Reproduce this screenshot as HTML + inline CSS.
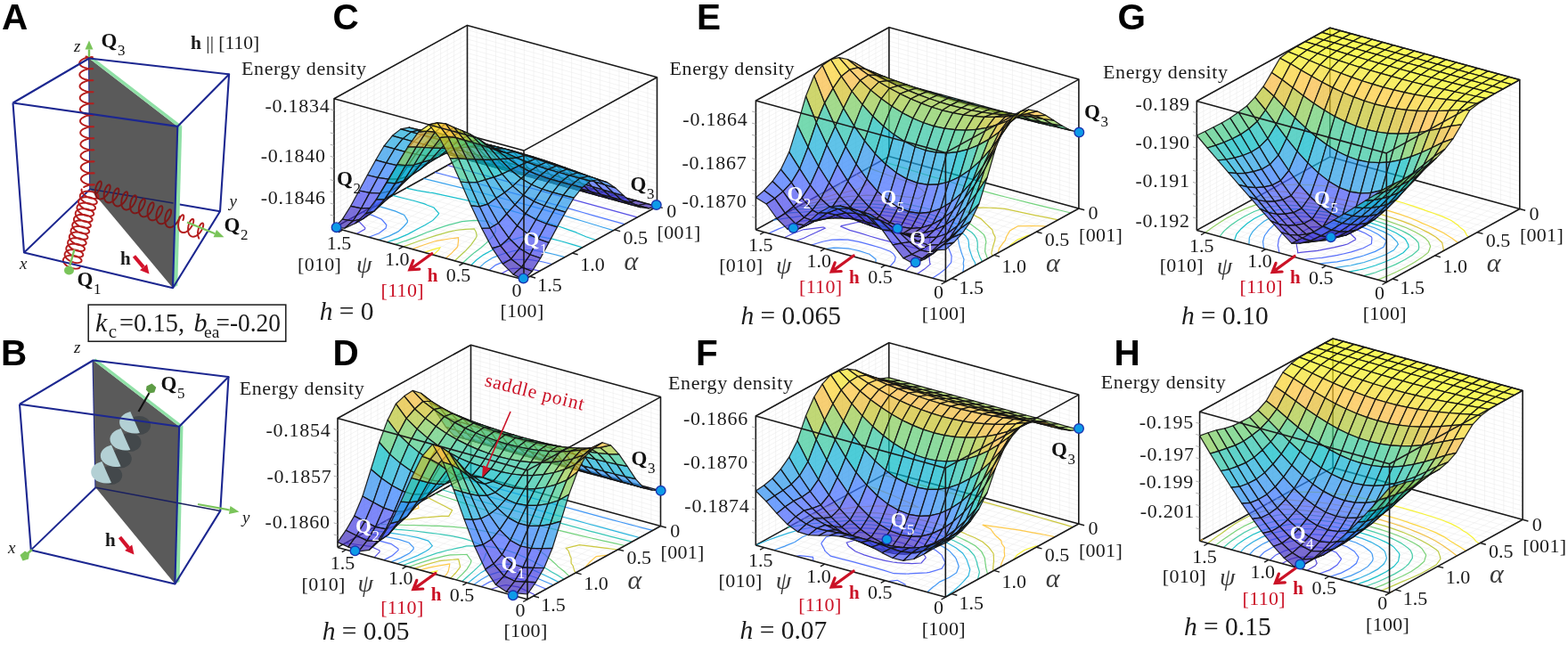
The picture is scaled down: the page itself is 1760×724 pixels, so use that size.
<!DOCTYPE html><html><head><meta charset="utf-8"><title>Figure</title><style>html,body{margin:0;padding:0;background:#fff;overflow:hidden}svg{display:block}</style></head><body><svg width="1760" height="724" viewBox="0 0 1760 724" font-family="Liberation Serif, serif" fill="#1a1a1a"><g id="pA"><path d="M27 283.5L101.2 212.2L247 237.2" fill="none" stroke="#1c2790" stroke-width="2.0"/>
<path d="M101.2 212.2L100 65.5" fill="none" stroke="#1c2790" stroke-width="2.0"/>
<path d="M100 65.5L199.3 141.9L194 323.2L101.2 212.2Z" fill="#5a5a5a"/>
<path d="M100 65.5L199.3 141.9L204.3 141.2L103.5 63.8Z" fill="#8fe0a6"/>
<path d="M199.3 141.9L204.3 141.2L199.3 320.5L194 323.2Z" fill="#8fe0a6"/>
<path d="M101.2 212.2L194.5 228" fill="none" stroke="#1a2060" stroke-width="1.4"/>
<path d="M96.5 63.5L98.5 63.9L100.3 64.2L101.9 64.3L103 64.3L103.8 64.3L104 64.2L103.8 64.1L103 64L101.8 64.1L100.3 64.2L98.5 64.6L96.5 65L94.6 65.7L92.8 66.5L91.3 67.5L90.1 68.6L89.4 69.7L89.1 70.9L89.4 72.1L90.2 73.2L91.4 74.2L93 75.2L94.8 75.9L96.8 76.5L98.7 76.9L100.5 77.2L102.1 77.3L103.3 77.3L104 77.3L104.2 77.2L103.9 77.1L103.2 77L102 77.1L100.4 77.3L98.6 77.6L96.6 78.1L94.7 78.7L92.9 79.6L91.4 80.5L90.2 81.6L89.5 82.8L89.3 84L89.6 85.1L90.4 86.3L91.6 87.3L93.2 88.2L95.1 89L97 89.5L99 90L100.8 90.2L102.3 90.3L103.5 90.4L104.2 90.3L104.4 90.2L104.1 90.1L103.3 90L102.1 90.1L100.5 90.3L98.7 90.6L96.7 91.1L94.8 91.8L93 92.6L91.5 93.6L90.4 94.7L89.7 95.8L89.5 97L89.8 98.2L90.6 99.3L91.9 100.3L93.5 101.2L95.3 102L97.3 102.6L99.2 103L101 103.3L102.5 103.4L103.7 103.4L104.4 103.3L104.6 103.2L104.2 103.1L103.4 103.1L102.2 103.1L100.6 103.3L98.8 103.7L96.8 104.2L94.9 104.8L93.1 105.7L91.6 106.6L90.5 107.7L89.8 108.9L89.7 110.1L90 111.2L90.8 112.4L92.1 113.4L93.7 114.3L95.5 115L97.5 115.6L99.4 116L101.2 116.3L102.7 116.4L103.9 116.4L104.5 116.3L104.7 116.2L104.4 116.1L103.6 116.1L102.3 116.1L100.7 116.3L98.9 116.7L96.9 117.2L95 117.9L93.2 118.7L91.8 119.7L90.6 120.8L90 121.9L89.8 123.1L90.2 124.3L91 125.4L92.3 126.4L93.9 127.3L95.8 128.1L97.7 128.6L99.7 129.1L101.4 129.3L102.9 129.4L104.1 129.4L104.7 129.3L104.9 129.2L104.5 129.1L103.7 129.1L102.4 129.2L100.8 129.4L99 129.7L97 130.2L95.1 130.9L93.4 131.8L91.9 132.7L90.8 133.8L90.1 135L90 136.2L90.4 137.4L91.2 138.5L92.5 139.5L94.2 140.4L96 141.1L98 141.7L99.9 142.1L101.7 142.3L103.2 142.4L104.3 142.4L104.9 142.3L105.1 142.2L104.7 142.1L103.8 142.1L102.6 142.2L100.9 142.4L99.1 142.7L97.1 143.3L95.2 144L93.5 144.8L92 145.8L90.9 146.9L90.3 148.1L90.2 149.2L90.6 150.4L91.4 151.5L92.7 152.5L94.4 153.4L96.3 154.2L98.2 154.7L100.1 155.1L101.9 155.3L103.4 155.4L104.5 155.4L105.1 155.4L105.2 155.2L104.8 155.2L104 155.1L102.7 155.2L101.1 155.4L99.2 155.8L97.3 156.3L95.3 157L93.6 157.9L92.1 158.8L91.1 159.9L90.5 161.1L90.4 162.3L90.8 163.5L91.7 164.6L93 165.6L94.6 166.5L96.5 167.2L98.5 167.7L100.4 168.1L102.1 168.4L103.6 168.5L104.7 168.4L105.3 168.4L105.4 168.3L105 168.2L104.1 168.2L102.8 168.2L101.2 168.4L99.3 168.8L97.4 169.3L95.4 170L93.7 170.9L92.3 171.9L91.2 173L90.6 174.2L90.5 175.4L91 176.5L91.9 177.6L93.2 178.6L94.9 179.5L96.7 180.2L98.7 180.8L100.6 181.2L102.4 181.4L103.8 181.5L104.9 181.5L105.5 181.4L105.6 181.3L105.1 181.2L104.2 181.2L102.9 181.3L101.3 181.5L99.4 181.8L97.5 182.4L95.6 183.1L93.8 184L92.4 185L91.4 186.1L90.8 187.2L90.7 188.4L91.2 189.6L92.1 190.7L93.4 191.7L95.1 192.6L97 193.3L98.9 193.8L100.9 194.2L102.6 194.4L104 194.5L105.1 194.5L105.7 194.4L105.7 194.3L105.3 194.2L104.4 194.2L103 194.3L101.4 194.5L99.5 194.9L97.6 195.4L95.7 196.1L93.9 197L92.5 198L91.5 199.1L90.9 200.3L90.9 201.5L91.4 202.6L92.3 203.7L93.6 204.7L95.3 205.6L97.2 206.3L99.2 206.8L101.1 207.2L102.8 207.4L104.3 207.5L105.3 207.5L105.8 207.4L105.9 207.3L105.4 207.2L104.5 207.2L103.2 207.3L101.5 207.5L99.6 207.9L97.7 208.5L95.8 209.2L94.1 210.1" fill="none" stroke="#b51d1d" stroke-width="1.9" stroke-linejoin="round" stroke-linecap="round"/>
<path d="M91.6 212.4L91.5 214.1L92.1 215.9L93.4 217.6L95.1 219.2L97.3 220.7L99.7 221.8L102.3 222.5L104.7 222.9L106.9 222.9L108.7 222.5L109.9 221.8L110.5 220.9L110.4 219.7L109.7 218.5L108.4 217.3L106.5 216.2L104.1 215.4L101.6 214.8L98.9 214.6L96.3 214.7L94 215.3L92.1 216.2L90.7 217.5L89.9 219L89.8 220.7L90.4 222.4L91.6 224.2L93.4 225.8L95.6 227.2L98 228.3L100.5 229.1L103 229.5L105.2 229.5L106.9 229.1L108.2 228.4L108.8 227.4L108.7 226.3L108 225.1L106.6 223.9L104.7 222.8L102.4 221.9L99.8 221.3L97.2 221.1L94.6 221.3L92.2 221.8L90.3 222.8L88.9 224L88.2 225.5L88.1 227.2L88.7 229L89.9 230.7L91.7 232.4L93.8 233.8L96.3 234.9L98.8 235.7L101.3 236L103.4 236L105.2 235.7L106.5 235L107.1 234L107 232.8L106.3 231.6L104.9 230.4L103 229.3L100.7 228.5L98.1 227.9L95.4 227.7L92.9 227.8L90.5 228.4L88.6 229.3L87.2 230.6L86.5 232.1L86.4 233.8L87 235.6L88.2 237.3L90 238.9L92.1 240.3L94.6 241.5L97.1 242.2L99.5 242.6L101.7 242.6L103.5 242.2L104.7 241.5L105.3 240.5L105.3 239.4L104.6 238.2L103.2 237L101.3 235.9L99 235L96.4 234.5L93.7 234.2L91.1 234.4L88.8 235L86.9 235.9L85.5 237.1L84.8 238.7L84.7 240.3L85.3 242.1L86.5 243.9L88.2 245.5L90.4 246.9L92.8 248L95.4 248.8L97.8 249.2L100 249.2L101.8 248.8L103 248.1L103.6 247.1L103.6 246L102.8 244.7L101.5 243.5L99.6 242.5L97.3 241.6L94.7 241L92 240.8L89.4 241L87.1 241.5L85.2 242.4L83.8 243.7L83 245.2L82.9 246.9L83.5 248.7L84.8 250.4L86.5 252L88.7 253.5L91.1 254.6L93.7 255.3L96.1 255.7L98.3 255.7L100.1 255.3L101.3 254.6L101.9 253.7L101.8 252.5L101.1 251.3L99.8 250.1L97.9 249L95.5 248.2L93 247.6L90.3 247.4L87.7 247.5L85.4 248.1L83.5 249L82.1 250.3L81.3 251.8L81.2 253.5L81.8 255.2L83 257L84.8 258.6L87 260L89.4 261.1L91.9 261.9L94.4 262.3L96.6 262.3L98.3 261.9L99.6 261.2L100.2 260.2L100.1 259.1L99.4 257.9L98 256.7L96.1 255.6L93.8 254.7L91.2 254.1L88.6 253.9L86 254.1L83.6 254.6L81.7 255.6L80.3 256.8L79.6 258.3L79.5 260L80.1 261.8L81.3 263.5L83.1 265.2L85.2 266.6L87.7 267.7L90.2 268.5L92.7 268.8L94.8 268.8L96.6 268.5L97.9 267.8L98.5 266.8L98.4 265.6L97.7 264.4L96.3 263.2L94.4 262.1L92.1 261.3L89.5 260.7L86.8 260.5L84.3 260.6L81.9 261.2L80 262.1L78.6 263.4L77.9 264.9L77.8 266.6L78.4 268.4L79.6 270.1L81.4 271.7L83.5 273.1L86 274.3L88.5 275L90.9 275.4L93.1 275.4L94.9 275L96.1 274.3L96.7 273.3L96.7 272.2L96 271L94.6 269.8L92.7 268.7L90.4 267.8L87.8 267.3L85.1 267L82.5 267.2L80.2 267.8L78.3 268.7L76.9 269.9L76.2 271.5L76.1 273.1L76.7 274.9L77.9 276.7L79.6 278.3L81.8 279.7L84.2 280.8L86.8 281.6L89.2 282L91.4 282L93.2 281.6L94.4 280.9L95 279.9L95 278.8L94.2 277.5L92.9 276.3L91 275.3L88.7 274.4L86.1 273.8L83.4 273.6L80.8 273.8L78.5 274.3L76.6 275.2L75.2 276.5L74.4 278L74.3 279.7L74.9 281.5L76.2 283.2L77.9 284.8L80.1 286.3L82.5 287.4L85.1 288.1L87.5 288.5L89.7 288.5L91.5 288.1L92.7 287.4L93.3 286.5L93.2 285.3L92.5 284.1L91.2 282.9L89.3 281.8L86.9 281L84.4 280.4L81.7 280.2L79.1 280.3L76.8 280.9L74.9 281.8L73.5 283.1L72.7 284.6L72.6 286.3L73.2 288L74.4 289.8L76.2 291.4L78.4 292.8L80.8 293.9L83.3 294.7L85.8 295.1L88 295.1L89.7 294.7L91 294L91.6 293L91.5 291.9L90.8 290.7L89.4 289.5L87.5 288.4L85.2 287.5L82.6 286.9L80 286.7L77.4 286.9L75 287.4L73.1 288.4L71.7 289.6L71 291.1L70.9 292.8L71.5 294.6L72.7 296.3L74.5 298L76.6 299.4L79.1 300.5L81.6 301.3L84.1 301.6L86.2 301.6L88 301.3L89.3 300.6L89.9 299.6" fill="none" stroke="#b51d1d" stroke-width="1.9" stroke-linejoin="round" stroke-linecap="round"/>
<path d="M107.8 217.3L109.6 215.6L111.1 213.5L112.3 211.3L113.2 209.2L113.8 207.1L113.9 205.4L113.6 204.2L113.1 203.5L112.2 203.4L111.2 204L110.1 205.1L109.1 206.7L108.1 208.8L107.4 211.2L107 213.8L106.9 216.3L107.2 218.6L108 220.6L109 222.2L110.5 223.2L112.1 223.6L114 223.3L115.9 222.5L117.7 221.2L119.5 219.4L121 217.3L122.2 215.1L123.1 212.9L123.6 210.9L123.7 209.3L123.4 208.1L122.8 207.4L121.9 207.4L120.9 208L119.8 209.2L118.7 210.9L117.8 213L117.1 215.4L116.7 217.9L116.7 220.4L117.1 222.8L117.8 224.7L118.9 226.2L120.4 227.2L122.1 227.5L123.9 227.2L125.8 226.4L127.7 225L129.4 223.2L130.9 221.1L132.1 218.9L132.9 216.7L133.4 214.8L133.4 213.1L133.1 212L132.5 211.4L131.6 211.4L130.6 212L129.5 213.3L128.4 215L127.5 217.2L126.9 219.6L126.5 222.1L126.5 224.6L126.9 226.9L127.7 228.8L128.8 230.3L130.3 231.2L132 231.5L133.8 231.2L135.8 230.2L137.6 228.8L139.3 227L140.8 224.9L142 222.7L142.8 220.5L143.2 218.6L143.2 217L142.9 215.9L142.2 215.3L141.3 215.4L140.3 216.1L139.2 217.4L138.1 219.2L137.3 221.3L136.6 223.8L136.3 226.3L136.3 228.8L136.7 231.1L137.6 233L138.7 234.4L140.2 235.2L141.9 235.5L143.8 235.1L145.7 234.1L147.6 232.6L149.3 230.8L150.7 228.7L151.8 226.4L152.6 224.3L153 222.4L153 220.8L152.6 219.8L151.9 219.3L151 219.4L150 220.1L148.9 221.5L147.8 223.3L147 225.5L146.4 228L146.1 230.5L146.1 233L146.6 235.2L147.4 237.1L148.6 238.4L150.1 239.2L151.9 239.4L153.7 239L155.7 238L157.5 236.5L159.2 234.6L160.6 232.4L161.7 230.2L162.4 228.1L162.8 226.2L162.7 224.7L162.3 223.7L161.6 223.2L160.7 223.4L159.6 224.2L158.6 225.6L157.5 227.4L156.7 229.7L156.1 232.1L155.8 234.7L155.9 237.1L156.4 239.4L157.3 241.2L158.5 242.5L160.1 243.2L161.8 243.4L163.7 242.9L165.6 241.8L167.4 240.3L169.1 238.3L170.5 236.2L171.6 234L172.3 231.9L172.6 230L172.5 228.5L172.1 227.6L171.3 227.2L170.4 227.4L169.3 228.3L168.2 229.7L167.2 231.6L166.4 233.9L165.8 236.3L165.6 238.9L165.7 241.3L166.3 243.5L167.2 245.3L168.4 246.6L170 247.2L171.8 247.3L173.6 246.8L175.5 245.7L177.4 244.1L179 242.1L180.4 240L181.4 237.8L182.1 235.7L182.4 233.8L182.3 232.4L181.8 231.5L181 231.2L180.1 231.4L179 232.3L177.9 233.8L176.9 235.7L176.1 238L175.6 240.5L175.4 243.1L175.5 245.5L176.1 247.6L177.1 249.4L178.3 250.6L179.9 251.2L181.7 251.3L183.6 250.7L185.5 249.5L187.3 247.9L188.9 245.9L190.3 243.8L191.3 241.5L191.9 239.5L192.1 237.7L192 236.3L191.5 235.4L190.8 235.1L189.8 235.5L188.7 236.4L187.6 237.9L186.6 239.9L185.9 242.2L185.3 244.7L185.2 247.2L185.4 249.7L186 251.8L186.9 253.5L188.3 254.7L189.8 255.2L191.6 255.2L193.5 254.6L195.4 253.4L197.2 251.7L198.8 249.7L200.1 247.5L201.1 245.3L201.7 243.3" fill="none" stroke="#7d1717" stroke-width="1.9" stroke-linejoin="round" stroke-linecap="round"/>
<path d="M205.4 247.1L206.1 245.1L206.3 243.4L206.2 242.2L205.8 241.4L205.1 241.2L204.2 241.6L203.2 242.6L202.2 244.2L201.3 246.2L200.6 248.5L200.2 250.9L200.1 253.4L200.4 255.8L201 257.8L202.1 259.4L203.5 260.5L205.1 261L206.9 261L208.9 260.3L210.8 259.1L212.6 257.5L214.2 255.5L215.5 253.5L216.5 251.4L217.1 249.4L217.3 247.8L217.2 246.6L216.7 245.9L215.9 245.9L215 246.4L214 247.5L213 249.1L212.1 251.1L211.5 253.5L211.1 255.9L211.1 258.4L211.4 260.7L212.1 262.7L213.2 264.2L214.7 265.3L216.3 265.7L218.2 265.5L220.1 264.8L222 263.5L223.8 261.8L225.4 259.9L226.6 257.8L227.6 255.7L228.1 253.8L228.3 252.2L228.1 251.1L227.5 250.5L226.8 250.5L225.8 251.1L224.8 252.3L223.8 254L223 256.1L222.4 258.5L222 260.9L222.1 263.4L222.5 265.7L223.3 267.6" fill="none" stroke="#b51d1d" stroke-width="1.9" stroke-linejoin="round" stroke-linecap="round"/>
<path d="M14.5 115.5L100 65.5L257.1 83.4L199.3 141.9L14.5 115.5" fill="none" stroke="#1c2790" stroke-width="2.1" stroke-linejoin="round"/>
<path d="M14.5 115.5L27 283.5L194 323.2L247 237.2L257.1 83.4" fill="none" stroke="#1c2790" stroke-width="2.1" stroke-linejoin="round"/>
<path d="M199.3 141.9L194 323.2" fill="none" stroke="#1c2790" stroke-width="2.1"/>
<path d="M100 64L100 55.5" stroke="#7ac45a" stroke-width="2.4" fill="none"/><path d="M100 45.5L104.5 55.5L95.5 55.5Z" fill="#7ac45a"/>
<path d="M210 249.5L241.3 262.2" stroke="#7ac45a" stroke-width="2.2" fill="none"/><path d="M251.5 266.3L239.6 266.3L243 258Z" fill="#7ac45a"/>
<path d="M83.5 280L78.5 298" fill="none" stroke="#7ac45a" stroke-width="2.4"/>
<ellipse cx="77.5" cy="303.5" rx="5.5" ry="5" fill="#7ac45a"/>
<text x="83" y="58" font-size="19" font-style="italic">z</text>
<text x="113.5" y="53" font-size="23" font-weight="bold" fill="#111">Q<tspan font-size="17" font-weight="normal" dx="0.5" dy="9.2">3</tspan></text>
<text x="214" y="55" font-size="21.5"><tspan font-weight="bold">h</tspan> || [110]</text>
<text x="257.5" y="232" font-size="19" font-style="italic">y</text>
<text x="251.5" y="259.6" font-size="23" font-weight="bold" fill="#111">Q<tspan font-size="17" font-weight="normal" dx="0.5" dy="9.2">2</tspan></text>
<text x="22" y="302" font-size="19" font-style="italic">x</text>
<text x="86.5" y="321" font-size="23" font-weight="bold" fill="#111">Q<tspan font-size="17" font-weight="normal" dx="0.5" dy="9.2">1</tspan></text>
<text x="135" y="297" font-size="21" font-weight="bold">h</text>
<path d="M150.5 287.5L161 299.9" stroke="#d3122b" stroke-width="4.2" fill="none"/><path d="M167.5 307.5L157 303.3L165 296.5Z" fill="#d3122b"/>
<rect x="99.2" y="342.1" width="221.6" height="41.1" fill="#fff" stroke="#1a1a1a" stroke-width="1.5"/>
<text font-size="30"><tspan x="107" y="372.2" font-style="italic">k</tspan><tspan x="121.8" y="378.8" font-size="21">c</tspan><tspan x="134" y="372.2" textLength="73" lengthAdjust="spacingAndGlyphs">=0.15,</tspan><tspan x="210" y="372.2"> </tspan><tspan x="217.5" y="372.2" font-style="italic">b</tspan><tspan x="229" y="378.8" font-size="19.5">ea</tspan><tspan x="242.5" y="372.2" textLength="72.5" lengthAdjust="spacingAndGlyphs">=-0.20</tspan></text></g>
<g id="pB"><path d="M34.8 617.4L107.4 547.3" fill="none" stroke="#1c2790" stroke-width="2.0"/>
<path d="M107.4 547.3L104.5 404.5" fill="none" stroke="#1c2790" stroke-width="2.0"/>
<path d="M104.5 404.5L201.2 478.7L196.4 655.5L107.4 547.3Z" fill="#5a5a5a"/>
<path d="M104.5 404.5L201.2 478.7L205.5 478L107.5 402.5Z" fill="#8fe0a6"/>
<path d="M201.2 478.7L205.5 478L201.5 653L196.4 655.5Z" fill="#8fe0a6"/>
<path d="M107.4 547.3L247.3 573.4" fill="none" stroke="#1a2060" stroke-width="1.5"/>
<path d="M137.2 533.5L137 535.3L136.4 537.1L135.5 538.8L134.2 540.2L132.6 541.5L130.7 542.6L128.6 543.4L126.5 543.8L124.2 544L121.9 543.8L119.8 543.4L117.7 542.6L115.8 541.5L114.2 540.2L112.9 538.8L112 537.1L111.4 535.3L111.2 533.5L111.4 531.7L112 529.9L112.9 528.2L114.2 526.8L115.8 525.5L117.7 524.4L119.8 523.6L121.9 523.2L124.2 523L126.5 523.2L128.6 523.6L130.7 524.4L132.6 525.5L134.2 526.8L135.5 528.2L136.4 529.9L137 531.7Z" fill="#43484b"/>
<path d="M147.8 515L147.6 516.8L147 518.6L146.1 520.2L144.8 521.7L143.2 523L141.3 524.1L139.2 524.9L137.1 525.3L134.8 525.5L132.5 525.3L130.4 524.9L128.3 524.1L126.4 523L124.8 521.7L123.5 520.2L122.6 518.6L122 516.8L121.8 515L122 513.2L122.6 511.4L123.5 509.8L124.8 508.3L126.4 507L128.3 505.9L130.4 505.1L132.5 504.7L134.8 504.5L137.1 504.7L139.2 505.1L141.3 505.9L143.2 507L144.8 508.3L146.1 509.8L147 511.4L147.6 513.2Z" fill="#43484b"/>
<path d="M158.5 496.5L158.3 498.3L157.7 500.1L156.8 501.8L155.5 503.2L153.9 504.5L152 505.6L149.9 506.4L147.8 506.8L145.5 507L143.2 506.8L141.1 506.4L139 505.6L137.1 504.5L135.5 503.2L134.2 501.8L133.3 500.1L132.7 498.3L132.5 496.5L132.7 494.7L133.3 492.9L134.2 491.2L135.5 489.8L137.1 488.5L139 487.4L141.1 486.6L143.2 486.2L145.5 486L147.8 486.2L149.9 486.6L152 487.4L153.9 488.5L155.5 489.8L156.8 491.2L157.7 492.9L158.3 494.7Z" fill="#43484b"/>
<path d="M169.1 477.5L168.9 479.3L168.3 481.1L167.4 482.8L166.1 484.2L164.5 485.5L162.6 486.6L160.5 487.4L158.4 487.8L156.1 488L153.8 487.8L151.7 487.4L149.6 486.6L147.7 485.5L146.1 484.2L144.8 482.8L143.9 481.1L143.3 479.3L143.1 477.5L143.3 475.7L143.9 473.9L144.8 472.2L146.1 470.8L147.7 469.5L149.6 468.4L151.7 467.6L153.8 467.2L156.1 467L158.4 467.2L160.5 467.6L162.6 468.4L164.5 469.5L166.1 470.8L167.4 472.2L168.3 473.9L168.9 475.7Z" fill="#43484b"/>
<path d="M125 541.9L122 542.4L119 542.5L116 542.2L113 541.6L110.3 540.6L107.9 539.2L105.8 537.6L104.2 535.8L103 533.8L102.4 531.7L102.2 529.5L102.6 527.3L103.5 525.2L104.9 523.3L106.8 521.6L109 520.1L111.6 518.9L114.4 518.1Z" fill="#b3d0d4"/>
<path d="M135.6 523.4L132.6 523.9L129.6 524L126.6 523.7L123.6 523.1L120.9 522.1L118.5 520.7L116.4 519.1L114.8 517.3L113.6 515.3L113 513.2L112.8 511L113.2 508.8L114.1 506.7L115.5 504.8L117.4 503.1L119.6 501.6L122.2 500.4L125 499.6Z" fill="#b3d0d4"/>
<path d="M146.3 504.9L143.3 505.4L140.3 505.5L137.3 505.2L134.3 504.6L131.6 503.6L129.2 502.2L127.1 500.6L125.5 498.8L124.3 496.8L123.7 494.7L123.5 492.5L123.9 490.3L124.8 488.2L126.2 486.3L128.1 484.6L130.3 483.1L132.9 481.9L135.7 481.1Z" fill="#b3d0d4"/>
<path d="M156.9 485.9L153.9 486.4L150.9 486.5L147.9 486.2L144.9 485.6L142.2 484.6L139.8 483.2L137.7 481.6L136.1 479.8L134.9 477.8L134.3 475.7L134.1 473.5L134.5 471.3L135.4 469.2L136.8 467.3L138.7 465.6L140.9 464.1L143.5 462.9L146.3 462.1Z" fill="#b3d0d4"/>
<path d="M155.5 462L167.5 441" fill="none" stroke="#111" stroke-width="2.1"/>
<path d="M164.5 433.5L170.5 430.5L175.3 434.8L173.3 440.5L167.3 441.5L164 437.5Z" fill="#5d9c45"/>
<path d="M22 453.7L104.5 404.5L256.5 423L201.2 478.7L22 453.7" fill="none" stroke="#1c2790" stroke-width="2.1" stroke-linejoin="round"/>
<path d="M22 453.7L34.8 617.4L196.4 655.5L247.3 573.4L256.5 423" fill="none" stroke="#1c2790" stroke-width="2.1" stroke-linejoin="round"/>
<path d="M201.2 478.7L196.4 655.5" fill="none" stroke="#1c2790" stroke-width="2.1"/>
<path d="M222 566L257.7 572.5" stroke="#7ac45a" stroke-width="2.2" fill="none"/><path d="M268.5 574.5L256.9 576.9L258.5 568.1Z" fill="#7ac45a"/>
<path d="M36 617L30 622" fill="none" stroke="#7ac45a" stroke-width="2.4"/>
<path d="M22.5 623L28 618.5L33 621.5L32 627.5L25.5 629.5Z" fill="#7ac45a"/>
<text x="83" y="396" font-size="19" font-style="italic">z</text>
<text x="180.5" y="437.5" font-size="23" font-weight="bold" fill="#111">Q<tspan font-size="17" font-weight="normal" dx="0.5" dy="9.2">5</tspan></text>
<text x="272" y="587" font-size="19" font-style="italic">y</text>
<text x="9" y="620.7" font-size="19" font-style="italic">x</text>
<text x="118" y="613" font-size="21" font-weight="bold">h</text>
<path d="M134.5 603L144.2 614.8" stroke="#d3122b" stroke-width="4.2" fill="none"/><path d="M150.5 622.5L140.1 618.1L148.2 611.4Z" fill="#d3122b"/></g>
<text x="2" y="32.5" font-size="40.5" font-weight="bold" font-family="Liberation Sans, sans-serif" fill="#000">A</text>
<text x="1" y="409.5" font-size="40.5" font-weight="bold" font-family="Liberation Sans, sans-serif" fill="#000">B</text>
<g id="pC"><path d="M385.6 258.5L535.1 176.2M382.5 251.5L595.5 309.9M382.5 251.5L382.5 106.6M535.1 176.2L535.1 31.3M396.3 261.4L545.8 179.1M389.9 247.4L603 305.8M389.9 247.4L389.9 102.5M545.8 179.1L545.8 34.2M406.9 264.4L556.5 182.1M397.4 243.3L610.4 301.7M397.4 243.3L397.4 98.4M556.5 182.1L556.5 37.2M417.6 267.3L567.1 185M404.9 239.1L617.9 297.5M404.9 239.1L404.9 94.2M567.1 185L567.1 40.1M428.2 270.2L577.8 187.9M412.4 235L625.4 293.4M412.4 235L412.4 90.1M577.8 187.9L577.8 43M438.9 273.1L588.4 190.8M419.9 230.9L632.9 289.3M419.9 230.9L419.9 86M588.4 190.8L588.4 45.9M449.6 276L599 193.7M427.3 226.8L640.3 285.2M427.3 226.8L427.3 81.9M599 193.7L599 48.8M460.2 279L609.7 196.7M434.8 222.7L647.8 281.1M434.8 222.7L434.8 77.8M609.7 196.7L609.7 51.8M470.9 281.9L620.4 199.6M442.3 218.6L655.3 277M442.3 218.6L442.3 73.7M620.4 199.6L620.4 54.7M481.5 284.8L631 202.5M449.8 214.4L662.8 272.9M449.8 214.4L449.8 69.5M631 202.5L631 57.6M492.1 287.7L641.6 205.4M457.2 210.3L670.2 268.7M457.2 210.3L457.2 65.4M641.6 205.4L641.6 60.5M502.8 290.6L652.3 208.3M464.7 206.2L677.7 264.6M464.7 206.2L464.7 61.3M652.3 208.3L652.3 63.4M513.5 293.6L663 211.3M472.2 202.1L685.2 260.5M472.2 202.1L472.2 57.2M663 211.3L663 66.4M524.1 296.5L673.6 214.2M479.6 198L692.6 256.4M479.6 198L479.6 53.1M673.6 214.2L673.6 69.3M534.8 299.4L684.2 217.1M487.1 193.9L700.1 252.3M487.1 193.9L487.1 49M684.2 217.1L684.2 72.2M545.4 302.3L694.9 220M494.6 189.8L707.6 248.2M494.6 189.8L494.6 44.9M694.9 220L694.9 75.1M556 305.2L705.5 222.9M502.1 185.6L715.1 244M502.1 185.6L502.1 40.7M705.5 222.9L705.5 78M566.7 308.2L716.2 225.9M509.6 181.5L722.5 239.9M509.6 181.5L509.6 36.6M716.2 225.9L716.2 81M577.4 311.1L726.9 228.8M517 177.4L730 235.8M517 177.4L517 32.5M726.9 228.8L726.9 83.9M375 250.4L524.5 168.1L737.5 226.5M375 245.2L524.5 163L737.5 221.3M375 240.1L524.5 157.8L737.5 216.2M375 234.9L524.5 152.6L737.5 211M375 229.7L524.5 147.4L737.5 205.8M375 224.5L524.5 142.2L737.5 200.6M375 219.4L524.5 137.1L737.5 195.5M375 214.2L524.5 131.9L737.5 190.3M375 209L524.5 126.7L737.5 185.1M375 203.8L524.5 121.6L737.5 179.9M375 198.7L524.5 116.4L737.5 174.8M375 193.5L524.5 111.2L737.5 169.6M375 188.3L524.5 106L737.5 164.4M375 183.1L524.5 100.9L737.5 159.2M375 178L524.5 95.7L737.5 154.1M375 172.8L524.5 90.5L737.5 148.9M375 167.6L524.5 85.3L737.5 143.7M375 162.4L524.5 80.2L737.5 138.5M375 157.3L524.5 75L737.5 133.4M375 152.1L524.5 69.8L737.5 128.2M375 146.9L524.5 64.6L737.5 123M375 141.8L524.5 59.5L737.5 117.8M375 136.6L524.5 54.3L737.5 112.7M375 131.4L524.5 49.1L737.5 107.5M375 126.2L524.5 43.9L737.5 102.3M375 121L524.5 38.8L737.5 97.1M375 115.9L524.5 33.6L737.5 92" fill="none" stroke="#e9e9e9" stroke-width="0.5"/>
<path d="M375 255.6L524.5 173.3L737.5 231.7M524.5 173.3L524.5 28.4" fill="none" stroke="#1a1a1a" stroke-width="1.6"/>
<path d="M605.8 304.2L593.1 301.4L575.6 301.3L572.2 302L562.9 307.1M400.1 262.5L409.5 257.3L409.9 255.9L403.8 249.5L392.8 245.8M502.4 185.5L514.2 188.7L526.1 192L537.9 195.2L549.7 198.4L561.6 201.7L573.4 204.9L585.2 208.2L597.1 211.4L608.9 214.7L620.7 217.9L632.6 221.2L644.4 224.4L656.2 227.6L668.1 230.9L679.9 234.1L691.7 237.4L703.5 240.6L715.4 243.9" fill="none" stroke="#473fe3" stroke-width="1.2" stroke-opacity="0.9"/>
<path d="M619.8 296.5L607.4 293.5L593.6 291.4L589.4 291.3L575.8 291.4L567.3 292.9L556.2 297.6L549.1 303.3M413.9 266.3L425.5 261.7L433.1 256.1L433.8 252.5L429.6 247.5L428 246L418.1 241.6L406.8 238.1M488.2 193.3L500.1 196.5L512 199.7L524 202.8L536 206L547.9 209.2L559.8 212.4L571.7 215.6L583.6 218.8L595.4 222.1L607.3 225.3L619 228.6L630.8 231.9L642.6 235.2L654.3 238.5L666 241.8L677.7 245.1L689.4 248.4L701.2 251.7" fill="none" stroke="#406cfe" stroke-width="1.2" stroke-opacity="0.9"/>
<path d="M634 288.7L622 285.5L609.7 282.6L595.8 280.5L580.4 281.1L575.6 281.8L565.6 284.7L553.4 289.1L544.7 294.4L538.2 300.4M424.8 269.2L437 264.9L447 259.9L453.4 254L457.3 249.4L457.4 247.4L453.8 241.5L444 237.1L432.7 233.6L421 230.3M475.5 200.3L487.7 203.3L499.9 206.4L512.1 209.4L524.3 212.4L536.5 215.5L548.6 218.6L560.6 221.8L567.1 223.5L572.5 225L584.4 228.2L596.2 231.4L601.5 232.9L607.9 234.7L619.6 238.1L631.2 241.5L642.7 244.9L654.1 248.3L665.6 251.8L677 255.3L688.5 258.7" fill="none" stroke="#2699ea" stroke-width="1.2" stroke-opacity="0.9"/>
<path d="M653.8 277.8L642.2 274.4L630.7 271L618.6 267.9L614.2 267.2L605.3 265.4L587.3 265.6L583.6 266.6L570.6 270.7L560.9 275.7L551.8 281L542.5 286.1L534.9 291.7L528.6 297.7M434.4 271.9L446.8 267.6L457.9 262.9L467.3 257.8L476.9 252.7L485.8 247.4L491.5 241.3L492.6 239.6L487 233L479.6 230.3L476.6 228.9L465 225.5L452.9 222.5L440.8 219.4M455.9 211.1L468.5 213.9L482.2 216.1L485.1 216.4L495.3 218.7L508.1 221.4L520.8 224.1L533.6 226.8L546.3 229.6L558.8 232.5L570.9 235.6L582.5 239L593.6 242.6L604.6 246.3L615.5 250.1L626.4 253.8L637.3 257.6L646.1 260.6L647.9 261.5L657.8 265.8L668.9 269.5" fill="none" stroke="#01b8c8" stroke-width="1.2" stroke-opacity="0.9"/>
<path d="M443.5 274.4L453.7 270.8L455.9 270.1L467.7 265.6L478.9 261L490.9 256.6L503.9 252.4L506 251.8L518.6 248.7L531.9 247.3L544.3 248.1L547.7 248.3L549.5 249.5L555.5 253.8L556.5 259.1L553.3 264.8L552.5 265.7L546.9 271.9L540.2 277.8L532.7 283.4L525.8 289.2L524.7 290.3L519.5 295.2" fill="none" stroke="#41ca8c" stroke-width="1.2" stroke-opacity="0.9"/>
<path d="M452.7 276.9L464.9 272.5L474.7 269L477.2 268.2L490.2 264.1L504.2 260.2L511.5 258.5L522 257.4L532.3 256.8L534.4 260.8L535.2 265L533.5 268.2L528.9 274.7L523.2 280.8L522 282L516.8 286.8L510.3 292.7" fill="none" stroke="#acc738" stroke-width="1.2" stroke-opacity="0.9"/>
<path d="M462.7 279.6L474.7 275.2L487.5 271L490 270.4L504.6 268L514.5 266.6L514.5 270.7L513.7 276.8L512.8 278L506.9 284.1L500.3 290" fill="none" stroke="#fdbd3d" stroke-width="1.2" stroke-opacity="0.9"/>
<path d="M476.3 283.4L489 279.1L493.9 278L492.7 280.2L486.7 286.2" fill="none" stroke="#f5ee21" stroke-width="1.2" stroke-opacity="0.9"/>
<g fill-opacity="0.70" stroke="#151515" stroke-opacity="0.95" stroke-width="1.20" stroke-linejoin="round"><path d="M536.3 176.5L524.5 173.3L515.2 175.4L527 178.6Z" fill="#3e27aa"/><path d="M527 178.6L515.2 175.4L505.8 174.2L517.6 177.5Z" fill="#402ab5"/><path d="M517.6 177.5L505.8 174.2L496.5 169.4L508.3 172.6Z" fill="#4433cc"/><path d="M508.3 172.6L496.5 169.4L487.1 161.2L499 164.3Z" fill="#4746ea"/><path d="M499 164.3L487.1 161.2L477.8 152.5L489.6 155.5Z" fill="#4563fc"/><path d="M489.6 155.5L477.8 152.5L468.4 146.2L480.3 148.8Z" fill="#2e84f9"/><path d="M480.3 148.8L468.4 146.2L459.1 143.1L470.9 145.9Z" fill="#259ce7"/><path d="M470.9 145.9L459.1 143.1L449.8 144.9L461.6 148.1Z" fill="#1caadf"/><path d="M461.6 148.1L449.8 144.9L440.4 152.3L452.2 155.6Z" fill="#19addc"/><path d="M452.2 155.6L440.4 152.3L431.1 163.8L442.9 167.2Z" fill="#1fa6e1"/><path d="M442.9 167.2L431.1 163.8L421.7 179.7L433.6 182.8Z" fill="#2797eb"/><path d="M433.6 182.8L421.7 179.7L412.4 196.5L424.2 199.3Z" fill="#307efb"/><path d="M424.2 199.3L412.4 196.5L403 214L414.9 216.4Z" fill="#4562fc"/><path d="M414.9 216.4L403 214L393.7 231.3L405.5 233.8Z" fill="#4848ec"/><path d="M405.5 233.8L393.7 231.3L384.3 246.1L396.2 248Z" fill="#4433cd"/><path d="M396.2 248L384.3 246.1L375 255.6L386.8 256.2Z" fill="#402ab4"/><path d="M548.2 179.8L536.3 176.5L527 178.6L538.8 181.9Z" fill="#3e27aa"/><path d="M538.8 181.9L527 178.6L517.6 177.5L529.5 180.7Z" fill="#402ab5"/><path d="M529.5 180.7L517.6 177.5L508.3 172.6L520.1 175.8Z" fill="#4433cc"/><path d="M520.1 175.8L508.3 172.6L499 164.3L510.8 167.4Z" fill="#4746ea"/><path d="M510.8 167.4L499 164.3L489.6 155.5L501.4 158.3Z" fill="#4563fd"/><path d="M501.4 158.3L489.6 155.5L480.3 148.8L492.1 151.1Z" fill="#2e85f8"/><path d="M492.1 151.1L480.3 148.8L470.9 145.9L482.8 148.5Z" fill="#249de6"/><path d="M482.8 148.5L470.9 145.9L461.6 148.1L473.4 151.4Z" fill="#1baade"/><path d="M473.4 151.4L461.6 148.1L452.2 155.6L464.1 159Z" fill="#19addc"/><path d="M464.1 159L452.2 155.6L442.9 167.2L454.7 170.4Z" fill="#1fa6e2"/><path d="M454.7 170.4L442.9 167.2L433.6 182.8L445.4 185.6Z" fill="#2797eb"/><path d="M445.4 185.6L433.6 182.8L424.2 199.3L436 201.1Z" fill="#3080fb"/><path d="M436 201.1L424.2 199.3L414.9 216.4L426.7 217Z" fill="#4465fd"/><path d="M426.7 217L414.9 216.4L405.5 233.8L417.4 233.4Z" fill="#484df0"/><path d="M417.4 233.4L405.5 233.8L396.2 248L408 245.3Z" fill="#4538d8"/><path d="M408 245.3L396.2 248L386.8 256.2L398.7 250.8Z" fill="#4330c5"/><path d="M560 183L548.2 179.8L538.8 181.9L550.7 185.1Z" fill="#3e27aa"/><path d="M550.7 185.1L538.8 181.9L529.5 180.7L541.3 184Z" fill="#402ab5"/><path d="M541.3 184L529.5 180.7L520.1 175.8L532 179Z" fill="#4433cc"/><path d="M532 179L520.1 175.8L510.8 167.4L522.6 170.4Z" fill="#4746ea"/><path d="M522.6 170.4L510.8 167.4L501.4 158.3L513.3 161Z" fill="#4464fd"/><path d="M513.3 161L501.4 158.3L492.1 151.1L503.9 153.4Z" fill="#2e86f7"/><path d="M503.9 153.4L492.1 151.1L482.8 148.5L494.6 151.1Z" fill="#249fe5"/><path d="M494.6 151.1L482.8 148.5L473.4 151.4L485.2 154.6Z" fill="#1aabdd"/><path d="M485.2 154.6L473.4 151.4L464.1 159L475.9 162.1Z" fill="#19addc"/><path d="M475.9 162.1L464.1 159L454.7 170.4L466.6 173.2Z" fill="#1fa6e1"/><path d="M466.6 173.2L454.7 170.4L445.4 185.6L457.2 187.2Z" fill="#2798ea"/><path d="M457.2 187.2L445.4 185.6L436 201.1L447.9 200.9Z" fill="#2e84f9"/><path d="M447.9 200.9L436 201.1L426.7 217L438.5 214.3Z" fill="#3f6dfe"/><path d="M438.5 214.3L426.7 217L417.4 233.4L429.2 228.3Z" fill="#4759f8"/><path d="M429.2 228.3L417.4 233.4L408 245.3L419.8 237.1Z" fill="#4747eb"/><path d="M419.8 237.1L408 245.3L398.7 250.8L410.5 239.6Z" fill="#4741e6"/><path d="M571.8 186.3L560 183L550.7 185.1L562.5 188.4Z" fill="#3e27aa"/><path d="M562.5 188.4L550.7 185.1L541.3 184L553.1 187.2Z" fill="#402ab5"/><path d="M553.1 187.2L541.3 184L532 179L543.8 182.2Z" fill="#4433cc"/><path d="M543.8 182.2L532 179L522.6 170.4L534.5 173.5Z" fill="#4746eb"/><path d="M534.5 173.5L522.6 170.4L513.3 161L525.1 163.8Z" fill="#4465fd"/><path d="M525.1 163.8L513.3 161L503.9 153.4L515.8 155.6Z" fill="#2d88f6"/><path d="M515.8 155.6L503.9 153.4L494.6 151.1L506.4 153.7Z" fill="#22a1e4"/><path d="M506.4 153.7L494.6 151.1L485.2 154.6L497.1 157.7Z" fill="#19acdc"/><path d="M497.1 157.7L485.2 154.6L475.9 162.1L487.7 164.8Z" fill="#19addb"/><path d="M487.7 164.8L475.9 162.1L466.6 173.2L478.4 174.8Z" fill="#1ea8e1"/><path d="M478.4 174.8L466.6 173.2L457.2 187.2L469.1 186.6Z" fill="#259ce7"/><path d="M469.1 186.6L457.2 187.2L447.9 200.9L459.7 197.4Z" fill="#2d8df2"/><path d="M459.7 197.4L447.9 200.9L438.5 214.3L450.4 207.6Z" fill="#317efb"/><path d="M450.4 207.6L438.5 214.3L429.2 228.3L441 218.1Z" fill="#3e6fff"/><path d="M441 218.1L429.2 228.3L419.8 237.1L431.7 223.6Z" fill="#4563fd"/><path d="M431.7 223.6L419.8 237.1L410.5 239.6L422.3 223.9Z" fill="#4564fd"/><path d="M583.7 189.5L571.8 186.3L562.5 188.4L574.3 191.6Z" fill="#3e27aa"/><path d="M574.3 191.6L562.5 188.4L553.1 187.2L565 190.5Z" fill="#402ab5"/><path d="M565 190.5L553.1 187.2L543.8 182.2L555.6 185.5Z" fill="#4433cc"/><path d="M555.6 185.5L543.8 182.2L534.5 173.5L546.3 176.5Z" fill="#4746eb"/><path d="M546.3 176.5L534.5 173.5L525.1 163.8L536.9 166.7Z" fill="#4465fd"/><path d="M536.9 166.7L525.1 163.8L515.8 155.6L527.6 158Z" fill="#2d89f5"/><path d="M527.6 158L515.8 155.6L506.4 153.7L518.3 156.3Z" fill="#21a3e3"/><path d="M518.3 156.3L506.4 153.7L497.1 157.7L508.9 160.4Z" fill="#18addb"/><path d="M508.9 160.4L497.1 157.7L487.7 164.8L499.6 166.4Z" fill="#17aeda"/><path d="M499.6 166.4L487.7 164.8L478.4 174.8L490.2 174.3Z" fill="#1babde"/><path d="M490.2 174.3L478.4 174.8L469.1 186.6L480.9 183Z" fill="#20a4e3"/><path d="M480.9 183L469.1 186.6L459.7 197.4L471.5 190.2Z" fill="#259ce7"/><path d="M471.5 190.2L459.7 197.4L450.4 207.6L462.2 196.6Z" fill="#2896ec"/><path d="M462.2 196.6L450.4 207.6L441 218.1L452.9 203.2Z" fill="#2b91ef"/><path d="M452.9 203.2L441 218.1L431.7 223.6L443.5 205.8Z" fill="#2c8ef2"/><path d="M443.5 205.8L431.7 223.6L422.3 223.9L434.2 204.9Z" fill="#2994ed"/><path d="M595.5 192.8L583.7 189.5L574.3 191.6L586.2 194.9Z" fill="#3e27aa"/><path d="M586.2 194.9L574.3 191.6L565 190.5L576.8 193.7Z" fill="#402ab5"/><path d="M576.8 193.7L565 190.5L555.6 185.5L567.5 188.7Z" fill="#4433cc"/><path d="M567.5 188.7L555.6 185.5L546.3 176.5L558.1 179.6Z" fill="#4747eb"/><path d="M558.1 179.6L546.3 176.5L536.9 166.7L548.8 169.6Z" fill="#4466fd"/><path d="M548.8 169.6L536.9 166.7L527.6 158L539.4 160.5Z" fill="#2d8af5"/><path d="M539.4 160.5L527.6 158L518.3 156.3L530.1 158.8Z" fill="#20a4e3"/><path d="M530.1 158.8L518.3 156.3L508.9 160.4L520.8 162.6Z" fill="#16afd9"/><path d="M520.8 162.6L508.9 160.4L499.6 166.4L511.4 166.6Z" fill="#13b0d7"/><path d="M511.4 166.6L499.6 166.4L490.2 174.3L502.1 171.2Z" fill="#12b1d6"/><path d="M502.1 171.2L490.2 174.3L480.9 183L492.7 176Z" fill="#13b0d7"/><path d="M492.7 176L480.9 183L471.5 190.2L483.4 179.4Z" fill="#14b0d8"/><path d="M483.4 179.4L471.5 190.2L462.2 196.6L474 182.1Z" fill="#11b1d5"/><path d="M474 182.1L462.2 196.6L452.9 203.2L464.7 185Z" fill="#0ab4d2"/><path d="M464.7 185L452.9 203.2L443.5 205.8L455.3 185.5Z" fill="#03b7cc"/><path d="M455.3 185.5L443.5 205.8L434.2 204.9L446 184.5Z" fill="#0abdbd"/><path d="M607.3 196L595.5 192.8L586.2 194.9L598 198.1Z" fill="#3e27aa"/><path d="M598 198.1L586.2 194.9L576.8 193.7L588.6 197Z" fill="#402ab5"/><path d="M588.6 197L576.8 193.7L567.5 188.7L579.3 191.9Z" fill="#4433cc"/><path d="M579.3 191.9L567.5 188.7L558.1 179.6L570 182.7Z" fill="#4747eb"/><path d="M570 182.7L558.1 179.6L548.8 169.6L560.6 172.5Z" fill="#4466fd"/><path d="M560.6 172.5L548.8 169.6L539.4 160.5L551.3 163.2Z" fill="#2d8bf4"/><path d="M551.3 163.2L539.4 160.5L530.1 158.8L541.9 161.4Z" fill="#1fa6e2"/><path d="M541.9 161.4L530.1 158.8L520.8 162.6L532.6 164.1Z" fill="#13b0d7"/><path d="M532.6 164.1L520.8 162.6L511.4 166.6L523.2 165.2Z" fill="#0ab4d1"/><path d="M523.2 165.2L511.4 166.6L502.1 171.2L513.9 165.8Z" fill="#01b9c8"/><path d="M513.9 165.8L502.1 171.2L492.7 176L504.6 166.4Z" fill="#0bbdbd"/><path d="M504.6 166.4L492.7 176L483.4 179.4L495.2 166.3Z" fill="#20c1b1"/><path d="M495.2 166.3L483.4 179.4L474 182.1L485.9 165.9Z" fill="#30c5a1"/><path d="M485.9 165.9L474 182.1L464.7 185L476.5 165.5Z" fill="#3fca8e"/><path d="M476.5 165.5L464.7 185L455.3 185.5L467.2 164.9Z" fill="#5dcc75"/><path d="M467.2 164.9L455.3 185.5L446 184.5L457.8 164.7Z" fill="#83cc57"/><path d="M619.2 199.3L607.3 196L598 198.1L609.8 201.3Z" fill="#3e27aa"/><path d="M609.8 201.3L598 198.1L588.6 197L600.5 200.2Z" fill="#402ab5"/><path d="M600.5 200.2L588.6 197L579.3 191.9L591.1 195.1Z" fill="#4433cc"/><path d="M591.1 195.1L579.3 191.9L570 182.7L581.8 185.9Z" fill="#4747eb"/><path d="M581.8 185.9L570 182.7L560.6 172.5L572.4 175.6Z" fill="#4366fd"/><path d="M572.4 175.6L560.6 172.5L551.3 163.2L563.1 166.1Z" fill="#2d8bf3"/><path d="M563.1 166.1L551.3 163.2L541.9 161.4L553.8 164Z" fill="#1ea6e1"/><path d="M553.8 164L541.9 161.4L532.6 164.1L544.4 165.2Z" fill="#10b2d5"/><path d="M544.4 165.2L532.6 164.1L523.2 165.2L535.1 163.1Z" fill="#01b8c9"/><path d="M535.1 163.1L523.2 165.2L513.9 165.8L525.7 159.5Z" fill="#1bc0b4"/><path d="M525.7 159.5L513.9 165.8L504.6 166.4L516.4 156.4Z" fill="#36c899"/><path d="M516.4 156.4L504.6 166.4L495.2 166.3L507 153.5Z" fill="#5bcc77"/><path d="M507 153.5L495.2 166.3L485.9 165.9L497.7 150.9Z" fill="#8dcb4f"/><path d="M497.7 150.9L485.9 165.9L476.5 165.5L488.4 148.1Z" fill="#bec32e"/><path d="M488.4 148.1L476.5 165.5L467.2 164.9L479 147.1Z" fill="#e6bb2d"/><path d="M479 147.1L467.2 164.9L457.8 164.7L469.7 148.2Z" fill="#fdbd3d"/><path d="M631 202.5L619.2 199.3L609.8 201.3L621.7 204.6Z" fill="#3e27aa"/><path d="M621.7 204.6L609.8 201.3L600.5 200.2L612.3 203.5Z" fill="#402ab5"/><path d="M612.3 203.5L600.5 200.2L591.1 195.1L603 198.4Z" fill="#4433cc"/><path d="M603 198.4L591.1 195.1L581.8 185.9L593.6 189.1Z" fill="#4747eb"/><path d="M593.6 189.1L581.8 185.9L572.4 175.6L584.3 178.8Z" fill="#4367fd"/><path d="M584.3 178.8L572.4 175.6L563.1 166.1L574.9 169.2Z" fill="#2d8cf3"/><path d="M574.9 169.2L563.1 166.1L553.8 164L565.6 166.8Z" fill="#1ea7e1"/><path d="M565.6 166.8L553.8 164L544.4 165.2L556.2 166.9Z" fill="#0cb3d3"/><path d="M556.2 166.9L544.4 165.2L535.1 163.1L546.9 162.4Z" fill="#04bbc2"/><path d="M546.9 162.4L535.1 163.1L525.7 159.5L537.6 156.2Z" fill="#2fc5a3"/><path d="M537.6 156.2L525.7 159.5L516.4 156.4L528.2 150.9Z" fill="#5fcd73"/><path d="M528.2 150.9L516.4 156.4L507 153.5L518.9 146.7Z" fill="#a2c83f"/><path d="M518.9 146.7L507 153.5L497.7 150.9L509.5 143Z" fill="#dabd28"/><path d="M509.5 143L497.7 150.9L488.4 148.1L500.2 138.9Z" fill="#febe3c"/><path d="M500.2 138.9L488.4 148.1L479 147.1L490.8 137.8Z" fill="#f8d82c"/><path d="M490.8 137.8L479 147.1L469.7 148.2L481.5 139.9Z" fill="#f5ea23"/><path d="M642.8 205.7L631 202.5L621.7 204.6L633.5 207.8Z" fill="#3e27aa"/><path d="M633.5 207.8L621.7 204.6L612.3 203.5L624.1 206.7Z" fill="#402ab5"/><path d="M624.1 206.7L612.3 203.5L603 198.4L614.8 201.6Z" fill="#4433cc"/><path d="M614.8 201.6L603 198.4L593.6 189.1L605.5 192.4Z" fill="#4747eb"/><path d="M605.5 192.4L593.6 189.1L584.3 178.8L596.1 182.1Z" fill="#4367fd"/><path d="M596.1 182.1L584.3 178.8L574.9 169.2L586.8 172.6Z" fill="#2d8bf3"/><path d="M586.8 172.6L574.9 169.2L565.6 166.8L577.4 170.5Z" fill="#1ea7e1"/><path d="M577.4 170.5L565.6 166.8L556.2 166.9L568.1 171.7Z" fill="#0db3d3"/><path d="M568.1 171.7L556.2 166.9L546.9 162.4L558.7 169.5Z" fill="#02bac4"/><path d="M558.7 169.5L546.9 162.4L537.6 156.2L549.4 166Z" fill="#29c3aa"/><path d="M549.4 166L537.6 156.2L528.2 150.9L540.1 162.9Z" fill="#4bcb84"/><path d="M540.1 162.9L528.2 150.9L518.9 146.7L530.7 160Z" fill="#84cc56"/><path d="M530.7 160L518.9 146.7L509.5 143L521.4 157.4Z" fill="#bcc42f"/><path d="M521.4 157.4L509.5 143L500.2 138.9L512 154.6Z" fill="#e9bb30"/><path d="M512 154.6L500.2 138.9L490.8 137.8L502.7 153.6Z" fill="#fec437"/><path d="M502.7 153.6L490.8 137.8L481.5 139.9L493.3 154.7Z" fill="#fad62d"/><path d="M654.7 209L642.8 205.7L633.5 207.8L645.3 211.1Z" fill="#3e27aa"/><path d="M645.3 211.1L633.5 207.8L624.1 206.7L636 210Z" fill="#402ab5"/><path d="M636 210L624.1 206.7L614.8 201.6L626.6 204.9Z" fill="#4433cc"/><path d="M626.6 204.9L614.8 201.6L605.5 192.4L617.3 195.7Z" fill="#4747eb"/><path d="M617.3 195.7L605.5 192.4L596.1 182.1L607.9 185.5Z" fill="#4466fd"/><path d="M607.9 185.5L596.1 182.1L586.8 172.6L598.6 176.1Z" fill="#2d8bf4"/><path d="M598.6 176.1L586.8 172.6L577.4 170.5L589.3 174.4Z" fill="#1fa6e2"/><path d="M589.3 174.4L577.4 170.5L568.1 171.7L579.9 177.1Z" fill="#11b1d6"/><path d="M579.9 177.1L568.1 171.7L558.7 169.5L570.6 178.2Z" fill="#04b6cd"/><path d="M570.6 178.2L558.7 169.5L549.4 166L561.2 178.7Z" fill="#0abdbd"/><path d="M561.2 178.7L549.4 166L540.1 162.9L551.9 179.4Z" fill="#28c3ab"/><path d="M551.9 179.4L540.1 162.9L530.7 160L542.5 179.3Z" fill="#38c896"/><path d="M542.5 179.3L530.7 160L521.4 157.4L533.2 178.9Z" fill="#56cc7a"/><path d="M533.2 178.9L521.4 157.4L512 154.6L523.9 178.5Z" fill="#80cc5a"/><path d="M523.9 178.5L512 154.6L502.7 153.6L514.5 177.9Z" fill="#a9c73a"/><path d="M514.5 177.9L502.7 153.6L493.3 154.7L505.2 177.7Z" fill="#ccc028"/><path d="M666.5 212.2L654.7 209L645.3 211.1L657.2 214.3Z" fill="#3e27aa"/><path d="M657.2 214.3L645.3 211.1L636 210L647.8 213.2Z" fill="#402ab5"/><path d="M647.8 213.2L636 210L626.6 204.9L638.5 208.1Z" fill="#4433cc"/><path d="M638.5 208.1L626.6 204.9L617.3 195.7L629.1 199.1Z" fill="#4747eb"/><path d="M629.1 199.1L617.3 195.7L607.9 185.5L619.8 189Z" fill="#4466fd"/><path d="M619.8 189L607.9 185.5L598.6 176.1L610.4 179.9Z" fill="#2d8af4"/><path d="M610.4 179.9L598.6 176.1L589.3 174.4L601.1 178.3Z" fill="#20a5e2"/><path d="M601.1 178.3L589.3 174.4L579.9 177.1L591.8 182.1Z" fill="#14b0d8"/><path d="M591.8 182.1L579.9 177.1L570.6 178.2L582.4 186.1Z" fill="#0eb3d4"/><path d="M582.4 186.1L570.6 178.2L561.2 178.7L573.1 190.7Z" fill="#06b5cf"/><path d="M573.1 190.7L561.2 178.7L551.9 179.4L563.7 195.4Z" fill="#01b8ca"/><path d="M563.7 195.4L551.9 179.4L542.5 179.3L554.4 198.9Z" fill="#01bac5"/><path d="M554.4 198.9L542.5 179.3L533.2 178.9L545 201.6Z" fill="#0bbdbd"/><path d="M545 201.6L533.2 178.9L523.9 178.5L535.7 204.5Z" fill="#1ec0b2"/><path d="M535.7 204.5L523.9 178.5L514.5 177.9L526.3 205Z" fill="#2cc4a7"/><path d="M526.3 205L514.5 177.9L505.2 177.7L517 204Z" fill="#3ac993"/><path d="M678.3 215.5L666.5 212.2L657.2 214.3L669 217.6Z" fill="#3e27aa"/><path d="M669 217.6L657.2 214.3L647.8 213.2L659.6 216.4Z" fill="#402ab5"/><path d="M659.6 216.4L647.8 213.2L638.5 208.1L650.3 211.4Z" fill="#4433cc"/><path d="M650.3 211.4L638.5 208.1L629.1 199.1L641 202.5Z" fill="#4747eb"/><path d="M641 202.5L629.1 199.1L619.8 189L631.6 192.6Z" fill="#4466fd"/><path d="M631.6 192.6L619.8 189L610.4 179.9L622.3 183.9Z" fill="#2d8af5"/><path d="M622.3 183.9L610.4 179.9L601.1 178.3L612.9 182.2Z" fill="#21a4e3"/><path d="M612.9 182.2L601.1 178.3L591.8 182.1L603.6 186.4Z" fill="#17aeda"/><path d="M603.6 186.4L591.8 182.1L582.4 186.1L594.2 192.4Z" fill="#14b0d8"/><path d="M594.2 192.4L582.4 186.1L573.1 190.7L584.9 200.2Z" fill="#17aeda"/><path d="M584.9 200.2L573.1 190.7L563.7 195.4L575.6 208.9Z" fill="#1babde"/><path d="M575.6 208.9L563.7 195.4L554.4 198.9L566.2 216.2Z" fill="#1fa6e1"/><path d="M566.2 216.2L554.4 198.9L545 201.6L556.9 222.5Z" fill="#20a4e3"/><path d="M556.9 222.5L545 201.6L535.7 204.5L547.5 229.2Z" fill="#21a4e3"/><path d="M547.5 229.2L535.7 204.5L526.3 205L538.2 231.8Z" fill="#20a4e3"/><path d="M538.2 231.8L526.3 205L517 204L528.8 230.9Z" fill="#1aabdd"/><path d="M690.2 218.7L678.3 215.5L669 217.6L680.8 220.8Z" fill="#3e27aa"/><path d="M680.8 220.8L669 217.6L659.6 216.4L671.5 219.7Z" fill="#402ab5"/><path d="M671.5 219.7L659.6 216.4L650.3 211.4L662.1 214.7Z" fill="#4433cc"/><path d="M662.1 214.7L650.3 211.4L641 202.5L652.8 205.9Z" fill="#4746eb"/><path d="M652.8 205.9L641 202.5L631.6 192.6L643.4 196.3Z" fill="#4465fd"/><path d="M643.4 196.3L631.6 192.6L622.3 183.9L634.1 188Z" fill="#2d88f6"/><path d="M634.1 188L622.3 183.9L612.9 182.2L624.8 186.1Z" fill="#22a2e4"/><path d="M624.8 186.1L612.9 182.2L603.6 186.4L615.4 190.1Z" fill="#19addc"/><path d="M615.4 190.1L603.6 186.4L594.2 192.4L606.1 197.2Z" fill="#18aedb"/><path d="M606.1 197.2L594.2 192.4L584.9 200.2L596.7 207.2Z" fill="#1ca9df"/><path d="M596.7 207.2L584.9 200.2L575.6 208.9L587.4 219.1Z" fill="#23a0e5"/><path d="M587.4 219.1L575.6 208.9L566.2 216.2L578 229.9Z" fill="#2994ed"/><path d="M578 229.9L566.2 216.2L556.9 222.5L568.7 240Z" fill="#2d8af4"/><path d="M568.7 240L556.9 222.5L547.5 229.2L559.4 250.5Z" fill="#2f80fa"/><path d="M559.4 250.5L547.5 229.2L538.2 231.8L550 256Z" fill="#3578fd"/><path d="M550 256L538.2 231.8L528.8 230.9L540.7 256.3Z" fill="#327cfc"/><path d="M702 222L690.2 218.7L680.8 220.8L692.7 224.1Z" fill="#3e27aa"/><path d="M692.7 224.1L680.8 220.8L671.5 219.7L683.3 222.9Z" fill="#402ab5"/><path d="M683.3 222.9L671.5 219.7L662.1 214.7L674 218Z" fill="#4433cc"/><path d="M674 218L662.1 214.7L652.8 205.9L664.6 209.4Z" fill="#4746ea"/><path d="M664.6 209.4L652.8 205.9L643.4 196.3L655.3 200Z" fill="#4464fd"/><path d="M655.3 200L643.4 196.3L634.1 188L645.9 192.3Z" fill="#2e87f7"/><path d="M645.9 192.3L634.1 188L624.8 186.1L636.6 190Z" fill="#23a0e5"/><path d="M636.6 190L624.8 186.1L615.4 190.1L627.2 193.5Z" fill="#1aacdd"/><path d="M627.2 193.5L615.4 190.1L606.1 197.2L617.9 201.1Z" fill="#19addc"/><path d="M617.9 201.1L606.1 197.2L596.7 207.2L608.6 212.2Z" fill="#1ea7e1"/><path d="M608.6 212.2L596.7 207.2L587.4 219.1L599.2 226.1Z" fill="#269ae8"/><path d="M599.2 226.1L587.4 219.1L578 229.9L589.9 239.8Z" fill="#2d88f6"/><path d="M589.9 239.8L578 229.9L568.7 240L580.5 253.3Z" fill="#3876fe"/><path d="M580.5 253.3L568.7 240L559.4 250.5L571.2 267.2Z" fill="#4563fd"/><path d="M571.2 267.2L559.4 250.5L550 256L561.8 276Z" fill="#4854f6"/><path d="M561.8 276L550 256L540.7 256.3L552.5 278.6Z" fill="#4851f4"/><path d="M713.8 225.2L702 222L692.7 224.1L704.5 227.3Z" fill="#3e27aa"/><path d="M704.5 227.3L692.7 224.1L683.3 222.9L695.1 226.1Z" fill="#402ab5"/><path d="M695.1 226.1L683.3 222.9L674 218L685.8 221.2Z" fill="#4433cc"/><path d="M685.8 221.2L674 218L664.6 209.4L676.5 212.8Z" fill="#4746ea"/><path d="M676.5 212.8L664.6 209.4L655.3 200L667.1 203.7Z" fill="#4564fd"/><path d="M667.1 203.7L655.3 200L645.9 192.3L657.8 196.6Z" fill="#2e86f8"/><path d="M657.8 196.6L645.9 192.3L636.6 190L648.4 194Z" fill="#249ee6"/><path d="M648.4 194L636.6 190L627.2 193.5L639.1 196.8Z" fill="#1babde"/><path d="M639.1 196.8L627.2 193.5L617.9 201.1L629.7 204.4Z" fill="#19addc"/><path d="M629.7 204.4L617.9 201.1L608.6 212.2L620.4 215.9Z" fill="#1fa6e1"/><path d="M620.4 215.9L608.6 212.2L599.2 226.1L611.1 231Z" fill="#2798ea"/><path d="M611.1 231L599.2 226.1L589.9 239.8L601.7 246.5Z" fill="#2f82fa"/><path d="M601.7 246.5L589.9 239.8L580.5 253.3L592.4 262.4Z" fill="#4269fe"/><path d="M592.4 262.4L580.5 253.3L571.2 267.2L583 278.8Z" fill="#4852f4"/><path d="M583 278.8L571.2 267.2L561.8 276L573.7 290.7Z" fill="#473fe2"/><path d="M573.7 290.7L561.8 276L552.5 278.6L564.3 296.2Z" fill="#4537d6"/><path d="M725.7 228.5L713.8 225.2L704.5 227.3L716.3 230.5Z" fill="#3e27aa"/><path d="M716.3 230.5L704.5 227.3L695.1 226.1L707 229.4Z" fill="#402ab5"/><path d="M707 229.4L695.1 226.1L685.8 221.2L697.6 224.5Z" fill="#4433cc"/><path d="M697.6 224.5L685.8 221.2L676.5 212.8L688.3 216.3Z" fill="#4746ea"/><path d="M688.3 216.3L676.5 212.8L667.1 203.7L678.9 207.4Z" fill="#4563fd"/><path d="M678.9 207.4L667.1 203.7L657.8 196.6L669.6 200.7Z" fill="#2e84f8"/><path d="M669.6 200.7L657.8 196.6L648.4 194L660.3 197.8Z" fill="#259ce7"/><path d="M660.3 197.8L648.4 194L639.1 196.8L650.9 200.1Z" fill="#1caadf"/><path d="M650.9 200.1L639.1 196.8L629.7 204.4L641.6 207.5Z" fill="#19addc"/><path d="M641.6 207.5L629.7 204.4L620.4 215.9L632.2 219.1Z" fill="#1fa6e1"/><path d="M632.2 219.1L620.4 215.9L611.1 231L622.9 234.7Z" fill="#2797eb"/><path d="M622.9 234.7L611.1 231L601.7 246.5L613.5 251.2Z" fill="#307ffb"/><path d="M613.5 251.2L601.7 246.5L592.4 262.4L604.2 268.3Z" fill="#4563fd"/><path d="M604.2 268.3L592.4 262.4L583 278.8L594.9 285.8Z" fill="#484aee"/><path d="M594.9 285.8L583 278.8L573.7 290.7L585.5 299.9Z" fill="#4535d2"/><path d="M585.5 299.9L573.7 290.7L564.3 296.2L576.2 308.1Z" fill="#412dbb"/><path d="M737.5 231.7L725.7 228.5L716.3 230.5L728.2 233.8Z" fill="#3e27aa"/><path d="M728.2 233.8L716.3 230.5L707 229.4L718.8 232.6Z" fill="#402ab5"/><path d="M718.8 232.6L707 229.4L697.6 224.5L709.5 227.8Z" fill="#4433cc"/><path d="M709.5 227.8L697.6 224.5L688.3 216.3L700.1 219.6Z" fill="#4746ea"/><path d="M700.1 219.6L688.3 216.3L678.9 207.4L690.8 210.9Z" fill="#4563fc"/><path d="M690.8 210.9L678.9 207.4L669.6 200.7L681.4 204.6Z" fill="#2e83f9"/><path d="M681.4 204.6L669.6 200.7L660.3 197.8L672.1 201.5Z" fill="#259be8"/><path d="M672.1 201.5L660.3 197.8L650.9 200.1L662.8 203.3Z" fill="#1ca9df"/><path d="M662.8 203.3L650.9 200.1L641.6 207.5L653.4 210.7Z" fill="#19addc"/><path d="M653.4 210.7L641.6 207.5L632.2 219.1L644.1 222.2Z" fill="#1fa6e1"/><path d="M644.1 222.2L632.2 219.1L622.9 234.7L634.7 238.1Z" fill="#2797eb"/><path d="M634.7 238.1L622.9 234.7L613.5 251.2L625.4 254.9Z" fill="#317efb"/><path d="M625.4 254.9L613.5 251.2L604.2 268.3L616 272.4Z" fill="#4561fc"/><path d="M616 272.4L604.2 268.3L594.9 285.8L606.7 289.7Z" fill="#4747eb"/><path d="M606.7 289.7L594.9 285.8L585.5 299.9L597.3 304.5Z" fill="#4433cc"/><path d="M597.3 304.5L585.5 299.9L576.2 308.1L588 314Z" fill="#3f29b2"/></g>
<path d="M375 255.6L588 314L737.5 231.7M375 255.6L375 110.7M588 314L588 169.1M737.5 231.7L737.5 86.8M375 110.7L588 169.1L737.5 86.8L524.5 28.4Z" fill="none" stroke="#1a1a1a" stroke-width="1.6" stroke-linejoin="round"/>
<path d="M588 314L583.2 316.7M737.5 231.7L743.8 233.4M520.2 295.4L515.4 298.1M689.9 257.9L696.2 259.6M452.4 276.8L447.6 279.5M642.3 284.1L648.6 285.8M384.6 258.2L379.8 260.9M594.7 310.3L601 312" stroke="#1a1a1a" stroke-width="1.4" fill="none"/><path d="M375 242.4L370.7 241.2M375 229.3L370.7 228.1M375 216.1L370.7 214.9M375 202.9L370.7 201.7M375 189.7L370.7 188.5M375 176.6L370.7 175.4M375 163.4L370.7 162.2M375 150.2L370.7 149M375 137L370.7 135.9M375 123.9L370.7 122.7" stroke="#9a9a9a" stroke-width="0.8" fill="none"/>
<text x="271" y="84.3" font-size="22" textLength="140" lengthAdjust="spacing">Energy density</text>
<text x="370.5" y="126.3" font-size="22" text-anchor="end" letter-spacing="0.75">-0.1834</text>
<text x="365.8" y="182.4" font-size="22" text-anchor="end" letter-spacing="0.75">-0.1840</text>
<text x="365.8" y="229" font-size="22" text-anchor="end" letter-spacing="0.75">-0.1846</text>
<text x="366.7" y="279.9" font-size="22">1.5</text>
<text x="334" y="304" font-size="22" letter-spacing="0.3">[010]</text>
<text x="400" y="306" font-size="28" font-style="italic" fill="#3a3a3a">ψ</text>
<text x="432" y="297.6" font-size="22">1.0</text>
<text x="500.8" y="315.7" font-size="22">0.5</text>
<text x="574.6" y="332.8" font-size="22">0</text>
<text x="561.4" y="356.4" font-size="22" letter-spacing="0.3">[100]</text>
<text x="603.2" y="327.4" font-size="22">1.5</text>
<text x="651.2" y="303.6" font-size="22">1.0</text>
<text x="699.4" y="274" font-size="22">0.5</text>
<text x="748.2" y="244.1" font-size="22">0</text>
<text x="737.6" y="268.2" font-size="22" letter-spacing="0.3">[001]</text>
<text x="700.5" y="302.6" font-size="30" font-style="italic" fill="#3a3a3a">α</text>
<text x="427.5" y="333" font-size="22" fill="#cb1226" letter-spacing="0.3">[110]</text>
<text x="479.7" y="315.5" font-size="21" font-weight="bold" fill="#cb1226">h</text>
<path d="M484.8 284.7L459.8 302.8M470.8 302.2L459.8 302.8L463.8 292.5" fill="none" stroke="#cb1226" stroke-width="3.2" stroke-linecap="round" stroke-linejoin="miter"/>
<text x="358.7" y="359" font-size="29.5"><tspan font-style="italic">h</tspan> = 0</text>
<text x="373.5" y="32.5" font-size="40.5" font-weight="bold" font-family="Liberation Sans, sans-serif" fill="#000">C</text>
<circle cx="377.6" cy="255.2" r="5.3" fill="#0d9be8" stroke="#1b35b0" stroke-width="1.4"/>
<circle cx="587.5" cy="312.4" r="5.3" fill="#0d9be8" stroke="#1b35b0" stroke-width="1.4"/>
<circle cx="736.8" cy="230" r="5.3" fill="#0d9be8" stroke="#1b35b0" stroke-width="1.4"/>
<text x="378" y="208" font-size="23" font-weight="bold" fill="#111">Q<tspan font-size="17" font-weight="normal" dx="0.5" dy="9.2">2</tspan></text>
<text x="587.5" y="276" font-size="23" font-weight="bold" fill="#ffffff">Q<tspan font-size="17" font-weight="normal" dx="0.5" dy="9.2">1</tspan></text>
<text x="707.5" y="213.5" font-size="23" font-weight="bold" fill="#111">Q<tspan font-size="17" font-weight="normal" dx="0.5" dy="9.2">3</tspan></text></g>
<g id="pD"><path d="M389.6 617.3L539.1 535M386.5 610.3L599.5 668.7M386.5 610.3L386.5 465.4M539.1 535L539.1 390.1M400.3 620.2L549.8 537.9M393.9 606.2L607 664.6M393.9 606.2L393.9 461.3M549.8 537.9L549.8 393M410.9 623.2L560.5 540.9M401.4 602.1L614.4 660.5M401.4 602.1L401.4 457.2M560.5 540.9L560.5 396M421.6 626.1L571.1 543.8M408.9 597.9L621.9 656.3M408.9 597.9L408.9 453M571.1 543.8L571.1 398.9M432.2 629L581.8 546.7M416.4 593.8L629.4 652.2M416.4 593.8L416.4 448.9M581.8 546.7L581.8 401.8M442.9 631.9L592.4 549.6M423.9 589.7L636.9 648.1M423.9 589.7L423.9 444.8M592.4 549.6L592.4 404.7M453.6 634.8L603 552.5M431.3 585.6L644.3 644M431.3 585.6L431.3 440.7M603 552.5L603 407.6M464.2 637.8L613.7 555.5M438.8 581.5L651.8 639.9M438.8 581.5L438.8 436.6M613.7 555.5L613.7 410.6M474.9 640.7L624.4 558.4M446.3 577.4L659.3 635.8M446.3 577.4L446.3 432.5M624.4 558.4L624.4 413.5M485.5 643.6L635 561.3M453.8 573.2L666.8 631.6M453.8 573.2L453.8 428.4M635 561.3L635 416.4M496.1 646.5L645.6 564.2M461.2 569.1L674.2 627.5M461.2 569.1L461.2 424.2M645.6 564.2L645.6 419.3M506.8 649.4L656.3 567.1M468.7 565L681.7 623.4M468.7 565L468.7 420.1M656.3 567.1L656.3 422.2M517.5 652.4L667 570.1M476.2 560.9L689.2 619.3M476.2 560.9L476.2 416M667 570.1L667 425.2M528.1 655.3L677.6 573M483.6 556.8L696.6 615.2M483.6 556.8L483.6 411.9M677.6 573L677.6 428.1M538.8 658.2L688.2 575.9M491.1 552.7L704.1 611.1M491.1 552.7L491.1 407.8M688.2 575.9L688.2 431M549.4 661.1L698.9 578.8M498.6 548.6L711.6 607M498.6 548.6L498.6 403.7M698.9 578.8L698.9 433.9M560 664L709.5 581.7M506.1 544.4L719.1 602.8M506.1 544.4L506.1 399.5M709.5 581.7L709.5 436.8M570.7 667L720.2 584.7M513.5 540.3L726.5 598.7M513.5 540.3L513.5 395.4M720.2 584.7L720.2 439.8M581.4 669.9L730.9 587.6M521 536.2L734 594.6M521 536.2L521 391.3M730.9 587.6L730.9 442.7M379 609.2L528.5 526.9L741.5 585.3M379 604L528.5 521.8L741.5 580.1M379 598.9L528.5 516.6L741.5 575M379 593.7L528.5 511.4L741.5 569.8M379 588.5L528.5 506.2L741.5 564.6M379 583.4L528.5 501.1L741.5 559.5M379 578.2L528.5 495.9L741.5 554.3M379 573L528.5 490.7L741.5 549.1M379 567.8L528.5 485.5L741.5 543.9M379 562.6L528.5 480.4L741.5 538.8M379 557.5L528.5 475.2L741.5 533.6M379 552.3L528.5 470L741.5 528.4M379 547.1L528.5 464.8L741.5 523.2M379 541.9L528.5 459.7L741.5 518M379 536.8L528.5 454.5L741.5 512.9M379 531.6L528.5 449.3L741.5 507.7M379 526.4L528.5 444.1L741.5 502.5M379 521.2L528.5 439L741.5 497.4M379 516.1L528.5 433.8L741.5 492.2M379 510.9L528.5 428.6L741.5 487M379 505.7L528.5 423.4L741.5 481.8M379 500.5L528.5 418.2L741.5 476.6M379 495.4L528.5 413.1L741.5 471.5M379 490.2L528.5 407.9L741.5 466.3M379 485L528.5 402.7L741.5 461.1M379 479.8L528.5 397.6L741.5 455.9M379 474.7L528.5 392.4L741.5 450.8" fill="none" stroke="#e9e9e9" stroke-width="0.5"/>
<path d="M379 614.4L528.5 532.1L741.5 590.5M528.5 532.1L528.5 387.2" fill="none" stroke="#1a1a1a" stroke-width="1.6"/>
<path d="M600.7 668L599 667L591.4 663.4L581.8 658.9L568 656.7L563.6 657.3L550.8 661.5M420.2 625.7L426.1 619.6L426 617.8L416.2 613.4L402.1 611.5L390.7 609.9L387.7 609.6" fill="none" stroke="#463cde" stroke-width="1.2" stroke-opacity="0.9"/>
<path d="M613.1 661.2L603.1 657L592.9 652.8L581.2 649.5L565.4 648.4L561.3 649L549.2 653.4L540.1 658.6M430.9 628.6L440.5 623.5L447.1 617.6L447 616L439.2 610.6L427.2 607.4L413.7 605L400.1 602.8" fill="none" stroke="#4563fd" stroke-width="1.2" stroke-opacity="0.9"/>
<path d="M621.2 656.7L611.1 652.5L601 648.3L590.2 644.5L577.6 641.7L562.7 641.7L558.7 642.4L548.9 645.6L539.8 650.8L531.9 656.3M439.1 630.9L449.9 626.1L459.5 621.1L464 616.4L464.3 614.7L459.2 609.3L448.2 605.6L435.3 602.9L421.8 600.6L408.2 598.3M519.6 537L531.1 540.4L537.8 542.3L542.8 543.8L554.5 547.1L566.2 550.4L578 553.7L589.7 556.9L601.5 560.2L613.4 563.5L625.2 566.7L637 569.9L648.9 573.2L660.7 576.4L672.6 579.6L684.5 582.8L696.5 586L708.4 589.2L713.6 590.5L720.5 592.3L732.6 595.4" fill="none" stroke="#2d8cf3" stroke-width="1.2" stroke-opacity="0.9"/>
<path d="M627.1 653.5L619 649.4L617.9 648.8L608.4 644.2L598.6 639.9L587.9 636L575.5 633.1L560.4 633.3L552.4 636L548.6 637.8L539.6 643L539.1 643.4L532.2 648.7L525.1 654.5M445.9 632.7L457.5 628.2L468.1 623.9L468.8 623.6L478.5 618.6L481.4 616.6L485.3 612.7L480.8 607.1L469.5 603.6L456.6 601L442.8 598.8L428.6 596.9L426.7 596.7L414.1 595.1M504.9 545.1L516.6 548.4L528.3 551.7L540.1 555L551.9 558.3L563.7 561.5L575.5 564.8L587.3 568L599.1 571.3L611 574.5L622.8 577.8L634.6 581L646.5 584.2L658.4 587.5L670.2 590.7L682.1 593.9L694 597.1L705.9 600.3L717.9 603.5" fill="none" stroke="#18aedb" stroke-width="1.2" stroke-opacity="0.9"/>
<path d="M633.1 650.2L624.7 645L618.3 641.5L616.1 640L607.5 635L598.5 630.2L589.7 625.9L589.1 625.6L579.3 621.2L568.3 617.5L555.7 614.7L541.8 612.6L532 608.2L521 604.6L508.3 601.8L494.4 599.6L493.5 599.5L480.1 597.8L465.5 596L450.4 594.6L446.2 594.3L435.4 593.1L420.1 591.8M452.5 634.5L464.4 630.1L476.6 625.7L488.9 621.4L492.4 620.3L502.9 617.5L518.9 614.2L523.6 612.9L541.4 612.8L547.3 619.3L545.5 621.5L542.9 628.5L539.7 633.3L538.1 634.9L531.8 640.9L525.2 646.8L518.5 652.7M496.3 549.8L507.8 553.3L519.4 556.6L531 560L542.7 563.3L554.4 566.6L566.2 569.9L577.9 573.2L589.7 576.5L601.5 579.7L613.4 583L625.2 586.2L637.2 589.4L649.1 592.6L661 595.8L673 598.9L685.1 602.1L697.1 605.2L709.3 608.2" fill="none" stroke="#24c1ae" stroke-width="1.2" stroke-opacity="0.9"/>
<path d="M639 646.9L632.6 640.7L626.2 635.9L625.4 634.9L618.8 628.7L613.8 624.8L611.9 622.8L604.3 617.3L595.3 612.5L592.8 611.4L585.5 608.1L574.8 604.2L563.4 600.7L551.2 597.7L538.2 595.1L527.7 593.5L524.3 593L509.6 591.3L493.6 590.4L488 590.4L476.8 589.8L459.7 589.5L456.9 589.5L443.3 588.8L426 588.5M458.8 636.3L471.2 632L471.2 631.9L484.3 627.9L498.9 624.1L505.3 622.9L520.8 622.5L524.1 622.4L524.9 623.6L529 629.4L528.2 632.2L524.1 638.8L518.6 644.9L518.5 644.9L512.2 650.9M488.6 554.1L499.5 557.8L510.6 561.4L521.8 565.1L533 568.6L544.3 572.2L555.7 575.7L567.2 579.1L578.8 582.5L590.5 585.8L602.4 589L614.5 592.1L626.7 595.2L639 598.1L651.4 601.1L663.8 604L676.3 606.9L688.9 609.7L701.6 612.5" fill="none" stroke="#64cd6f" stroke-width="1.2" stroke-opacity="0.9"/>
<path d="M646.5 642.8L644.8 641L643.1 634.9L641.1 632.3L641.1 626.3L640.1 624.3L638 618.2L635.3 615.3L649.5 611.9L650.3 611.7L664.5 613.4L678.9 615.2L693.4 617M465.3 638.1L478.1 633.9L492 630L493 629.7L512.2 627.8L514.4 627.7L514.9 628.5L516.6 636.2L516.4 636.7L511.5 643L505.7 649.1M480.4 558.6L489.5 563.3L498.8 568L507.6 572.6L507.5 573L503.8 579.3L496 579.3L480.4 580.6L475.4 580.9L460.8 582.9L453.7 583L438.3 584.4L433.5 584.4" fill="none" stroke="#c6c22a" stroke-width="1.2" stroke-opacity="0.9"/>
<path d="M657 637L656.9 636.7L662.4 630.5L669.3 624.6L682 623.2M472.2 639.9L477.6 638.2L486.4 636.1L503.6 633.2L504.7 633L504.8 633.5L503.3 640.8L501.3 644.7L498.8 647.3M469 564.8L469.9 570L458.1 574.4L444.9 578.5L444 578.6" fill="none" stroke="#fec438" stroke-width="1.2" stroke-opacity="0.9"/>
<path d="M482.4 642.7L490.6 640.8L488.6 644.5" fill="none" stroke="#f6ef20" stroke-width="1.2" stroke-opacity="0.9"/>
<g fill-opacity="0.70" stroke="#151515" stroke-opacity="0.95" stroke-width="1.20" stroke-linejoin="round"><path d="M540.3 495.6L528.5 492.4L519.2 491.7L531 495.2Z" fill="#416bfe"/><path d="M531 495.2L519.2 491.7L509.8 489.4L521.6 492.5Z" fill="#337bfd"/><path d="M521.6 492.5L509.8 489.4L500.5 479.3L512.3 483Z" fill="#2b91ef"/><path d="M512.3 483L500.5 479.3L491.1 465L503 469.2Z" fill="#11b1d6"/><path d="M503 469.2L491.1 465L481.8 451.4L493.6 457.7Z" fill="#36c898"/><path d="M493.6 457.7L481.8 451.4L472.4 441.3L484.3 450.5Z" fill="#9ac945"/><path d="M484.3 450.5L472.4 441.3L463.1 438.4L474.9 450.5Z" fill="#e1bc2b"/><path d="M474.9 450.5L463.1 438.4L453.8 444.6L465.6 459Z" fill="#f2ba38"/><path d="M465.6 459L453.8 444.6L444.4 453.3L456.2 469.6Z" fill="#e3bc2c"/><path d="M456.2 469.6L444.4 453.3L435.1 471.4L446.9 487Z" fill="#bac430"/><path d="M446.9 487L435.1 471.4L425.7 496.5L437.6 509.9Z" fill="#59cc78"/><path d="M437.6 509.9L425.7 496.5L416.4 526.8L428.2 536.8Z" fill="#02bac4"/><path d="M428.2 536.8L416.4 526.8L407 556.9L418.9 563.8Z" fill="#2c8ff0"/><path d="M418.9 563.8L407 556.9L397.7 579.1L409.5 585.4Z" fill="#465dfa"/><path d="M409.5 585.4L397.7 579.1L388.3 595.2L400.2 601.2Z" fill="#463de0"/><path d="M400.2 601.2L388.3 595.2L379 608.6L390.8 613.9Z" fill="#422ebf"/><path d="M552.2 498.9L540.3 495.6L531 495.2L542.8 498.6Z" fill="#416bfe"/><path d="M542.8 498.6L531 495.2L521.6 492.5L533.5 495.6Z" fill="#337afd"/><path d="M533.5 495.6L521.6 492.5L512.3 483L524.1 486.5Z" fill="#2b91ef"/><path d="M524.1 486.5L512.3 483L503 469.2L514.8 473Z" fill="#12b1d7"/><path d="M514.8 473L503 469.2L493.6 457.7L505.4 463.1Z" fill="#33c79d"/><path d="M505.4 463.1L493.6 457.7L484.3 450.5L496.1 457.7Z" fill="#86cb55"/><path d="M496.1 457.7L484.3 450.5L474.9 450.5L486.8 459.6Z" fill="#c4c22b"/><path d="M486.8 459.6L474.9 450.5L465.6 459L477.4 469.6Z" fill="#cec028"/><path d="M477.4 469.6L465.6 459L456.2 469.6L468.1 481.5Z" fill="#afc637"/><path d="M468.1 481.5L456.2 469.6L446.9 487L458.7 498.4Z" fill="#76cc60"/><path d="M458.7 498.4L446.9 487L437.6 509.9L449.4 520.1Z" fill="#31c6a0"/><path d="M449.4 520.1L437.6 509.9L428.2 536.8L440 545Z" fill="#14b0d8"/><path d="M440 545L428.2 536.8L418.9 563.8L430.7 570.1Z" fill="#2e84f8"/><path d="M430.7 570.1L418.9 563.8L409.5 585.4L421.4 591.4Z" fill="#4756f7"/><path d="M421.4 591.4L409.5 585.4L400.2 601.2L412 606.9Z" fill="#4538d8"/><path d="M412 606.9L400.2 601.2L390.8 613.9L402.7 618.8Z" fill="#402bb8"/><path d="M564 502.1L552.2 498.9L542.8 498.6L554.7 501.9Z" fill="#416bfe"/><path d="M554.7 501.9L542.8 498.6L533.5 495.6L545.3 498.7Z" fill="#337afd"/><path d="M545.3 498.7L533.5 495.6L524.1 486.5L536 490Z" fill="#2b91ef"/><path d="M536 490L524.1 486.5L514.8 473L526.6 476.8Z" fill="#13b0d8"/><path d="M526.6 476.8L514.8 473L505.4 463.1L517.3 467.9Z" fill="#31c6a0"/><path d="M517.3 467.9L505.4 463.1L496.1 457.7L507.9 464.1Z" fill="#76cc61"/><path d="M507.9 464.1L496.1 457.7L486.8 459.6L498.6 467.5Z" fill="#acc739"/><path d="M498.6 467.5L486.8 459.6L477.4 469.6L489.2 478.6Z" fill="#adc638"/><path d="M489.2 478.6L477.4 469.6L468.1 481.5L479.9 491.6Z" fill="#81cc58"/><path d="M479.9 491.6L468.1 481.5L458.7 498.4L470.6 508.1Z" fill="#48cb86"/><path d="M470.6 508.1L458.7 498.4L449.4 520.1L461.2 528.5Z" fill="#16bfb7"/><path d="M461.2 528.5L449.4 520.1L440 545L451.9 551.4Z" fill="#1fa6e2"/><path d="M451.9 551.4L440 545L430.7 570.1L442.5 574.1Z" fill="#317dfc"/><path d="M442.5 574.1L430.7 570.1L421.4 591.4L433.2 593.8Z" fill="#4854f5"/><path d="M433.2 593.8L421.4 591.4L412 606.9L423.8 607.5Z" fill="#4539d8"/><path d="M423.8 607.5L412 606.9L402.7 618.8L414.5 617.4Z" fill="#412dbd"/><path d="M575.8 505.4L564 502.1L554.7 501.9L566.5 505.3Z" fill="#416bfe"/><path d="M566.5 505.3L554.7 501.9L545.3 498.7L557.1 501.9Z" fill="#337afd"/><path d="M557.1 501.9L545.3 498.7L536 490L547.8 493.5Z" fill="#2b91ef"/><path d="M547.8 493.5L536 490L526.6 476.8L538.5 480.4Z" fill="#14b0d8"/><path d="M538.5 480.4L526.6 476.8L517.3 467.9L529.1 472.5Z" fill="#2fc5a3"/><path d="M529.1 472.5L517.3 467.9L507.9 464.1L519.8 469.8Z" fill="#6acd6a"/><path d="M519.8 469.8L507.9 464.1L498.6 467.5L510.4 474.4Z" fill="#97ca48"/><path d="M510.4 474.4L498.6 467.5L489.2 478.6L501.1 486.5Z" fill="#8fcb4e"/><path d="M501.1 486.5L489.2 478.6L479.9 491.6L491.7 500.2Z" fill="#5dcc75"/><path d="M491.7 500.2L479.9 491.6L470.6 508.1L482.4 516.3Z" fill="#32c69f"/><path d="M482.4 516.3L470.6 508.1L461.2 528.5L473.1 535Z" fill="#01b9c7"/><path d="M473.1 535L461.2 528.5L451.9 551.4L463.7 554.9Z" fill="#239fe5"/><path d="M463.7 554.9L451.9 551.4L442.5 574.1L454.4 573.9Z" fill="#327dfc"/><path d="M454.4 573.9L442.5 574.1L433.2 593.8L445 590.1Z" fill="#475af9"/><path d="M445 590.1L433.2 593.8L423.8 607.5L435.7 600.3Z" fill="#4744e8"/><path d="M435.7 600.3L423.8 607.5L414.5 617.4L426.3 606.7Z" fill="#463adc"/><path d="M587.7 508.6L575.8 505.4L566.5 505.3L578.3 508.6Z" fill="#416bfe"/><path d="M578.3 508.6L566.5 505.3L557.1 501.9L569 505.1Z" fill="#347afd"/><path d="M569 505.1L557.1 501.9L547.8 493.5L559.6 496.9Z" fill="#2b91ef"/><path d="M559.6 496.9L547.8 493.5L538.5 480.4L550.3 484Z" fill="#15afd9"/><path d="M550.3 484L538.5 480.4L529.1 472.5L540.9 476.8Z" fill="#2ec4a5"/><path d="M540.9 476.8L529.1 472.5L519.8 469.8L531.6 475Z" fill="#61cd72"/><path d="M531.6 475L519.8 469.8L510.4 474.4L522.3 480.6Z" fill="#86cb55"/><path d="M522.3 480.6L510.4 474.4L501.1 486.5L512.9 493.4Z" fill="#77cc60"/><path d="M512.9 493.4L501.1 486.5L491.7 500.2L503.6 507.7Z" fill="#45cb89"/><path d="M503.6 507.7L491.7 500.2L482.4 516.3L494.2 523Z" fill="#24c1af"/><path d="M494.2 523L482.4 516.3L473.1 535L484.9 539.2Z" fill="#08b4d1"/><path d="M484.9 539.2L473.1 535L463.7 554.9L475.5 554.9Z" fill="#249ee6"/><path d="M475.5 554.9L463.7 554.9L454.4 573.9L466.2 568.6Z" fill="#2e85f8"/><path d="M466.2 568.6L454.4 573.9L445 590.1L456.9 579.5Z" fill="#3f6eff"/><path d="M456.9 579.5L445 590.1L435.7 600.3L447.5 585.2Z" fill="#4660fc"/><path d="M447.5 585.2L435.7 600.3L426.3 606.7L438.2 587.7Z" fill="#465ffb"/><path d="M599.5 511.9L587.7 508.6L578.3 508.6L590.2 511.9Z" fill="#416bfe"/><path d="M590.2 511.9L578.3 508.6L569 505.1L580.8 508.3Z" fill="#347afd"/><path d="M580.8 508.3L569 505.1L559.6 496.9L571.5 500.2Z" fill="#2b91ef"/><path d="M571.5 500.2L559.6 496.9L550.3 484L562.1 487.5Z" fill="#15afd9"/><path d="M562.1 487.5L550.3 484L540.9 476.8L552.8 480.8Z" fill="#2dc4a6"/><path d="M552.8 480.8L540.9 476.8L531.6 475L543.4 479.8Z" fill="#5acc77"/><path d="M543.4 479.8L531.6 475L522.3 480.6L534.1 486Z" fill="#79cc5f"/><path d="M534.1 486L522.3 480.6L512.9 493.4L524.8 499.4Z" fill="#65cd6e"/><path d="M524.8 499.4L512.9 493.4L503.6 507.7L515.4 514Z" fill="#37c897"/><path d="M515.4 514L503.6 507.7L494.2 523L506.1 528.2Z" fill="#12beb9"/><path d="M506.1 528.2L494.2 523L484.9 539.2L496.7 540.8Z" fill="#10b2d5"/><path d="M496.7 540.8L484.9 539.2L475.5 554.9L487.4 551Z" fill="#21a3e4"/><path d="M487.4 551L475.5 554.9L466.2 568.6L478 558.1Z" fill="#2796eb"/><path d="M478 558.1L466.2 568.6L456.9 579.5L468.7 562.7Z" fill="#2c90f0"/><path d="M468.7 562.7L456.9 579.5L447.5 585.2L459.3 563.8Z" fill="#2c90f0"/><path d="M459.3 563.8L447.5 585.2L438.2 587.7L450 563.1Z" fill="#2798ea"/><path d="M611.3 515.1L599.5 511.9L590.2 511.9L602 515.2Z" fill="#416bfe"/><path d="M602 515.2L590.2 511.9L580.8 508.3L592.6 511.5Z" fill="#347afd"/><path d="M592.6 511.5L580.8 508.3L571.5 500.2L583.3 503.6Z" fill="#2b91ef"/><path d="M583.3 503.6L571.5 500.2L562.1 487.5L574 490.9Z" fill="#16afd9"/><path d="M574 490.9L562.1 487.5L552.8 480.8L564.6 484.6Z" fill="#2cc4a7"/><path d="M564.6 484.6L552.8 480.8L543.4 479.8L555.3 484Z" fill="#55cc7b"/><path d="M555.3 484L543.4 479.8L534.1 486L545.9 490.8Z" fill="#6fcd66"/><path d="M545.9 490.8L534.1 486L524.8 499.4L536.6 504.6Z" fill="#5acc78"/><path d="M536.6 504.6L524.8 499.4L515.4 514L527.2 519.1Z" fill="#31c6a0"/><path d="M527.2 519.1L515.4 514L506.1 528.2L517.9 531.8Z" fill="#08bcbf"/><path d="M517.9 531.8L506.1 528.2L496.7 540.8L508.6 539.7Z" fill="#0eb2d4"/><path d="M508.6 539.7L496.7 540.8L487.4 551L499.2 543.4Z" fill="#19addc"/><path d="M499.2 543.4L487.4 551L478 558.1L489.9 543.3Z" fill="#17aeda"/><path d="M489.9 543.3L478 558.1L468.7 562.7L480.5 541.7Z" fill="#07b5d0"/><path d="M480.5 541.7L468.7 562.7L459.3 563.8L471.2 539.1Z" fill="#08bcbf"/><path d="M471.2 539.1L459.3 563.8L450 563.1L461.8 536.5Z" fill="#2cc4a7"/><path d="M623.2 518.4L611.3 515.1L602 515.2L613.8 518.4Z" fill="#416bfe"/><path d="M613.8 518.4L602 515.2L592.6 511.5L604.5 514.7Z" fill="#347afd"/><path d="M604.5 514.7L592.6 511.5L583.3 503.6L595.1 506.8Z" fill="#2b91ef"/><path d="M595.1 506.8L583.3 503.6L574 490.9L585.8 494.2Z" fill="#16afda"/><path d="M585.8 494.2L574 490.9L564.6 484.6L576.4 488.1Z" fill="#2bc3a8"/><path d="M576.4 488.1L564.6 484.6L555.3 484L567.1 487.9Z" fill="#52cc7e"/><path d="M567.1 487.9L555.3 484L545.9 490.8L557.8 495Z" fill="#69cd6a"/><path d="M557.8 495L545.9 490.8L536.6 504.6L548.4 509Z" fill="#52cc7e"/><path d="M548.4 509L536.6 504.6L527.2 519.1L539.1 523.1Z" fill="#2ec4a4"/><path d="M539.1 523.1L527.2 519.1L517.9 531.8L529.7 534Z" fill="#05bbc1"/><path d="M529.7 534L517.9 531.8L508.6 539.7L520.4 536.9Z" fill="#06b5cf"/><path d="M520.4 536.9L508.6 539.7L499.2 543.4L511 534.2Z" fill="#01b8c8"/><path d="M511 534.2L499.2 543.4L489.9 543.3L501.7 527.5Z" fill="#20c1b1"/><path d="M501.7 527.5L489.9 543.3L480.5 541.7L492.4 520.5Z" fill="#46cb88"/><path d="M492.4 520.5L480.5 541.7L471.2 539.1L483 515.4Z" fill="#8dcb4f"/><path d="M483 515.4L471.2 539.1L461.8 536.5L473.7 512.3Z" fill="#ccc028"/><path d="M635 521.6L623.2 518.4L613.8 518.4L625.7 521.7Z" fill="#416bfe"/><path d="M625.7 521.7L613.8 518.4L604.5 514.7L616.3 517.9Z" fill="#347afd"/><path d="M616.3 517.9L604.5 514.7L595.1 506.8L607 510.1Z" fill="#2b91ef"/><path d="M607 510.1L595.1 506.8L585.8 494.2L597.6 497.5Z" fill="#16afda"/><path d="M597.6 497.5L585.8 494.2L576.4 488.1L588.3 491.5Z" fill="#2bc3a8"/><path d="M588.3 491.5L576.4 488.1L567.1 487.9L578.9 491.4Z" fill="#51cc7f"/><path d="M578.9 491.4L567.1 487.9L557.8 495L569.6 498.6Z" fill="#67cd6c"/><path d="M569.6 498.6L557.8 495L548.4 509L560.2 512.6Z" fill="#4fcc80"/><path d="M560.2 512.6L548.4 509L539.1 523.1L550.9 526.3Z" fill="#2cc4a6"/><path d="M550.9 526.3L539.1 523.1L529.7 534L541.6 535.9Z" fill="#06bcc0"/><path d="M541.6 535.9L529.7 534L520.4 536.9L532.2 535.5Z" fill="#01b8c8"/><path d="M532.2 535.5L520.4 536.9L511 534.2L522.9 528.7Z" fill="#1bc0b4"/><path d="M522.9 528.7L511 534.2L501.7 527.5L513.5 518Z" fill="#49cb85"/><path d="M513.5 518L501.7 527.5L492.4 520.5L504.2 507.9Z" fill="#aec637"/><path d="M504.2 507.9L492.4 520.5L483 515.4L494.8 501.7Z" fill="#f9bb3d"/><path d="M494.8 501.7L483 515.4L473.7 512.3L485.5 498.7Z" fill="#f8d92b"/><path d="M646.8 524.8L635 521.6L625.7 521.7L637.5 524.9Z" fill="#416bfe"/><path d="M637.5 524.9L625.7 521.7L616.3 517.9L628.1 521.2Z" fill="#347afd"/><path d="M628.1 521.2L616.3 517.9L607 510.1L618.8 513.3Z" fill="#2b91ef"/><path d="M618.8 513.3L607 510.1L597.6 497.5L609.5 500.7Z" fill="#16afda"/><path d="M609.5 500.7L597.6 497.5L588.3 491.5L600.1 494.6Z" fill="#2bc3a8"/><path d="M600.1 494.6L588.3 491.5L578.9 491.4L590.8 494.4Z" fill="#51cc7f"/><path d="M590.8 494.4L578.9 491.4L569.6 498.6L581.4 501.5Z" fill="#68cd6c"/><path d="M581.4 501.5L569.6 498.6L560.2 512.6L572.1 515.5Z" fill="#50cc7f"/><path d="M572.1 515.5L560.2 512.6L550.9 526.3L562.7 529.6Z" fill="#2dc4a5"/><path d="M562.7 529.6L550.9 526.3L541.6 535.9L553.4 540.4Z" fill="#06bcc0"/><path d="M553.4 540.4L541.6 535.9L532.2 535.5L544.1 543.4Z" fill="#01b8ca"/><path d="M544.1 543.4L532.2 535.5L522.9 528.7L534.7 540.7Z" fill="#0cbdbc"/><path d="M534.7 540.7L522.9 528.7L513.5 518L525.4 534Z" fill="#36c899"/><path d="M525.4 534L513.5 518L504.2 507.9L516 527Z" fill="#81cc58"/><path d="M516 527L504.2 507.9L494.8 501.7L506.7 521.9Z" fill="#d3bf27"/><path d="M506.7 521.9L494.8 501.7L485.5 498.7L497.3 518.8Z" fill="#febf3c"/><path d="M658.7 528.1L646.8 524.8L637.5 524.9L649.3 528.1Z" fill="#416bfe"/><path d="M649.3 528.1L637.5 524.9L628.1 521.2L640 524.5Z" fill="#347afd"/><path d="M640 524.5L628.1 521.2L618.8 513.3L630.6 516.5Z" fill="#2b91ef"/><path d="M630.6 516.5L618.8 513.3L609.5 500.7L621.3 503.8Z" fill="#16afd9"/><path d="M621.3 503.8L609.5 500.7L600.1 494.6L611.9 497.5Z" fill="#2bc3a8"/><path d="M611.9 497.5L600.1 494.6L590.8 494.4L602.6 497Z" fill="#53cc7d"/><path d="M602.6 497L590.8 494.4L581.4 501.5L593.3 503.8Z" fill="#6ccd69"/><path d="M593.3 503.8L581.4 501.5L572.1 515.5L583.9 517.6Z" fill="#55cc7b"/><path d="M583.9 517.6L572.1 515.5L562.7 529.6L574.6 532Z" fill="#2fc5a2"/><path d="M574.6 532L562.7 529.6L553.4 540.4L565.2 544.7Z" fill="#07bcc0"/><path d="M565.2 544.7L553.4 540.4L544.1 543.4L555.9 552.7Z" fill="#08b5d0"/><path d="M555.9 552.7L544.1 543.4L534.7 540.7L546.5 556.4Z" fill="#09b4d1"/><path d="M546.5 556.4L534.7 540.7L525.4 534L537.2 556.3Z" fill="#01bac5"/><path d="M537.2 556.3L525.4 534L516 527L527.9 554.7Z" fill="#24c1ae"/><path d="M527.9 554.7L516 527L506.7 521.9L518.5 552.1Z" fill="#3eca8f"/><path d="M518.5 552.1L506.7 521.9L497.3 518.8L509.2 549.5Z" fill="#6fcd65"/><path d="M670.5 531.3L658.7 528.1L649.3 528.1L661.2 531.3Z" fill="#416bfe"/><path d="M661.2 531.3L649.3 528.1L640 524.5L651.8 527.7Z" fill="#347afd"/><path d="M651.8 527.7L640 524.5L630.6 516.5L642.5 519.7Z" fill="#2b91ef"/><path d="M642.5 519.7L630.6 516.5L621.3 503.8L633.1 506.9Z" fill="#16afd9"/><path d="M633.1 506.9L621.3 503.8L611.9 497.5L623.8 500.2Z" fill="#2cc4a7"/><path d="M623.8 500.2L611.9 497.5L602.6 497L614.4 499.2Z" fill="#57cc7a"/><path d="M614.4 499.2L602.6 497L593.3 503.8L605.1 505.5Z" fill="#73cd63"/><path d="M605.1 505.5L593.3 503.8L583.9 517.6L595.8 518.9Z" fill="#5ecd74"/><path d="M595.8 518.9L583.9 517.6L574.6 532L586.4 533.4Z" fill="#34c79c"/><path d="M586.4 533.4L574.6 532L565.2 544.7L577.1 547.7Z" fill="#0cbdbc"/><path d="M577.1 547.7L565.2 544.7L555.9 552.7L567.7 560.3Z" fill="#0eb3d4"/><path d="M567.7 560.3L555.9 552.7L546.5 556.4L558.4 570.4Z" fill="#1da9e0"/><path d="M558.4 570.4L546.5 556.4L537.2 556.3L549 577.5Z" fill="#21a4e3"/><path d="M549 577.5L537.2 556.3L527.9 554.7L539.7 582.2Z" fill="#20a4e3"/><path d="M539.7 582.2L527.9 554.7L518.5 552.1L530.3 583.3Z" fill="#1caadf"/><path d="M530.3 583.3L518.5 552.1L509.2 549.5L521 582.6Z" fill="#0db3d3"/><path d="M682.3 534.6L670.5 531.3L661.2 531.3L673 534.5Z" fill="#416bfe"/><path d="M673 534.5L661.2 531.3L651.8 527.7L663.6 531Z" fill="#347afd"/><path d="M663.6 531L651.8 527.7L642.5 519.7L654.3 522.8Z" fill="#2b91ef"/><path d="M654.3 522.8L642.5 519.7L633.1 506.9L645 509.9Z" fill="#15afd9"/><path d="M645 509.9L633.1 506.9L623.8 500.2L635.6 502.7Z" fill="#2dc4a6"/><path d="M635.6 502.7L623.8 500.2L614.4 499.2L626.3 501Z" fill="#5ccc75"/><path d="M626.3 501L614.4 499.2L605.1 505.5L616.9 506.5Z" fill="#7ecc5b"/><path d="M616.9 506.5L605.1 505.5L595.8 518.9L607.6 519.3Z" fill="#6dcd68"/><path d="M607.6 519.3L595.8 518.9L586.4 533.4L598.2 533.6Z" fill="#3dc991"/><path d="M598.2 533.6L586.4 533.4L577.1 547.7L588.9 549Z" fill="#1bc0b4"/><path d="M588.9 549L577.1 547.7L567.7 560.3L579.6 565.2Z" fill="#0bb3d2"/><path d="M579.6 565.2L567.7 560.3L558.4 570.4L570.2 580.9Z" fill="#23a1e4"/><path d="M570.2 580.9L558.4 570.4L549 577.5L560.9 594.6Z" fill="#2c8ef1"/><path d="M560.9 594.6L549 577.5L539.7 582.2L551.5 605.5Z" fill="#3080fa"/><path d="M551.5 605.5L539.7 582.2L530.3 583.3L542.2 611.2Z" fill="#3678fd"/><path d="M542.2 611.2L530.3 583.3L521 582.6L532.8 613.6Z" fill="#327bfc"/><path d="M694.2 537.8L682.3 534.6L673 534.5L684.8 537.7Z" fill="#416bfe"/><path d="M684.8 537.7L673 534.5L663.6 531L675.5 534.3Z" fill="#337afd"/><path d="M675.5 534.3L663.6 531L654.3 522.8L666.1 525.9Z" fill="#2b91ef"/><path d="M666.1 525.9L654.3 522.8L645 509.9L656.8 512.9Z" fill="#15afd8"/><path d="M656.8 512.9L645 509.9L635.6 502.7L647.4 504.9Z" fill="#2ec4a4"/><path d="M647.4 504.9L635.6 502.7L626.3 501L638.1 502.3Z" fill="#64cd6f"/><path d="M638.1 502.3L626.3 501L616.9 506.5L628.8 506.9Z" fill="#8dcb4f"/><path d="M628.8 506.9L616.9 506.5L607.6 519.3L619.4 518.9Z" fill="#82cc58"/><path d="M619.4 518.9L607.6 519.3L598.2 533.6L610.1 532.7Z" fill="#4fcc80"/><path d="M610.1 532.7L598.2 533.6L588.9 549L600.7 548.7Z" fill="#2cc4a7"/><path d="M600.7 548.7L588.9 549L579.6 565.2L591.4 567.4Z" fill="#03b7cc"/><path d="M591.4 567.4L579.6 565.2L570.2 580.9L582 587.4Z" fill="#249fe5"/><path d="M582 587.4L570.2 580.9L560.9 594.6L572.7 606.4Z" fill="#2f81fa"/><path d="M572.7 606.4L560.9 594.6L551.5 605.5L563.4 622.6Z" fill="#4564fd"/><path d="M563.4 622.6L551.5 605.5L542.2 611.2L554 632.8Z" fill="#4851f3"/><path d="M554 632.8L542.2 611.2L532.8 613.6L544.7 639.1Z" fill="#484bee"/><path d="M706 541.1L694.2 537.8L684.8 537.7L696.7 540.9Z" fill="#416bfe"/><path d="M696.7 540.9L684.8 537.7L675.5 534.3L687.3 537.7Z" fill="#337afd"/><path d="M687.3 537.7L675.5 534.3L666.1 525.9L678 529Z" fill="#2b91ef"/><path d="M678 529L666.1 525.9L656.8 512.9L668.6 515.7Z" fill="#14b0d8"/><path d="M668.6 515.7L656.8 512.9L647.4 504.9L659.3 506.9Z" fill="#30c5a2"/><path d="M659.3 506.9L647.4 504.9L638.1 502.3L649.9 503Z" fill="#6ecd67"/><path d="M649.9 503L638.1 502.3L628.8 506.9L640.6 506.4Z" fill="#a0c941"/><path d="M640.6 506.4L628.8 506.9L619.4 518.9L631.2 517.5Z" fill="#9cc943"/><path d="M631.2 517.5L619.4 518.9L610.1 532.7L621.9 530.5Z" fill="#6dcd68"/><path d="M621.9 530.5L610.1 532.7L600.7 548.7L612.6 547Z" fill="#3ac994"/><path d="M612.6 547L600.7 548.7L591.4 567.4L603.2 567.4Z" fill="#08bcbf"/><path d="M603.2 567.4L591.4 567.4L582 587.4L593.9 590.3Z" fill="#21a3e3"/><path d="M593.9 590.3L582 587.4L572.7 606.4L584.5 613Z" fill="#317dfc"/><path d="M584.5 613L572.7 606.4L563.4 622.6L575.2 632.7Z" fill="#4757f7"/><path d="M575.2 632.7L563.4 622.6L554 632.8L565.8 646.5Z" fill="#463de0"/><path d="M565.8 646.5L554 632.8L544.7 639.1L556.5 656.3Z" fill="#4332cb"/><path d="M717.8 544.3L706 541.1L696.7 540.9L708.5 544Z" fill="#416bfe"/><path d="M708.5 544L696.7 540.9L687.3 537.7L699.1 541Z" fill="#337afd"/><path d="M699.1 541L687.3 537.7L678 529L689.8 532Z" fill="#2b91ef"/><path d="M689.8 532L678 529L668.6 515.7L680.5 518.5Z" fill="#13b0d7"/><path d="M680.5 518.5L668.6 515.7L659.3 506.9L671.1 508.5Z" fill="#32c69f"/><path d="M671.1 508.5L659.3 506.9L649.9 503L661.8 503.1Z" fill="#7ccc5c"/><path d="M661.8 503.1L649.9 503L640.6 506.4L652.4 505.1Z" fill="#b6c532"/><path d="M652.4 505.1L640.6 506.4L631.2 517.5L643.1 515Z" fill="#bcc42f"/><path d="M643.1 515L631.2 517.5L621.9 530.5L633.7 526.9Z" fill="#96ca48"/><path d="M633.7 526.9L621.9 530.5L612.6 547L624.4 543.8Z" fill="#5dcc75"/><path d="M624.4 543.8L612.6 547L603.2 567.4L615.1 565.5Z" fill="#26c2ac"/><path d="M615.1 565.5L603.2 567.4L593.9 590.3L605.7 590.4Z" fill="#1babde"/><path d="M605.7 590.4L593.9 590.3L584.5 613L596.4 615.5Z" fill="#2f81fa"/><path d="M596.4 615.5L584.5 613L575.2 632.7L587 636.8Z" fill="#4855f6"/><path d="M587 636.8L575.2 632.7L565.8 646.5L577.7 652.3Z" fill="#4538d7"/><path d="M577.7 652.3L565.8 646.5L556.5 656.3L568.3 664.3Z" fill="#412cb9"/><path d="M729.7 547.6L717.8 544.3L708.5 544L720.3 547.1Z" fill="#416bfe"/><path d="M720.3 547.1L708.5 544L699.1 541L711 544.4Z" fill="#337bfd"/><path d="M711 544.4L699.1 541L689.8 532L701.6 534.9Z" fill="#2b91ef"/><path d="M701.6 534.9L689.8 532L680.5 518.5L692.3 521.1Z" fill="#12b1d6"/><path d="M692.3 521.1L680.5 518.5L671.1 508.5L682.9 509.7Z" fill="#34c79b"/><path d="M682.9 509.7L671.1 508.5L661.8 503.1L673.6 502.4Z" fill="#8dcb4f"/><path d="M673.6 502.4L661.8 503.1L652.4 505.1L664.3 502.5Z" fill="#d0bf27"/><path d="M664.3 502.5L652.4 505.1L643.1 515L654.9 510.9Z" fill="#debc2a"/><path d="M654.9 510.9L643.1 515L633.7 526.9L645.6 521.5Z" fill="#c6c22a"/><path d="M645.6 521.5L633.7 526.9L624.4 543.8L636.2 538.9Z" fill="#95ca49"/><path d="M636.2 538.9L624.4 543.8L615.1 565.5L626.9 561.8Z" fill="#3eca8f"/><path d="M626.9 561.8L615.1 565.5L605.7 590.4L617.5 588.7Z" fill="#06b5cf"/><path d="M617.5 588.7L605.7 590.4L596.4 615.5L608.2 615.7Z" fill="#2d8af4"/><path d="M608.2 615.7L596.4 615.5L587 636.8L598.9 637.3Z" fill="#4759f9"/><path d="M598.9 637.3L587 636.8L577.7 652.3L589.5 653.1Z" fill="#463bdc"/><path d="M589.5 653.1L577.7 652.3L568.3 664.3L580.2 665.8Z" fill="#412dbc"/><path d="M741.5 550.8L729.7 547.6L720.3 547.1L732.2 550.1Z" fill="#416bfe"/><path d="M732.2 550.1L720.3 547.1L711 544.4L722.8 547.8Z" fill="#337bfc"/><path d="M722.8 547.8L711 544.4L701.6 534.9L713.5 537.7Z" fill="#2b91ef"/><path d="M713.5 537.7L701.6 534.9L692.3 521.1L704.1 523.4Z" fill="#10b2d5"/><path d="M704.1 523.4L692.3 521.1L682.9 509.7L694.8 509.8Z" fill="#38c896"/><path d="M694.8 509.8L682.9 509.7L673.6 502.4L685.4 499.7Z" fill="#a5c83d"/><path d="M685.4 499.7L673.6 502.4L664.3 502.5L676.1 496.8Z" fill="#efba35"/><path d="M676.1 496.8L664.3 502.5L654.9 510.9L666.8 503Z" fill="#fec13a"/><path d="M666.8 503L654.9 510.9L645.6 521.5L657.4 511.7Z" fill="#fbbc3d"/><path d="M657.4 511.7L645.6 521.5L636.2 538.9L648.1 529.8Z" fill="#e0bc2a"/><path d="M648.1 529.8L636.2 538.9L626.9 561.8L638.7 554.9Z" fill="#83cc57"/><path d="M638.7 554.9L626.9 561.8L617.5 588.7L629.4 585.2Z" fill="#1bc0b4"/><path d="M629.4 585.2L617.5 588.7L608.2 615.7L620 615.3Z" fill="#2797eb"/><path d="M620 615.3L608.2 615.7L598.9 637.3L610.7 637.5Z" fill="#4561fc"/><path d="M610.7 637.5L598.9 637.3L589.5 653.1L601.3 653.6Z" fill="#4740e4"/><path d="M601.3 653.6L589.5 653.1L580.2 665.8L592 667Z" fill="#4230c4"/></g>
<path d="M379 614.4L592 672.8L741.5 590.5M379 614.4L379 469.5M592 672.8L592 527.9M741.5 590.5L741.5 445.6M379 469.5L592 527.9L741.5 445.6L528.5 387.2Z" fill="none" stroke="#1a1a1a" stroke-width="1.6" stroke-linejoin="round"/>
<path d="M592 672.8L587.2 675.5M741.5 590.5L747.8 592.2M524.2 654.2L519.4 656.9M693.9 616.7L700.2 618.4M456.4 635.6L451.6 638.3M646.3 642.9L652.6 644.6M388.6 617L383.8 619.7M598.7 669.1L605 670.8" stroke="#1a1a1a" stroke-width="1.4" fill="none"/><path d="M379 601.2L374.7 600M379 588.1L374.7 586.9M379 574.9L374.7 573.7M379 561.7L374.7 560.5M379 548.5L374.7 547.3M379 535.4L374.7 534.2M379 522.2L374.7 521M379 509L374.7 507.8M379 495.8L374.7 494.7M379 482.7L374.7 481.5" stroke="#9a9a9a" stroke-width="0.8" fill="none"/>
<text x="268.7" y="442.5" font-size="22" textLength="140" lengthAdjust="spacing">Energy density</text>
<text x="371.6" y="489.7" font-size="22" text-anchor="end" letter-spacing="0.75">-0.1854</text>
<text x="372.5" y="541.9" font-size="22" text-anchor="end" letter-spacing="0.75">-0.1857</text>
<text x="370.7" y="593.2" font-size="22" text-anchor="end" letter-spacing="0.75">-0.1860</text>
<text x="370.7" y="638.7" font-size="22">1.5</text>
<text x="338.5" y="663.3" font-size="22" letter-spacing="0.3">[010]</text>
<text x="401.5" y="663.9" font-size="28" font-style="italic" fill="#3a3a3a">ψ</text>
<text x="436" y="656.4" font-size="22">1.0</text>
<text x="504.8" y="674.5" font-size="22">0.5</text>
<text x="578.6" y="691.6" font-size="22">0</text>
<text x="565.4" y="715.2" font-size="22" letter-spacing="0.3">[100]</text>
<text x="607.2" y="686.2" font-size="22">1.5</text>
<text x="655.2" y="662.4" font-size="22">1.0</text>
<text x="703.4" y="632.8" font-size="22">0.5</text>
<text x="752.2" y="602.9" font-size="22">0</text>
<text x="741.6" y="627" font-size="22" letter-spacing="0.3">[001]</text>
<text x="704.5" y="661.4" font-size="30" font-style="italic" fill="#3a3a3a">α</text>
<text x="427.2" y="688.7" font-size="22" fill="#cb1226" letter-spacing="0.3">[110]</text>
<text x="483.7" y="674.3" font-size="21" font-weight="bold" fill="#cb1226">h</text>
<path d="M488.8 643.5L463.8 661.6M474.8 661L463.8 661.6L467.8 651.3" fill="none" stroke="#cb1226" stroke-width="3.2" stroke-linecap="round" stroke-linejoin="miter"/>
<text x="361.7" y="717.9" font-size="29.5"><tspan font-style="italic">h</tspan> = 0.05</text>
<text x="373.5" y="409.5" font-size="40.5" font-weight="bold" font-family="Liberation Sans, sans-serif" fill="#000">D</text>
<circle cx="398.5" cy="618.3" r="5.3" fill="#0d9be8" stroke="#1b35b0" stroke-width="1.4"/>
<circle cx="575.8" cy="668.3" r="5.3" fill="#0d9be8" stroke="#1b35b0" stroke-width="1.4"/>
<circle cx="741.7" cy="550.8" r="5.3" fill="#0d9be8" stroke="#1b35b0" stroke-width="1.4"/>
<text x="399" y="598" font-size="23" font-weight="bold" fill="#ffffff">Q<tspan font-size="17" font-weight="normal" dx="0.5" dy="9.2">2</tspan></text>
<text x="562.4" y="639.6" font-size="23" font-weight="bold" fill="#ffffff">Q<tspan font-size="17" font-weight="normal" dx="0.5" dy="9.2">1</tspan></text>
<text x="708.5" y="522" font-size="23" font-weight="bold" fill="#111">Q<tspan font-size="17" font-weight="normal" dx="0.5" dy="9.2">3</tspan></text>
<text x="543.2" y="433.1" font-size="21.5" fill="#cb1226" transform="rotate(14 543.2 433.1)" textLength="114" lengthAdjust="spacing">saddle point</text>
<path d="M573 462L546.2 524.1" stroke="#cb1226" stroke-width="1.6" fill="none"/><path d="M541 536L542 522.3L550.3 525.9Z" fill="#cb1226"/></g>
<g id="pE"><path d="M859 260.8L1008.5 178.5M855.9 253.8L1068.9 312.2M855.9 253.8L855.9 108.9M1008.5 178.5L1008.5 33.6M869.7 263.7L1019.2 181.4M863.4 249.7L1076.4 308.1M863.4 249.7L863.4 104.8M1019.2 181.4L1019.2 36.5M880.4 266.7L1029.8 184.4M870.8 245.6L1083.8 304M870.8 245.6L870.8 100.7M1029.8 184.4L1029.8 39.5M891 269.6L1040.5 187.3M878.3 241.4L1091.3 299.8M878.3 241.4L878.3 96.5M1040.5 187.3L1040.5 42.4M901.6 272.5L1051.2 190.2M885.8 237.3L1098.8 295.7M885.8 237.3L885.8 92.4M1051.2 190.2L1051.2 45.3M912.3 275.4L1061.8 193.1M893.2 233.2L1106.2 291.6M893.2 233.2L893.2 88.3M1061.8 193.1L1061.8 48.2M923 278.3L1072.5 196M900.7 229.1L1113.7 287.5M900.7 229.1L900.7 84.2M1072.5 196L1072.5 51.1M933.6 281.3L1083.1 199M908.2 225L1121.2 283.4M908.2 225L908.2 80.1M1083.1 199L1083.1 54.1M944.2 284.2L1093.8 201.9M915.7 220.9L1128.7 279.3M915.7 220.9L915.7 76M1093.8 201.9L1093.8 57M954.9 287.1L1104.4 204.8M923.1 216.7L1136.2 275.1M923.1 216.7L923.1 71.8M1104.4 204.8L1104.4 59.9M965.6 290L1115 207.7M930.6 212.6L1143.6 271M930.6 212.6L930.6 67.7M1115 207.7L1115 62.8M976.2 292.9L1125.7 210.6M938.1 208.5L1151.1 266.9M938.1 208.5L938.1 63.6M1125.7 210.6L1125.7 65.7M986.9 295.9L1136.4 213.6M945.6 204.4L1158.6 262.8M945.6 204.4L945.6 59.5M1136.4 213.6L1136.4 68.7M997.5 298.8L1147 216.5M953 200.3L1166.1 258.7M953 200.3L953 55.4M1147 216.5L1147 71.6M1008.2 301.7L1157.7 219.4M960.5 196.2L1173.5 254.6M960.5 196.2L960.5 51.3M1157.7 219.4L1157.7 74.5M1018.8 304.6L1168.3 222.3M968 192.1L1181 250.5M968 192.1L968 47.2M1168.3 222.3L1168.3 77.4M1029.5 307.5L1179 225.2M975.5 187.9L1188.5 246.3M975.5 187.9L975.5 43M1179 225.2L1179 80.3M1040.1 310.5L1189.6 228.2M983 183.8L1196 242.2M983 183.8L983 38.9M1189.6 228.2L1189.6 83.3M1050.8 313.4L1200.2 231.1M990.4 179.7L1203.4 238.1M990.4 179.7L990.4 34.8M1200.2 231.1L1200.2 86.2M848.4 252.7L997.9 170.4L1210.9 228.8M848.4 247.5L997.9 165.2L1210.9 223.6M848.4 242.4L997.9 160.1L1210.9 218.5M848.4 237.2L997.9 154.9L1210.9 213.3M848.4 232L997.9 149.7L1210.9 208.1M848.4 226.8L997.9 144.5L1210.9 202.9M848.4 221.7L997.9 139.4L1210.9 197.8M848.4 216.5L997.9 134.2L1210.9 192.6M848.4 211.3L997.9 129L1210.9 187.4M848.4 206.1L997.9 123.8L1210.9 182.2M848.4 201L997.9 118.7L1210.9 177.1M848.4 195.8L997.9 113.5L1210.9 171.9M848.4 190.6L997.9 108.3L1210.9 166.7M848.4 185.4L997.9 103.1L1210.9 161.5M848.4 180.3L997.9 98L1210.9 156.4M848.4 175.1L997.9 92.8L1210.9 151.2M848.4 169.9L997.9 87.6L1210.9 146M848.4 164.7L997.9 82.4L1210.9 140.8M848.4 159.6L997.9 77.3L1210.9 135.7M848.4 154.4L997.9 72.1L1210.9 130.5M848.4 149.2L997.9 66.9L1210.9 125.3M848.4 144L997.9 61.7L1210.9 120.1M848.4 138.9L997.9 56.6L1210.9 115M848.4 133.7L997.9 51.4L1210.9 109.8M848.4 128.5L997.9 46.2L1210.9 104.6M848.4 123.3L997.9 41L1210.9 99.4M848.4 118.2L997.9 35.9L1210.9 94.3" fill="none" stroke="#e9e9e9" stroke-width="0.5"/>
<path d="M848.4 257.9L997.9 175.6L1210.9 234M997.9 175.6L997.9 30.7" fill="none" stroke="#1a1a1a" stroke-width="1.6"/>
<path d="M1029.4 307.5L1037.6 302.1L1044.3 296.4L1043.8 296.1L1042.9 288.1L1042.7 287.5L1039.7 287.2L1031.4 292.7L1023.1 298.1L1020.8 299.6L1016.4 304M893.4 270.2L902.4 267.2L905.4 265.8L915.7 261L926.2 256.1L924.4 255.1L923 255.2L903.4 257.6L902.3 257.5L890.9 261.8L880.4 266.7M1040.1 279.6L1040 279.3L1043.1 272.7L1043.9 267.4L1044.4 265.4L1039 260.3L1030.6 255.2L1019.9 251.3L1006.9 248.7L991.7 247.3L977.5 247.1L972.9 247.9L960.2 250L945.3 253.3L944.5 253.4L943.8 254.2L953.8 258.4L965.5 261.7L976.9 265.2L988.5 268.6L1000.6 271.7L1012.8 274.7L1024.8 277.9L1038.5 280.1L1040.1 279.6" fill="none" stroke="#463cde" stroke-width="1.2" stroke-opacity="0.9"/>
<path d="M1046.6 312.3L1055 306.8L1062.1 301.1L1067.5 294.8L1067.8 293.3L1068.1 287.3L1066.9 284L1064.8 278.7L1064.1 275.8L1063.1 270.5L1061.8 267.3L1058.2 261.5L1056.6 260.4L1047.4 255.7L1037 251.7L1025.6 248.2L1013.3 245.2L1000 242.7L985.6 240.9L982.4 240.7L967.2 241.3L958.9 242L945.7 243.4L938.4 244L924.9 245.1L916.5 245.7L902.1 247.8L898.4 248.5L885.1 252.5L873.5 257.1L863.2 261.9M910.8 275L924.2 271L934.2 269.2L944.5 268.8L951.9 269.2L965.1 271.7L977 274.9L988.7 278.2L999.2 282.2L1002.7 284.8L1005.2 288.7L1004.3 292.9L999 299.2" fill="none" stroke="#4563fd" stroke-width="1.2" stroke-opacity="0.9"/>
<path d="M1080.9 305.6L1081.7 298.8L1081.2 295.6L1082 291.1L1080.2 286.4L1078.9 282.6L1077.6 278.1L1076.5 274.2L1075.7 269.4L1074.4 265.9L1070.7 262.4L1062.6 257.1L1053.1 252.6L1051.1 251.8L1042.4 248.7L1030.9 245.3L1018.7 242.2L1008.2 240.1L1005.7 239.6L991.6 237.6L976.1 236.4L966.2 236.3L957.4 236.9L945.4 238.3L935.6 239.2L924.3 240.2L914.6 241L902.6 241.9L891.9 243.7L884.1 244.6L867.9 247.2M926.9 279.4L935.8 278.1L952.2 278.8L955.1 279.5L964.6 281.7L973.4 284.5L975.9 285.3L983.1 291.1L982.9 294.8" fill="none" stroke="#2d8cf3" stroke-width="1.2" stroke-opacity="0.9"/>
<path d="M1094.9 297.8L1094.3 294.5L1091.6 289.9L1090.1 285.6L1088.8 281.7L1087.5 277.2L1087.4 272.7L1086.8 269.3L1084 264.8L1077.4 259L1077.1 258.9L1068.1 254L1058.1 249.8L1047.2 246.1L1035.7 242.6L1023.5 239.6L1010.7 236.8L997.1 234.6L982.4 232.9L981.9 232.9L965.7 232.4L953.8 232.9L945.4 233.8L934.4 235.2L923.2 236.3L913.2 237.1L902.3 238L890.3 238.6L881.9 239.4" fill="none" stroke="#18aedb" stroke-width="1.2" stroke-opacity="0.9"/>
<path d="M1102.5 293.7L1099.8 288.3L1098.9 285.9L1097 279.8L1097.3 277L1097.2 272.2L1096.2 267.8L1093.2 263.4L1090.9 261L1082.9 255.7L1073.4 251.1L1065.9 248.2L1063.2 247L1052.5 243.1L1041 239.7L1028.8 236.7L1015.9 234L1012.1 233.4L1002.4 231.7L988.2 229.7L972.6 228.6L966.1 228.5L954.2 228.9L943.4 230L931.6 231.6L924.9 232.6L909.6 234L903.4 234.5L889.5 235.3" fill="none" stroke="#24c1ae" stroke-width="1.2" stroke-opacity="0.9"/>
<path d="M1108.5 290.4L1105.6 282.2L1105.6 282.2L1106.2 274.7L1106.9 271.8L1105.9 266.9L1104.3 263.4L1097.5 257.4L1096 256.4L1089.8 251.8L1080.6 247.2L1070.3 243.1L1059.3 239.4L1047.7 236L1035.6 232.9L1023 230.1L1009.6 227.7L995.2 225.9L982 225.2L979.2 224.9L962.3 224.5L953.4 225L941.2 226.3L934.4 227.5L916.4 230.3L916.2 230.3L895.5 232M988.9 180.6L994.4 182.3L1000.1 184.1L1011.5 187.6L1022.9 191.1L1034.3 194.6L1045.7 198.1L1057.2 201.5L1068.8 204.9L1080.5 208.2L1092.3 211.5L1104.2 214.7L1116.1 217.9L1128.2 221L1140.4 224L1152.6 227.1L1164.9 230.1L1177.2 233.1L1189.5 236L1195.7 237.5L1201.9 239" fill="none" stroke="#64cd6f" stroke-width="1.2" stroke-opacity="0.9"/>
<path d="M1113.9 287.4L1112.8 284.1L1114.4 277.4L1114.5 276.9L1116.7 269.8L1117.1 266.1L1114.7 261.6L1113.9 258.1L1107.5 251.9L1107.4 251.8L1101.1 245.6L1092.1 240.9L1084.5 237.9L1095.6 233.2L1106.4 233L1122.6 233.8L1128 234.4L1136 236.2L1148.8 238.9L1161.7 241.6L1174.6 244.2L1187.6 246.8M974.6 188.4L985.3 192.3L996 196.2L1006.8 200L1017.7 203.7L1024.7 206.1L1027.9 207.9L1035.4 213.5L1038.5 217.6L1030.9 223.2L1021.1 221.4L1006.5 219.7L989.3 219.5L989.1 219.5L971.9 219.2L963.3 220L951.4 220.7L942.6 222.1L926.2 225.3L925.1 225.4L909.2 228.3L900.9 229" fill="none" stroke="#c6c22a" stroke-width="1.2" stroke-opacity="0.9"/>
<path d="M1120.4 283.8L1121.5 278.8L1126.2 272.4L1128.4 269.6L1129.6 265.7L1133.6 259L1142.5 253.8L1157.8 253.5L1171.2 253.9L1174.2 254.2M961.2 195.8L962.9 196.8L968.5 201.6L972.8 207.3L963.1 212.3L948.4 216L939.1 217.7L933.1 219.5L919.1 223.4L907.4 225.4" fill="none" stroke="#fec438" stroke-width="1.2" stroke-opacity="0.9"/>
<path d="M1132.1 277.4L1134.6 274.7L1142.1 269.1L1153.3 264.4L1156.6 263.9M943.6 205.5L943.4 206.9L935.8 212.5L924.7 217.2L919.1 219" fill="none" stroke="#f6ef20" stroke-width="1.2" stroke-opacity="0.9"/>
<g fill-opacity="0.70" stroke="#151515" stroke-opacity="0.95" stroke-width="1.20" stroke-linejoin="round"><path d="M1009.7 93.4L997.9 90.1L988.6 87.9L1000.4 91.6Z" fill="#2cc4a7"/><path d="M1000.4 91.6L988.6 87.9L979.2 82.8L991 87.1Z" fill="#47cb87"/><path d="M991 87.1L979.2 82.8L969.9 76.8L981.7 81.6Z" fill="#89cb52"/><path d="M981.7 81.6L969.9 76.8L960.5 70.9L972.4 78Z" fill="#cfc028"/><path d="M972.4 78L960.5 70.9L951.2 66.5L963 75.8Z" fill="#fabc3d"/><path d="M963 75.8L951.2 66.5L941.8 64.7L953.7 78.2Z" fill="#fcd030"/><path d="M953.7 78.2L941.8 64.7L932.5 66.7L944.3 85.7Z" fill="#f8d82c"/><path d="M944.3 85.7L932.5 66.7L923.1 73.4L935 99.1Z" fill="#fcd130"/><path d="M935 99.1L923.1 73.4L913.8 85.1L925.6 115.6Z" fill="#fabb3d"/><path d="M925.6 115.6L913.8 85.1L904.5 108L916.3 137.5Z" fill="#bac430"/><path d="M916.3 137.5L904.5 108L895.1 140.6L907 165Z" fill="#3dca90"/><path d="M907 165L895.1 140.6L885.8 170.6L897.6 189.4Z" fill="#18aedb"/><path d="M897.6 189.4L885.8 170.6L876.4 190.2L888.3 204.9Z" fill="#2e87f7"/><path d="M888.3 204.9L876.4 190.2L867.1 203.5L878.9 214.9Z" fill="#3f6eff"/><path d="M878.9 214.9L867.1 203.5L857.7 213.7L869.6 222.7Z" fill="#4562fc"/><path d="M869.6 222.7L857.7 213.7L848.4 221.7L860.2 229Z" fill="#475cfa"/><path d="M1021.6 96.6L1009.7 93.4L1000.4 91.6L1012.2 95.3Z" fill="#2bc3a7"/><path d="M1012.2 95.3L1000.4 91.6L991 87.1L1002.9 91.4Z" fill="#44ca8a"/><path d="M1002.9 91.4L991 87.1L981.7 81.6L993.5 86.2Z" fill="#81cc58"/><path d="M993.5 86.2L981.7 81.6L972.4 78L984.2 84.6Z" fill="#c4c22b"/><path d="M984.2 84.6L972.4 78L963 75.8L974.8 84.2Z" fill="#eaba30"/><path d="M974.8 84.2L963 75.8L953.7 78.2L965.5 90.3Z" fill="#fcbd3d"/><path d="M965.5 90.3L953.7 78.2L944.3 85.7L956.2 102.5Z" fill="#f8ba3d"/><path d="M956.2 102.5L944.3 85.7L935 99.1L946.8 121.5Z" fill="#d3bf27"/><path d="M946.8 121.5L935 99.1L925.6 115.6L937.5 141.8Z" fill="#7dcc5c"/><path d="M937.5 141.8L925.6 115.6L916.3 137.5L928.1 162.8Z" fill="#2ec5a3"/><path d="M928.1 162.8L916.3 137.5L907 165L918.8 186.7Z" fill="#15afd9"/><path d="M918.8 186.7L907 165L897.6 189.4L909.4 207.8Z" fill="#2d87f6"/><path d="M909.4 207.8L897.6 189.4L888.3 204.9L900.1 222.1Z" fill="#4563fd"/><path d="M900.1 222.1L888.3 204.9L878.9 214.9L890.8 231.7Z" fill="#4851f3"/><path d="M890.8 231.7L878.9 214.9L869.6 222.7L881.4 239.3Z" fill="#4848ec"/><path d="M881.4 239.3L869.6 222.7L860.2 229L872.1 245.5Z" fill="#4744e8"/><path d="M1033.4 99.8L1021.6 96.6L1012.2 95.3L1024.1 98.9Z" fill="#2bc3a8"/><path d="M1024.1 98.9L1012.2 95.3L1002.9 91.4L1014.7 95.5Z" fill="#41ca8c"/><path d="M1014.7 95.5L1002.9 91.4L993.5 86.2L1005.4 90.7Z" fill="#7acc5e"/><path d="M1005.4 90.7L993.5 86.2L984.2 84.6L996 90.7Z" fill="#b9c431"/><path d="M996 90.7L984.2 84.6L974.8 84.2L986.7 91.9Z" fill="#d8be28"/><path d="M986.7 91.9L974.8 84.2L965.5 90.3L977.3 101.1Z" fill="#e6bb2d"/><path d="M977.3 101.1L965.5 90.3L956.2 102.5L968 117.4Z" fill="#cac129"/><path d="M968 117.4L956.2 102.5L946.8 121.5L958.6 141.1Z" fill="#79cc5e"/><path d="M958.6 141.1L946.8 121.5L937.5 141.8L949.3 164.6Z" fill="#24c2ae"/><path d="M949.3 164.6L937.5 141.8L928.1 162.8L940 184.8Z" fill="#1ca9df"/><path d="M940 184.8L928.1 162.8L918.8 186.7L930.6 205.2Z" fill="#2d88f6"/><path d="M930.6 205.2L918.8 186.7L909.4 207.8L921.3 223Z" fill="#4562fc"/><path d="M921.3 223L909.4 207.8L900.1 222.1L911.9 235.7Z" fill="#4848ec"/><path d="M911.9 235.7L900.1 222.1L890.8 231.7L902.6 244.3Z" fill="#463adc"/><path d="M902.6 244.3L890.8 231.7L881.4 239.3L893.2 251.3Z" fill="#4435d2"/><path d="M893.2 251.3L881.4 239.3L872.1 245.5L883.9 257.1Z" fill="#4433cc"/><path d="M1045.2 103.1L1033.4 99.8L1024.1 98.9L1035.9 102.5Z" fill="#2bc3a8"/><path d="M1035.9 102.5L1024.1 98.9L1014.7 95.5L1026.5 99.5Z" fill="#3eca8f"/><path d="M1026.5 99.5L1014.7 95.5L1005.4 90.7L1017.2 94.9Z" fill="#74cd62"/><path d="M1017.2 94.9L1005.4 90.7L996 90.7L1007.9 96.4Z" fill="#afc636"/><path d="M1007.9 96.4L996 90.7L986.7 91.9L998.5 99Z" fill="#c7c129"/><path d="M998.5 99L986.7 91.9L977.3 101.1L989.2 110.8Z" fill="#ccc028"/><path d="M989.2 110.8L977.3 101.1L968 117.4L979.8 130.5Z" fill="#98c947"/><path d="M979.8 130.5L968 117.4L958.6 141.1L970.5 158.1Z" fill="#37c897"/><path d="M970.5 158.1L958.6 141.1L949.3 164.6L961.1 184.3Z" fill="#18addb"/><path d="M961.1 184.3L949.3 164.6L940 184.8L951.8 203.6Z" fill="#2e85f8"/><path d="M951.8 203.6L940 184.8L930.6 205.2L942.5 220.3Z" fill="#4562fc"/><path d="M942.5 220.3L930.6 205.2L921.3 223L933.1 233.8Z" fill="#4848ec"/><path d="M933.1 233.8L921.3 223L911.9 235.7L923.8 242.8Z" fill="#4539d9"/><path d="M923.8 242.8L911.9 235.7L902.6 244.3L914.4 248.3Z" fill="#4433cc"/><path d="M914.4 248.3L902.6 244.3L893.2 251.3L905.1 253Z" fill="#4332c9"/><path d="M905.1 253L893.2 251.3L883.9 257.1L895.7 257.3Z" fill="#4332c9"/><path d="M1057.1 106.3L1045.2 103.1L1035.9 102.5L1047.7 106Z" fill="#2ac3a8"/><path d="M1047.7 106L1035.9 102.5L1026.5 99.5L1038.4 103.3Z" fill="#3dc990"/><path d="M1038.4 103.3L1026.5 99.5L1017.2 94.9L1029 99Z" fill="#6fcd66"/><path d="M1029 99L1017.2 94.9L1007.9 96.4L1019.7 101.6Z" fill="#a7c73c"/><path d="M1019.7 101.6L1007.9 96.4L998.5 99L1010.3 105.3Z" fill="#b8c431"/><path d="M1010.3 105.3L998.5 99L989.2 110.8L1001 119.3Z" fill="#b4c534"/><path d="M1001 119.3L989.2 110.8L979.8 130.5L991.7 141.7Z" fill="#6bcd69"/><path d="M991.7 141.7L979.8 130.5L970.5 158.1L982.3 172.6Z" fill="#13beb9"/><path d="M982.3 172.6L970.5 158.1L961.1 184.3L973 201Z" fill="#2994ed"/><path d="M973 201L961.1 184.3L951.8 203.6L963.6 219.4Z" fill="#4562fc"/><path d="M963.6 219.4L951.8 203.6L942.5 220.3L954.3 232.3Z" fill="#4747eb"/><path d="M954.3 232.3L942.5 220.3L933.1 233.8L944.9 240.7Z" fill="#4538d8"/><path d="M944.9 240.7L933.1 233.8L923.8 242.8L935.6 244.7Z" fill="#4433cd"/><path d="M935.6 244.7L923.8 242.8L914.4 248.3L926.3 245.6Z" fill="#4434cf"/><path d="M926.3 245.6L914.4 248.3L905.1 253L916.9 246.9Z" fill="#4639d9"/><path d="M916.9 246.9L905.1 253L895.7 257.3L907.6 248.9Z" fill="#473ee2"/><path d="M1068.9 109.6L1057.1 106.3L1047.7 106L1059.6 109.5Z" fill="#2ac3a9"/><path d="M1059.6 109.5L1047.7 106L1038.4 103.3L1050.2 107.1Z" fill="#3cc991"/><path d="M1050.2 107.1L1038.4 103.3L1029 99L1040.9 102.9Z" fill="#6bcd69"/><path d="M1040.9 102.9L1029 99L1019.7 101.6L1031.5 106.4Z" fill="#a1c840"/><path d="M1031.5 106.4L1019.7 101.6L1010.3 105.3L1022.2 111Z" fill="#acc739"/><path d="M1022.2 111L1010.3 105.3L1001 119.3L1012.8 126.6Z" fill="#9fc942"/><path d="M1012.8 126.6L1001 119.3L991.7 141.7L1003.5 151.1Z" fill="#4bcb84"/><path d="M1003.5 151.1L991.7 141.7L982.3 172.6L994.2 184.5Z" fill="#07b5cf"/><path d="M994.2 184.5L982.3 172.6L973 201L984.8 214.6Z" fill="#317dfc"/><path d="M984.8 214.6L973 201L963.6 219.4L975.5 232.3Z" fill="#484aee"/><path d="M975.5 232.3L963.6 219.4L954.3 232.3L966.1 241.9Z" fill="#4536d2"/><path d="M966.1 241.9L954.3 232.3L944.9 240.7L956.8 245.7Z" fill="#4330c5"/><path d="M956.8 245.7L944.9 240.7L935.6 244.7L947.4 244.9Z" fill="#4332c9"/><path d="M947.4 244.9L935.6 244.7L926.3 245.6L938.1 241.2Z" fill="#463adb"/><path d="M938.1 241.2L926.3 245.6L916.9 246.9L928.7 239.1Z" fill="#4849ed"/><path d="M928.7 239.1L916.9 246.9L907.6 248.9L919.4 238.7Z" fill="#4756f6"/><path d="M1080.7 112.8L1068.9 109.6L1059.6 109.5L1071.4 112.9Z" fill="#2ac3a9"/><path d="M1071.4 112.9L1059.6 109.5L1050.2 107.1L1062 110.6Z" fill="#3bc992"/><path d="M1062 110.6L1050.2 107.1L1040.9 102.9L1052.7 106.6Z" fill="#68cd6b"/><path d="M1052.7 106.6L1040.9 102.9L1031.5 106.4L1043.4 110.8Z" fill="#9cc944"/><path d="M1043.4 110.8L1031.5 106.4L1022.2 111L1034 115.9Z" fill="#a2c83f"/><path d="M1034 115.9L1022.2 111L1012.8 126.6L1024.7 132.8Z" fill="#8fcb4e"/><path d="M1024.7 132.8L1012.8 126.6L1003.5 151.1L1015.3 158.8Z" fill="#3ac994"/><path d="M1015.3 158.8L1003.5 151.1L994.2 184.5L1006 193.9Z" fill="#1aacdd"/><path d="M1006 193.9L994.2 184.5L984.8 214.6L996.6 225.2Z" fill="#416bfe"/><path d="M996.6 225.2L984.8 214.6L975.5 232.3L987.3 242.5Z" fill="#463bdc"/><path d="M987.3 242.5L975.5 232.3L966.1 241.9L978 249.6Z" fill="#412dbb"/><path d="M978 249.6L966.1 241.9L956.8 245.7L968.6 250.2Z" fill="#402bb8"/><path d="M968.6 250.2L956.8 245.7L947.4 244.9L959.3 245.9Z" fill="#4331c8"/><path d="M959.3 245.9L947.4 244.9L938.1 241.2L949.9 238.9Z" fill="#4741e4"/><path d="M949.9 238.9L938.1 241.2L928.7 239.1L940.6 234.4Z" fill="#4757f7"/><path d="M940.6 234.4L928.7 239.1L919.4 238.7L931.2 232.2Z" fill="#416bfe"/><path d="M1092.6 116.1L1080.7 112.8L1071.4 112.9L1083.2 116.2Z" fill="#2ac3a9"/><path d="M1083.2 116.2L1071.4 112.9L1062 110.6L1073.9 114.1Z" fill="#3bc993"/><path d="M1073.9 114.1L1062 110.6L1052.7 106.6L1064.5 110.1Z" fill="#66cd6d"/><path d="M1064.5 110.1L1052.7 106.6L1043.4 110.8L1055.2 114.7Z" fill="#99c946"/><path d="M1055.2 114.7L1043.4 110.8L1034 115.9L1045.8 120.2Z" fill="#9cc944"/><path d="M1045.8 120.2L1034 115.9L1024.7 132.8L1036.5 137.8Z" fill="#85cb56"/><path d="M1036.5 137.8L1024.7 132.8L1015.3 158.8L1027.2 164.7Z" fill="#33c69e"/><path d="M1027.2 164.7L1015.3 158.8L1006 193.9L1017.8 200.9Z" fill="#1fa5e2"/><path d="M1017.8 200.9L1006 193.9L996.6 225.2L1008.5 232.9Z" fill="#4660fc"/><path d="M1008.5 232.9L996.6 225.2L987.3 242.5L999.1 249.9Z" fill="#4433cc"/><path d="M999.1 249.9L987.3 242.5L978 249.6L989.8 255.7Z" fill="#3f28ae"/><path d="M989.8 255.7L978 249.6L968.6 250.2L980.4 254.5Z" fill="#3f29b0"/><path d="M980.4 254.5L968.6 250.2L959.3 245.9L971.1 248.5Z" fill="#4331c6"/><path d="M971.1 248.5L959.3 245.9L949.9 238.9L961.8 239.7Z" fill="#4744e8"/><path d="M961.8 239.7L949.9 238.9L940.6 234.4L952.4 234Z" fill="#465ffb"/><path d="M952.4 234L940.6 234.4L931.2 232.2L943.1 231.1Z" fill="#3678fe"/><path d="M1104.4 119.3L1092.6 116.1L1083.2 116.2L1095.1 119.5Z" fill="#2ac3a9"/><path d="M1095.1 119.5L1083.2 116.2L1073.9 114.1L1085.7 117.4Z" fill="#3ac993"/><path d="M1085.7 117.4L1073.9 114.1L1064.5 110.1L1076.4 113.4Z" fill="#66cd6d"/><path d="M1076.4 113.4L1064.5 110.1L1055.2 114.7L1067 118.1Z" fill="#97ca47"/><path d="M1067 118.1L1055.2 114.7L1045.8 120.2L1057.7 123.8Z" fill="#99c946"/><path d="M1057.7 123.8L1045.8 120.2L1036.5 137.8L1048.3 141.6Z" fill="#80cc59"/><path d="M1048.3 141.6L1036.5 137.8L1027.2 164.7L1039 168.8Z" fill="#30c5a2"/><path d="M1039 168.8L1027.2 164.7L1017.8 200.9L1029.7 205.4Z" fill="#22a2e4"/><path d="M1029.7 205.4L1017.8 200.9L1008.5 232.9L1020.3 237.6Z" fill="#475cfa"/><path d="M1020.3 237.6L1008.5 232.9L999.1 249.9L1011 254.5Z" fill="#4230c4"/><path d="M1011 254.5L999.1 249.9L989.8 255.7L1001.6 259.9Z" fill="#3e27a9"/><path d="M1001.6 259.9L989.8 255.7L980.4 254.5L992.3 258.3Z" fill="#3e28ad"/><path d="M992.3 258.3L980.4 254.5L971.1 248.5L982.9 251.8Z" fill="#4330c5"/><path d="M982.9 251.8L971.1 248.5L961.8 239.7L973.6 242.7Z" fill="#4745e9"/><path d="M973.6 242.7L961.8 239.7L952.4 234L964.2 236.7Z" fill="#4562fc"/><path d="M964.2 236.7L952.4 234L943.1 231.1L954.9 233.5Z" fill="#327bfc"/><path d="M1116.2 122.6L1104.4 119.3L1095.1 119.5L1106.9 122.7Z" fill="#2ac3a9"/><path d="M1106.9 122.7L1095.1 119.5L1085.7 117.4L1097.5 120.6Z" fill="#3ac993"/><path d="M1097.5 120.6L1085.7 117.4L1076.4 113.4L1088.2 116.6Z" fill="#66cd6d"/><path d="M1088.2 116.6L1076.4 113.4L1067 118.1L1078.9 121.2Z" fill="#98ca47"/><path d="M1078.9 121.2L1067 118.1L1057.7 123.8L1069.5 126.7Z" fill="#9ac946"/><path d="M1069.5 126.7L1057.7 123.8L1048.3 141.6L1060.2 144.2Z" fill="#81cc58"/><path d="M1060.2 144.2L1048.3 141.6L1039 168.8L1050.8 171.2Z" fill="#31c5a1"/><path d="M1050.8 171.2L1039 168.8L1029.7 205.4L1041.5 207.4Z" fill="#21a3e3"/><path d="M1041.5 207.4L1029.7 205.4L1020.3 237.6L1032.1 239.4Z" fill="#465dfa"/><path d="M1032.1 239.4L1020.3 237.6L1011 254.5L1022.8 256.4Z" fill="#4331c7"/><path d="M1022.8 256.4L1011 254.5L1001.6 259.9L1013.5 262.1Z" fill="#3e27ab"/><path d="M1013.5 262.1L1001.6 259.9L992.3 258.3L1004.1 261Z" fill="#3f28ae"/><path d="M1004.1 261L992.3 258.3L982.9 251.8L994.8 255Z" fill="#4331c6"/><path d="M994.8 255L982.9 251.8L973.6 242.7L985.4 246.2Z" fill="#4745e9"/><path d="M985.4 246.2L973.6 242.7L964.2 236.7L976.1 240.5Z" fill="#4561fc"/><path d="M976.1 240.5L964.2 236.7L954.9 233.5L966.7 237.5Z" fill="#337bfd"/><path d="M1128.1 125.8L1116.2 122.6L1106.9 122.7L1118.7 125.8Z" fill="#2ac3a9"/><path d="M1118.7 125.8L1106.9 122.7L1097.5 120.6L1109.4 123.6Z" fill="#3bc993"/><path d="M1109.4 123.6L1097.5 120.6L1088.2 116.6L1100 119.5Z" fill="#67cd6c"/><path d="M1100 119.5L1088.2 116.6L1078.9 121.2L1090.7 123.8Z" fill="#9ac946"/><path d="M1090.7 123.8L1078.9 121.2L1069.5 126.7L1081.3 128.9Z" fill="#9ec942"/><path d="M1081.3 128.9L1069.5 126.7L1060.2 144.2L1072 145.7Z" fill="#88cb53"/><path d="M1072 145.7L1060.2 144.2L1050.8 171.2L1062.7 171.8Z" fill="#35c79a"/><path d="M1062.7 171.8L1050.8 171.2L1041.5 207.4L1053.3 206.9Z" fill="#1da8e0"/><path d="M1053.3 206.9L1041.5 207.4L1032.1 239.4L1044 238.2Z" fill="#4464fd"/><path d="M1044 238.2L1032.1 239.4L1022.8 256.4L1034.6 255.5Z" fill="#4536d3"/><path d="M1034.6 255.5L1022.8 256.4L1013.5 262.1L1025.3 262.6Z" fill="#402ab4"/><path d="M1025.3 262.6L1013.5 262.1L1004.1 261L1015.9 263.2Z" fill="#402ab4"/><path d="M1015.9 263.2L1004.1 261L994.8 255L1006.6 258.9Z" fill="#4332c8"/><path d="M1006.6 258.9L994.8 255L985.4 246.2L997.3 251.8Z" fill="#4743e7"/><path d="M997.3 251.8L985.4 246.2L976.1 240.5L987.9 247.3Z" fill="#475dfa"/><path d="M987.9 247.3L976.1 240.5L966.7 237.5L978.6 245.2Z" fill="#3b73fe"/><path d="M1139.9 129L1128.1 125.8L1118.7 125.8L1130.6 128.9Z" fill="#2ac3a9"/><path d="M1130.6 128.9L1118.7 125.8L1109.4 123.6L1121.2 126.5Z" fill="#3bc992"/><path d="M1121.2 126.5L1109.4 123.6L1100 119.5L1111.9 122.3Z" fill="#69cd6a"/><path d="M1111.9 122.3L1100 119.5L1090.7 123.8L1102.5 125.9Z" fill="#9ec943"/><path d="M1102.5 125.9L1090.7 123.8L1081.3 128.9L1093.2 130.4Z" fill="#a6c83d"/><path d="M1093.2 130.4L1081.3 128.9L1072 145.7L1083.8 146.1Z" fill="#95ca49"/><path d="M1083.8 146.1L1072 145.7L1062.7 171.8L1074.5 170.6Z" fill="#3fca8e"/><path d="M1074.5 170.6L1062.7 171.8L1053.3 206.9L1065.2 204Z" fill="#14b0d8"/><path d="M1065.2 204L1053.3 206.9L1044 238.2L1055.8 234.1Z" fill="#3b73fe"/><path d="M1055.8 234.1L1044 238.2L1034.6 255.5L1046.5 251.8Z" fill="#4742e6"/><path d="M1046.5 251.8L1034.6 255.5L1025.3 262.6L1037.1 261.3Z" fill="#4331c7"/><path d="M1037.1 261.3L1025.3 262.6L1015.9 263.2L1027.8 265.2Z" fill="#422ebf"/><path d="M1027.8 265.2L1015.9 263.2L1006.6 258.9L1018.4 264.4Z" fill="#4332ca"/><path d="M1018.4 264.4L1006.6 258.9L997.3 251.8L1009.1 260.6Z" fill="#473ee1"/><path d="M1009.1 260.6L997.3 251.8L987.9 247.3L999.7 258.6Z" fill="#4851f4"/><path d="M999.7 258.6L987.9 247.3L978.6 245.2L990.4 258.2Z" fill="#4561fc"/><path d="M1151.7 132.3L1139.9 129L1130.6 128.9L1142.4 132Z" fill="#2ac3a9"/><path d="M1142.4 132L1130.6 128.9L1121.2 126.5L1133 129.3Z" fill="#3cc991"/><path d="M1133 129.3L1121.2 126.5L1111.9 122.3L1123.7 124.9Z" fill="#6dcd68"/><path d="M1123.7 124.9L1111.9 122.3L1102.5 125.9L1114.4 127.6Z" fill="#a3c83f"/><path d="M1114.4 127.6L1102.5 125.9L1093.2 130.4L1105 131.3Z" fill="#b1c636"/><path d="M1105 131.3L1093.2 130.4L1083.8 146.1L1095.7 145.3Z" fill="#a7c73c"/><path d="M1095.7 145.3L1083.8 146.1L1074.5 170.6L1086.3 167.7Z" fill="#58cc79"/><path d="M1086.3 167.7L1074.5 170.6L1065.2 204L1077 198.5Z" fill="#01b9c6"/><path d="M1077 198.5L1065.2 204L1055.8 234.1L1067.6 226.9Z" fill="#2d87f6"/><path d="M1067.6 226.9L1055.8 234.1L1046.5 251.8L1058.3 245.4Z" fill="#4755f6"/><path d="M1058.3 245.4L1046.5 251.8L1037.1 261.3L1049 258.3Z" fill="#463ee1"/><path d="M1049 258.3L1037.1 261.3L1027.8 265.2L1039.6 266.7Z" fill="#4434d0"/><path d="M1039.6 266.7L1027.8 265.2L1018.4 264.4L1030.3 270.7Z" fill="#4433cc"/><path d="M1030.3 270.7L1018.4 264.4L1009.1 260.6L1020.9 271.6Z" fill="#4538d7"/><path d="M1020.9 271.6L1009.1 260.6L999.7 258.6L1011.6 272.9Z" fill="#4741e5"/><path d="M1011.6 272.9L999.7 258.6L990.4 258.2L1002.2 274.8Z" fill="#484aee"/><path d="M1163.6 135.5L1151.7 132.3L1142.4 132L1154.2 134.9Z" fill="#2ac3a8"/><path d="M1154.2 134.9L1142.4 132L1133 129.3L1144.9 131.9Z" fill="#3eca90"/><path d="M1144.9 131.9L1133 129.3L1123.7 124.9L1135.5 127.4Z" fill="#71cd64"/><path d="M1135.5 127.4L1123.7 124.9L1114.4 127.6L1126.2 128.8Z" fill="#aac73a"/><path d="M1126.2 128.8L1114.4 127.6L1105 131.3L1116.8 131.4Z" fill="#bfc32e"/><path d="M1116.8 131.4L1105 131.3L1095.7 145.3L1107.5 143.3Z" fill="#bec32e"/><path d="M1107.5 143.3L1095.7 145.3L1086.3 167.7L1098.2 162.9Z" fill="#7dcc5b"/><path d="M1098.2 162.9L1086.3 167.7L1077 198.5L1088.8 190.6Z" fill="#27c2ab"/><path d="M1088.8 190.6L1077 198.5L1067.6 226.9L1079.5 216.8Z" fill="#23a0e5"/><path d="M1079.5 216.8L1067.6 226.9L1058.3 245.4L1070.1 236.1Z" fill="#3b73fe"/><path d="M1070.1 236.1L1058.3 245.4L1049 258.3L1060.8 252.8Z" fill="#4855f6"/><path d="M1060.8 252.8L1049 258.3L1039.6 266.7L1051.4 266.2Z" fill="#4740e4"/><path d="M1051.4 266.2L1039.6 266.7L1030.3 270.7L1042.1 275.2Z" fill="#4536d3"/><path d="M1042.1 275.2L1030.3 270.7L1020.9 271.6L1032.8 280.7Z" fill="#4433cd"/><path d="M1032.8 280.7L1020.9 271.6L1011.6 272.9L1023.4 285.5Z" fill="#4434d0"/><path d="M1023.4 285.5L1011.6 272.9L1002.2 274.8L1014.1 289.8Z" fill="#4536d4"/><path d="M1175.4 138.8L1163.6 135.5L1154.2 134.9L1166.1 137.9Z" fill="#2bc3a8"/><path d="M1166.1 137.9L1154.2 134.9L1144.9 131.9L1156.7 134.5Z" fill="#3fca8e"/><path d="M1156.7 134.5L1144.9 131.9L1135.5 127.4L1147.4 129.6Z" fill="#76cc60"/><path d="M1147.4 129.6L1135.5 127.4L1126.2 128.8L1138 129.6Z" fill="#b3c534"/><path d="M1138 129.6L1126.2 128.8L1116.8 131.4L1128.7 130.9Z" fill="#cfc028"/><path d="M1128.7 130.9L1116.8 131.4L1107.5 143.3L1119.3 140.1Z" fill="#d7be28"/><path d="M1119.3 140.1L1107.5 143.3L1098.2 162.9L1110 156.4Z" fill="#aec637"/><path d="M1110 156.4L1098.2 162.9L1088.8 190.6L1100.7 180Z" fill="#4fcc81"/><path d="M1100.7 180L1088.8 190.6L1079.5 216.8L1091.3 203.6Z" fill="#01b8c9"/><path d="M1091.3 203.6L1079.5 216.8L1070.1 236.1L1082 223.7Z" fill="#2797eb"/><path d="M1082 223.7L1070.1 236.1L1060.8 252.8L1072.6 244.2Z" fill="#3975fe"/><path d="M1072.6 244.2L1060.8 252.8L1051.4 266.2L1063.3 262Z" fill="#4755f6"/><path d="M1063.3 262L1051.4 266.2L1042.1 275.2L1053.9 274.6Z" fill="#473fe3"/><path d="M1053.9 274.6L1042.1 275.2L1032.8 280.7L1044.6 283.3Z" fill="#4536d2"/><path d="M1044.6 283.3L1032.8 280.7L1023.4 285.5L1035.2 290.2Z" fill="#4332ca"/><path d="M1035.2 290.2L1023.4 285.5L1014.1 289.8L1025.9 296.1Z" fill="#4331c6"/><path d="M1187.2 142L1175.4 138.8L1166.1 137.9L1177.9 140.7Z" fill="#2bc3a8"/><path d="M1177.9 140.7L1166.1 137.9L1156.7 134.5L1168.5 136.8Z" fill="#42ca8c"/><path d="M1168.5 136.8L1156.7 134.5L1147.4 129.6L1159.2 131.7Z" fill="#7dcc5b"/><path d="M1159.2 131.7L1147.4 129.6L1138 129.6L1149.9 130Z" fill="#bdc32f"/><path d="M1149.9 130L1138 129.6L1128.7 130.9L1140.5 129.6Z" fill="#e0bc2a"/><path d="M1140.5 129.6L1128.7 130.9L1119.3 140.1L1131.2 135.7Z" fill="#f0ba36"/><path d="M1131.2 135.7L1119.3 140.1L1110 156.4L1121.8 147.9Z" fill="#e0bc2a"/><path d="M1121.8 147.9L1110 156.4L1100.7 180L1112.5 166.9Z" fill="#a3c83f"/><path d="M1112.5 166.9L1100.7 180L1091.3 203.6L1103.1 187.2Z" fill="#3fca8e"/><path d="M1103.1 187.2L1091.3 203.6L1082 223.7L1093.8 208.2Z" fill="#01b9c6"/><path d="M1093.8 208.2L1082 223.7L1072.6 244.2L1084.5 232.1Z" fill="#259de7"/><path d="M1084.5 232.1L1072.6 244.2L1063.3 262L1075.1 253.2Z" fill="#3975fe"/><path d="M1075.1 253.2L1063.3 262L1053.9 274.6L1065.8 267.5Z" fill="#4755f6"/><path d="M1065.8 267.5L1053.9 274.6L1044.6 283.3L1056.4 277.1Z" fill="#4745e9"/><path d="M1056.4 277.1L1044.6 283.3L1035.2 290.2L1047.1 284.7Z" fill="#463de0"/><path d="M1047.1 284.7L1035.2 290.2L1025.9 296.1L1037.7 290.9Z" fill="#463ada"/><path d="M1199.1 145.3L1187.2 142L1177.9 140.7L1189.7 143.5Z" fill="#2bc3a7"/><path d="M1189.7 143.5L1177.9 140.7L1168.5 136.8L1180.4 139.1Z" fill="#45cb89"/><path d="M1180.4 139.1L1168.5 136.8L1159.2 131.7L1171 133.5Z" fill="#85cb56"/><path d="M1171 133.5L1159.2 131.7L1149.9 130L1161.7 129.9Z" fill="#c8c129"/><path d="M1161.7 129.9L1149.9 130L1140.5 129.6L1152.3 127.7Z" fill="#f2ba37"/><path d="M1152.3 127.7L1140.5 129.6L1131.2 135.7L1143 130.1Z" fill="#fec438"/><path d="M1143 130.1L1131.2 135.7L1121.8 147.9L1133.7 137.6Z" fill="#fec537"/><path d="M1133.7 137.6L1121.8 147.9L1112.5 166.9L1124.3 151Z" fill="#f5ba3a"/><path d="M1124.3 151L1112.5 166.9L1103.1 187.2L1115 167.5Z" fill="#bfc32d"/><path d="M1115 167.5L1103.1 187.2L1093.8 208.2L1105.6 189.4Z" fill="#64cd6f"/><path d="M1105.6 189.4L1093.8 208.2L1084.5 232.1L1096.3 216.9Z" fill="#13beb9"/><path d="M1096.3 216.9L1084.5 232.1L1075.1 253.2L1086.9 241.3Z" fill="#259ce7"/><path d="M1086.9 241.3L1075.1 253.2L1065.8 267.5L1077.6 256.8Z" fill="#3876fe"/><path d="M1077.6 256.8L1065.8 267.5L1056.4 277.1L1068.3 266.9Z" fill="#4660fc"/><path d="M1068.3 266.9L1056.4 277.1L1047.1 284.7L1058.9 274.6Z" fill="#4757f7"/><path d="M1058.9 274.6L1047.1 284.7L1037.7 290.9L1049.6 280.9Z" fill="#4852f4"/><path d="M1210.9 148.5L1199.1 145.3L1189.7 143.5L1201.6 146.3Z" fill="#2cc4a7"/><path d="M1201.6 146.3L1189.7 143.5L1180.4 139.1L1192.2 141.2Z" fill="#48cb86"/><path d="M1192.2 141.2L1180.4 139.1L1171 133.5L1182.9 135.2Z" fill="#8dcb4f"/><path d="M1182.9 135.2L1171 133.5L1161.7 129.9L1173.5 129.3Z" fill="#d4bf28"/><path d="M1173.5 129.3L1161.7 129.9L1152.3 127.7L1164.2 124.9Z" fill="#fec03b"/><path d="M1164.2 124.9L1152.3 127.7L1143 130.1L1154.8 123.1Z" fill="#f8d92b"/><path d="M1154.8 123.1L1143 130.1L1133.7 137.6L1145.5 125.1Z" fill="#f5e924"/><path d="M1145.5 125.1L1133.7 137.6L1124.3 151L1136.2 131.8Z" fill="#f5eb23"/><path d="M1136.2 131.8L1124.3 151L1115 167.5L1126.8 143.5Z" fill="#f7dd2a"/><path d="M1126.8 143.5L1115 167.5L1105.6 189.4L1117.5 166.4Z" fill="#febe3c"/><path d="M1117.5 166.4L1105.6 189.4L1096.3 216.9L1108.1 199Z" fill="#92ca4b"/><path d="M1108.1 199L1096.3 216.9L1086.9 241.3L1098.8 229Z" fill="#0abdbd"/><path d="M1098.8 229L1086.9 241.3L1077.6 256.8L1089.4 248.6Z" fill="#2798ea"/><path d="M1089.4 248.6L1077.6 256.8L1068.3 266.9L1080.1 261.9Z" fill="#317dfc"/><path d="M1080.1 261.9L1068.3 266.9L1058.9 274.6L1070.7 272.1Z" fill="#406cfe"/><path d="M1070.7 272.1L1058.9 274.6L1049.6 280.9L1061.4 280.1Z" fill="#4562fc"/></g>
<path d="M848.4 257.9L1061.4 316.3L1210.9 234M848.4 257.9L848.4 113M1061.4 316.3L1061.4 171.4M1210.9 234L1210.9 89.1M848.4 113L1061.4 171.4L1210.9 89.1L997.9 30.7Z" fill="none" stroke="#1a1a1a" stroke-width="1.6" stroke-linejoin="round"/>
<path d="M1061.4 316.3L1056.6 319M1210.9 234L1217.2 235.7M993.6 297.7L988.8 300.4M1163.3 260.2L1169.6 261.9M925.8 279.1L921 281.8M1115.7 286.4L1122 288.1M858 260.5L853.2 263.2M1068.1 312.6L1074.4 314.3" stroke="#1a1a1a" stroke-width="1.4" fill="none"/><path d="M848.4 244.7L844.1 243.5M848.4 231.6L844.1 230.4M848.4 218.4L844.1 217.2M848.4 205.2L844.1 204M848.4 192L844.1 190.8M848.4 178.9L844.1 177.7M848.4 165.7L844.1 164.5M848.4 152.5L844.1 151.3M848.4 139.3L844.1 138.2M848.4 126.2L844.1 125" stroke="#9a9a9a" stroke-width="0.8" fill="none"/>
<text x="751.5" y="84.1" font-size="22" textLength="140" lengthAdjust="spacing">Energy density</text>
<text x="839.4" y="141.3" font-size="22" text-anchor="end" letter-spacing="0.75">-0.1864</text>
<text x="838.6" y="190" font-size="22" text-anchor="end" letter-spacing="0.75">-0.1867</text>
<text x="838.6" y="233.2" font-size="22" text-anchor="end" letter-spacing="0.75">-0.1870</text>
<text x="840.1" y="282.2" font-size="22">1.5</text>
<text x="807.2" y="304.6" font-size="22" letter-spacing="0.3">[010]</text>
<text x="870.9" y="307.4" font-size="28" font-style="italic" fill="#3a3a3a">ψ</text>
<text x="905.4" y="299.9" font-size="22">1.0</text>
<text x="974.2" y="318" font-size="22">0.5</text>
<text x="1048" y="335.1" font-size="22">0</text>
<text x="1034.8" y="358.7" font-size="22" letter-spacing="0.3">[100]</text>
<text x="1076.6" y="329.7" font-size="22">1.5</text>
<text x="1124.6" y="305.9" font-size="22">1.0</text>
<text x="1172.8" y="276.3" font-size="22">0.5</text>
<text x="1221.6" y="246.4" font-size="22">0</text>
<text x="1211" y="270.5" font-size="22" letter-spacing="0.3">[001]</text>
<text x="1173.9" y="304.9" font-size="30" font-style="italic" fill="#3a3a3a">α</text>
<text x="897" y="329.2" font-size="22" fill="#cb1226" letter-spacing="0.3">[110]</text>
<text x="953.1" y="317.8" font-size="21" font-weight="bold" fill="#cb1226">h</text>
<path d="M958.2 287L933.2 305.1M944.2 304.5L933.2 305.1L937.2 294.8" fill="none" stroke="#cb1226" stroke-width="3.2" stroke-linecap="round" stroke-linejoin="miter"/>
<text x="831.4" y="363.5" font-size="29.5"><tspan font-style="italic">h</tspan> = 0.065</text>
<text x="782" y="32.5" font-size="40.5" font-weight="bold" font-family="Liberation Sans, sans-serif" fill="#000">E</text>
<circle cx="890.5" cy="256" r="5.3" fill="#0d9be8" stroke="#1b35b0" stroke-width="1.4"/>
<circle cx="1007.4" cy="256.5" r="5.3" fill="#0d9be8" stroke="#1b35b0" stroke-width="1.4"/>
<circle cx="1027.6" cy="294.6" r="5.3" fill="#0d9be8" stroke="#1b35b0" stroke-width="1.4"/>
<circle cx="1211.3" cy="148.5" r="5.3" fill="#0d9be8" stroke="#1b35b0" stroke-width="1.4"/>
<text x="883.4" y="224.6" font-size="23" font-weight="bold" fill="#ffffff">Q<tspan font-size="17" font-weight="normal" dx="0.5" dy="9.2">2</tspan></text>
<text x="988.2" y="228.8" font-size="23" font-weight="bold" fill="#ffffff">Q<tspan font-size="17" font-weight="normal" dx="0.5" dy="9.2">5</tspan></text>
<text x="1021" y="274.8" font-size="23" font-weight="bold" fill="#ffffff">Q<tspan font-size="17" font-weight="normal" dx="0.5" dy="9.2">1</tspan></text>
<text x="1217" y="132.5" font-size="23" font-weight="bold" fill="#111">Q<tspan font-size="17" font-weight="normal" dx="0.5" dy="9.2">3</tspan></text></g>
<g id="pF"><path d="M858.9 614.8L1008.4 532.5M855.8 607.8L1068.8 666.2M855.8 607.8L855.8 462.9M1008.4 532.5L1008.4 387.6M869.6 617.7L1019.1 535.4M863.2 603.7L1076.2 662.1M863.2 603.7L863.2 458.8M1019.1 535.4L1019.1 390.5M880.2 620.7L1029.8 538.4M870.7 599.6L1083.7 658M870.7 599.6L870.7 454.7M1029.8 538.4L1029.8 393.5M890.9 623.6L1040.4 541.3M878.2 595.4L1091.2 653.8M878.2 595.4L878.2 450.5M1040.4 541.3L1040.4 396.4M901.5 626.5L1051 544.2M885.7 591.3L1098.7 649.7M885.7 591.3L885.7 446.4M1051 544.2L1051 399.3M912.2 629.4L1061.7 547.1M893.1 587.2L1106.1 645.6M893.1 587.2L893.1 442.3M1061.7 547.1L1061.7 402.2M922.8 632.3L1072.3 550M900.6 583.1L1113.6 641.5M900.6 583.1L900.6 438.2M1072.3 550L1072.3 405.1M933.5 635.3L1083 553M908.1 579L1121.1 637.4M908.1 579L908.1 434.1M1083 553L1083 408.1M944.1 638.2L1093.6 555.9M915.6 574.9L1128.6 633.3M915.6 574.9L915.6 430M1093.6 555.9L1093.6 411M954.8 641.1L1104.3 558.8M923 570.8L1136 629.1M923 570.8L923 425.9M1104.3 558.8L1104.3 413.9M965.4 644L1115 561.7M930.5 566.6L1143.5 625M930.5 566.6L930.5 421.7M1115 561.7L1115 416.8M976.1 646.9L1125.6 564.6M938 562.5L1151 620.9M938 562.5L938 417.6M1125.6 564.6L1125.6 419.7M986.8 649.9L1136.2 567.6M945.5 558.4L1158.5 616.8M945.5 558.4L945.5 413.5M1136.2 567.6L1136.2 422.7M997.4 652.8L1146.9 570.5M952.9 554.3L1166 612.7M952.9 554.3L952.9 409.4M1146.9 570.5L1146.9 425.6M1008 655.7L1157.5 573.4M960.4 550.2L1173.4 608.6M960.4 550.2L960.4 405.3M1157.5 573.4L1157.5 428.5M1018.7 658.6L1168.2 576.3M967.9 546.1L1180.9 604.5M967.9 546.1L967.9 401.2M1168.2 576.3L1168.2 431.4M1029.3 661.5L1178.8 579.2M975.4 541.9L1188.4 600.3M975.4 541.9L975.4 397M1178.8 579.2L1178.8 434.3M1040 664.5L1189.5 582.2M982.8 537.8L1195.8 596.2M982.8 537.8L982.8 392.9M1189.5 582.2L1189.5 437.3M1050.6 667.4L1200.1 585.1M990.3 533.7L1203.3 592.1M990.3 533.7L990.3 388.8M1200.1 585.1L1200.1 440.2M848.3 606.7L997.8 524.4L1210.8 582.8M848.3 601.5L997.8 519.2L1210.8 577.6M848.3 596.4L997.8 514.1L1210.8 572.5M848.3 591.2L997.8 508.9L1210.8 567.3M848.3 586L997.8 503.7L1210.8 562.1M848.3 580.9L997.8 498.6L1210.8 557M848.3 575.7L997.8 493.4L1210.8 551.8M848.3 570.5L997.8 488.2L1210.8 546.6M848.3 565.3L997.8 483L1210.8 541.4M848.3 560.1L997.8 477.9L1210.8 536.2M848.3 555L997.8 472.7L1210.8 531.1M848.3 549.8L997.8 467.5L1210.8 525.9M848.3 544.6L997.8 462.3L1210.8 520.7M848.3 539.4L997.8 457.2L1210.8 515.5M848.3 534.3L997.8 452L1210.8 510.4M848.3 529.1L997.8 446.8L1210.8 505.2M848.3 523.9L997.8 441.6L1210.8 500M848.3 518.8L997.8 436.5L1210.8 494.9M848.3 513.6L997.8 431.3L1210.8 489.7M848.3 508.4L997.8 426.1L1210.8 484.5M848.3 503.2L997.8 420.9L1210.8 479.3M848.3 498L997.8 415.8L1210.8 474.1M848.3 492.9L997.8 410.6L1210.8 469M848.3 487.7L997.8 405.4L1210.8 463.8M848.3 482.5L997.8 400.2L1210.8 458.6M848.3 477.3L997.8 395.1L1210.8 453.4M848.3 472.2L997.8 389.9L1210.8 448.3" fill="none" stroke="#e9e9e9" stroke-width="0.5"/>
<path d="M848.3 611.9L997.8 529.6L1210.8 588M997.8 529.6L997.8 384.7" fill="none" stroke="#1a1a1a" stroke-width="1.6"/>
<path d="M1039.4 625.8L1038.4 624.3L1032.4 617.9L1027.9 614.9L1023.6 613L1012.4 609.4L999.9 606.5L993.8 605.6L985 604.9L967.4 604.9L963.7 605L950.3 609L952.4 613.1L959.9 618.8L963.4 620.3L970 622.9L981.4 626.4L993.7 629.4L1002.3 631L1007.3 631.7L1023.4 632.6L1034.1 632L1039.4 625.8" fill="none" stroke="#463cde" stroke-width="1.2" stroke-opacity="0.9"/>
<path d="M1015.9 657.8L1016.1 656.2L1007.2 651.3L996.8 652.6M912.8 629.6L912.5 625.3L897.7 623.7L893.7 624.4M1061.1 631.7L1061 631.4L1057.3 623.7L1056.8 622.8L1050.4 617.7L1041.8 612.7L1031.9 608.4L1029.8 607.7L1020.6 604.9L1010.6 602.5L1008.3 601.9L994.5 599.7L979.4 598.3L964.9 597.6L962.7 597.7L942.6 599L942 599.1L927.3 602.7L922.3 609.1L921.9 610.4L925.9 617.8L925.6 618.1L932.3 624.2L944.5 627.3L956.5 630.4L968.3 633.7L980.2 636.9L991.8 640.2L1003.3 643.7L1020.3 644.1L1021 643.8L1040.2 642.9L1043.4 642.3L1057 638.3L1061.1 631.7" fill="none" stroke="#4563fd" stroke-width="1.2" stroke-opacity="0.9"/>
<path d="M1040.7 664.7L1047.4 658.8L1049.4 657.4L1054.8 653.1L1065.4 648.3L1073.6 642.9L1076.2 635.9L1075.4 633.3L1073.2 627.3L1072 625.4L1066.1 618.9L1063.8 617.1L1058.1 613.5L1048.5 609L1037.9 605.1L1026.5 601.6L1014.3 598.6L1001.2 596.1L987.1 594.1L976.6 593.1L971.4 592.9L953.7 592.9L948.5 593.1L933.4 594.3L926.8 594.9L910.7 598.2L900.3 603L892.1 608.5L883.7 611.9L880.9 613.1L868.9 617.5" fill="none" stroke="#2d8cf3" stroke-width="1.2" stroke-opacity="0.9"/>
<path d="M1061.1 670.2L1068.7 664.6L1075.4 658.8L1081.5 652.7L1086.9 646.5L1087 646.4L1088.8 639.3L1087.8 636.2L1086 630.9L1085 628L1081.2 621.8L1080.3 620.8L1073.1 615L1064.4 610L1061.5 608.7L1054.5 605.7L1043.7 601.9L1032.2 598.5L1020 595.4L1007.2 592.8L997.6 591.2L993.4 590.6L978.5 589L962 588.3L959.2 588.4L943 589L935.7 589.6L922.1 590.8L914.3 591.5L897.6 594.5L897.4 594.5L884.1 598.6L871.6 602.9L859.6 607.3L848.5 612" fill="none" stroke="#18aedb" stroke-width="1.2" stroke-opacity="0.9"/>
<path d="M1097 650.6L1097.7 649.4L1099.4 642.2L1098.8 639.9L1096.9 633.8L1096.6 631.4L1094.4 625.4L1093.4 623.3L1087.6 616.8L1085.6 615.3L1079.7 611.4L1070.4 606.7L1060.2 602.6L1049.2 598.9L1037.7 595.5L1025.5 592.4L1012.8 589.6L999.4 587.3L985 585.4L973.5 584.6L969.3 584.3L951.4 584.4L946 584.8L930.9 585.9L924.8 586.6L909.4 588L903.7 588.6L886.7 591.6L884 592.2" fill="none" stroke="#24c1ae" stroke-width="1.2" stroke-opacity="0.9"/>
<path d="M1108.5 644.3L1106.5 636.4L1106.5 635.6L1105.5 628.5L1105.4 626.5L1102.1 619.9L1101.5 618.9L1094.8 612.8L1086.1 607.8L1085.7 607.6L1076.7 603.2L1066.4 599.2L1055.4 595.5L1043.8 592.1L1031.7 589L1019.1 586.2L1005.7 583.8L992.1 582L991.5 581.9L976.4 580.4L959.5 579.9L957 580L939.7 581.1L934.9 581.7L917.2 583.7L915.3 584L895.5 585.9" fill="none" stroke="#64cd6f" stroke-width="1.2" stroke-opacity="0.9"/>
<path d="M1115.1 640.7L1114.6 638.7L1115.3 631.2L1115.5 630.7L1115.3 623.5L1115 621.2L1109.9 614.3L1109.8 614.2L1103 608.3L1094 603.5L1084.7 599.7L1084 599.3L1074 595L1063.1 591.2L1051.6 587.8L1039.4 584.8L1026.6 582L1013 579.8L1011.8 579.7L999.3 577.5L984.7 575.8L968 575.4L967.9 575.4L949.3 575.8L943.8 576.4L926.2 578.8L925.1 579L907.1 581.8L902.1 582.3M991.3 533.2L1003.4 536.3L1015.4 539.4L1027.3 542.6L1039.3 545.8L1051.2 549L1063.1 552.2L1075 555.4L1086.8 558.7L1098.7 561.9L1110.5 565.1L1122.3 568.4L1134.1 571.7L1145.9 574.9L1157.6 578.2L1169.3 581.5L1181 584.9L1192.7 588.2L1204.3 591.6" fill="none" stroke="#c6c22a" stroke-width="1.2" stroke-opacity="0.9"/>
<path d="M1123.4 636.1L1123.7 633.5L1126.6 626.5L1127.7 624L1127.2 619L1127.5 614.4L1124.6 610.6L1123.7 606.7L1116.9 600.8L1116.9 600.7L1111.8 593.7L1102.8 589.2L1116.5 591.1L1130.6 593.1L1144.5 595.2L1158 597.6L1168.2 599.4L1171.2 600L1184.1 602.7M971.1 544.3L981.9 548.1L984.3 549L992.3 552.1L1002.5 556.3L1012.3 560.7L1021.9 565.1L1031.1 569.5L1017.1 567.8L998.6 568.2L998.3 568.3L981.7 567.8L971.9 568.7L961.8 568.9L950.6 570.6L938.3 572.1L932.5 573.4L916.7 576.7L910.4 577.7" fill="none" stroke="#fec438" stroke-width="1.2" stroke-opacity="0.9"/>
<path d="M1137.4 628.4L1141.6 623L1149.7 617.5L1162.2 613.2L1165.3 613.1M952.3 554.7L952.9 555.8L946.8 561.8L936.2 566.6L924.4 570" fill="none" stroke="#f6ef20" stroke-width="1.2" stroke-opacity="0.9"/>
<g fill-opacity="0.70" stroke="#151515" stroke-opacity="0.95" stroke-width="1.20" stroke-linejoin="round"><path d="M1009.6 427.1L997.8 423.8L988.5 425L1000.3 428.1Z" fill="#96ca48"/><path d="M1000.3 428.1L988.5 425L979.1 423.4L990.9 426.9Z" fill="#b7c532"/><path d="M990.9 426.9L979.1 423.4L969.8 419.2L981.6 423.6Z" fill="#e0bc2a"/><path d="M981.6 423.6L969.8 419.2L960.4 415.4L972.3 421.1Z" fill="#fec239"/><path d="M972.3 421.1L960.4 415.4L951.1 414.1L962.9 422.5Z" fill="#f8d82c"/><path d="M962.9 422.5L951.1 414.1L941.7 416.4L953.6 428.2Z" fill="#f5e427"/><path d="M953.6 428.2L941.7 416.4L932.4 420.7L944.2 437.9Z" fill="#f5e227"/><path d="M944.2 437.9L932.4 420.7L923 431.1L934.9 453.3Z" fill="#fbd32e"/><path d="M934.9 453.3L923 431.1L913.7 445.7L925.5 471.5Z" fill="#f4ba39"/><path d="M925.5 471.5L913.7 445.7L904.4 467.1L916.2 493.5Z" fill="#a7c73c"/><path d="M916.2 493.5L904.4 467.1L895 494.7L906.9 518.2Z" fill="#37c897"/><path d="M906.9 518.2L895 494.7L885.7 513.2L897.5 534Z" fill="#0db3d3"/><path d="M897.5 534L885.7 513.2L876.3 526.7L888.2 543.7Z" fill="#23a0e5"/><path d="M888.2 543.7L876.3 526.7L867 537L878.8 550.4Z" fill="#2896eb"/><path d="M878.8 550.4L867 537L857.6 544.7L869.5 556.5Z" fill="#2b92ef"/><path d="M869.5 556.5L857.6 544.7L848.3 551L860.1 562.8Z" fill="#2c8ff1"/><path d="M1021.5 430.3L1009.6 427.1L1000.3 428.1L1012.1 431.2Z" fill="#97ca48"/><path d="M1012.1 431.2L1000.3 428.1L990.9 426.9L1002.8 430.5Z" fill="#b7c532"/><path d="M1002.8 430.5L990.9 426.9L981.6 423.6L993.4 427.8Z" fill="#ddbd29"/><path d="M993.4 427.8L981.6 423.6L972.3 421.1L984.1 426.5Z" fill="#febe3c"/><path d="M984.1 426.5L972.3 421.1L962.9 422.5L974.7 430.2Z" fill="#fccf30"/><path d="M974.7 430.2L962.9 422.5L953.6 428.2L965.4 439Z" fill="#fbd22f"/><path d="M965.4 439L953.6 428.2L944.2 437.9L956.1 453.2Z" fill="#fec537"/><path d="M956.1 453.2L944.2 437.9L934.9 453.3L946.7 472.7Z" fill="#e2bc2b"/><path d="M946.7 472.7L934.9 453.3L925.5 471.5L937.4 493.8Z" fill="#89cb52"/><path d="M937.4 493.8L925.5 471.5L916.2 493.5L928 516.2Z" fill="#31c6a0"/><path d="M928 516.2L916.2 493.5L906.9 518.2L918.7 538.2Z" fill="#13b0d7"/><path d="M918.7 538.2L906.9 518.2L897.5 534L909.3 551.6Z" fill="#2b91ef"/><path d="M909.3 551.6L897.5 534L888.2 543.7L900 558Z" fill="#2f80fa"/><path d="M900 558L888.2 543.7L878.8 550.4L890.7 562.4Z" fill="#317dfc"/><path d="M890.7 562.4L878.8 550.4L869.5 556.5L881.3 568.8Z" fill="#317dfc"/><path d="M881.3 568.8L869.5 556.5L860.1 562.8L872 576.3Z" fill="#3479fd"/><path d="M1033.3 433.6L1021.5 430.3L1012.1 431.2L1024 434.4Z" fill="#97ca48"/><path d="M1024 434.4L1012.1 431.2L1002.8 430.5L1014.6 434Z" fill="#b7c532"/><path d="M1014.6 434L1002.8 430.5L993.4 427.8L1005.3 431.9Z" fill="#dbbd29"/><path d="M1005.3 431.9L993.4 427.8L984.1 426.5L995.9 431.6Z" fill="#fbbc3d"/><path d="M995.9 431.6L984.1 426.5L974.7 430.2L986.6 437.3Z" fill="#fec735"/><path d="M986.6 437.3L974.7 430.2L965.4 439L977.2 448.7Z" fill="#fec338"/><path d="M977.2 448.7L965.4 439L956.1 453.2L967.9 466.8Z" fill="#e9bb30"/><path d="M967.9 466.8L956.1 453.2L946.7 472.7L958.5 489.8Z" fill="#99c946"/><path d="M958.5 489.8L946.7 472.7L937.4 493.8L949.2 513.4Z" fill="#33c69d"/><path d="M949.2 513.4L937.4 493.8L928 516.2L939.9 535.9Z" fill="#12b1d7"/><path d="M939.9 535.9L928 516.2L918.7 538.2L930.5 555.7Z" fill="#2c8ef1"/><path d="M930.5 555.7L918.7 538.2L909.3 551.6L921.2 567Z" fill="#3f6eff"/><path d="M921.2 567L909.3 551.6L900 558L911.8 570.6Z" fill="#4563fc"/><path d="M911.8 570.6L900 558L890.7 562.4L902.5 573.1Z" fill="#4466fd"/><path d="M902.5 573.1L890.7 562.4L881.3 568.8L893.1 579.9Z" fill="#4369fe"/><path d="M893.1 579.9L881.3 568.8L872 576.3L883.8 588.6Z" fill="#4464fd"/><path d="M1045.1 436.8L1033.3 433.6L1024 434.4L1035.8 437.5Z" fill="#97ca48"/><path d="M1035.8 437.5L1024 434.4L1014.6 434L1026.4 437.4Z" fill="#b7c532"/><path d="M1026.4 437.4L1014.6 434L1005.3 431.9L1017.1 435.9Z" fill="#d9bd28"/><path d="M1017.1 435.9L1005.3 431.9L995.9 431.6L1007.8 436.4Z" fill="#f7ba3d"/><path d="M1007.8 436.4L995.9 431.6L986.6 437.3L998.4 443.9Z" fill="#fec13a"/><path d="M998.4 443.9L986.6 437.3L977.2 448.7L989.1 457.3Z" fill="#f7ba3c"/><path d="M989.1 457.3L977.2 448.7L967.9 466.8L979.7 478.7Z" fill="#c6c22a"/><path d="M979.7 478.7L967.9 466.8L958.5 489.8L970.4 504.6Z" fill="#55cc7c"/><path d="M970.4 504.6L958.5 489.8L949.2 513.4L961 530.3Z" fill="#01b8c8"/><path d="M961 530.3L949.2 513.4L939.9 535.9L951.7 553Z" fill="#2994ed"/><path d="M951.7 553L939.9 535.9L930.5 555.7L942.4 570.8Z" fill="#406cfe"/><path d="M942.4 570.8L930.5 555.7L921.2 567L933 580.4Z" fill="#4853f5"/><path d="M933 580.4L921.2 567L911.8 570.6L923.7 581.5Z" fill="#484df0"/><path d="M923.7 581.5L911.8 570.6L902.5 573.1L914.3 582.1Z" fill="#4854f6"/><path d="M914.3 582.1L902.5 573.1L893.1 579.9L905 588.2Z" fill="#475bf9"/><path d="M905 588.2L893.1 579.9L883.8 588.6L895.6 596.9Z" fill="#4757f7"/><path d="M1057 440L1045.1 436.8L1035.8 437.5L1047.6 440.7Z" fill="#97ca48"/><path d="M1047.6 440.7L1035.8 437.5L1026.4 437.4L1038.3 440.8Z" fill="#b7c532"/><path d="M1038.3 440.8L1026.4 437.4L1017.1 435.9L1028.9 439.8Z" fill="#d8be28"/><path d="M1028.9 439.8L1017.1 435.9L1007.8 436.4L1019.6 441Z" fill="#f4ba39"/><path d="M1019.6 441L1007.8 436.4L998.4 443.9L1010.2 449.8Z" fill="#fcbc3d"/><path d="M1010.2 449.8L998.4 443.9L989.1 457.3L1000.9 465Z" fill="#e8bb2f"/><path d="M1000.9 465L989.1 457.3L979.7 478.7L991.6 489Z" fill="#a2c840"/><path d="M991.6 489L979.7 478.7L970.4 504.6L982.2 517.4Z" fill="#31c6a0"/><path d="M982.2 517.4L970.4 504.6L961 530.3L972.9 544.7Z" fill="#1ea7e1"/><path d="M972.9 544.7L961 530.3L951.7 553L963.5 567.5Z" fill="#3678fd"/><path d="M963.5 567.5L951.7 553L942.4 570.8L954.2 583.6Z" fill="#4852f4"/><path d="M954.2 583.6L942.4 570.8L933 580.4L944.8 591.8Z" fill="#473fe2"/><path d="M944.8 591.8L933 580.4L923.7 581.5L935.5 591Z" fill="#463cdf"/><path d="M935.5 591L923.7 581.5L914.3 582.1L926.2 589.1Z" fill="#4848ec"/><path d="M926.2 589.1L914.3 582.1L905 588.2L916.8 593.2Z" fill="#4852f4"/><path d="M916.8 593.2L905 588.2L895.6 596.9L907.5 600.6Z" fill="#4852f4"/><path d="M1068.8 443.3L1057 440L1047.6 440.7L1059.5 443.9Z" fill="#97ca47"/><path d="M1059.5 443.9L1047.6 440.7L1038.3 440.8L1050.1 444.2Z" fill="#b7c532"/><path d="M1050.1 444.2L1038.3 440.8L1028.9 439.8L1040.8 443.5Z" fill="#d6be28"/><path d="M1040.8 443.5L1028.9 439.8L1019.6 441L1031.4 445.2Z" fill="#f1ba37"/><path d="M1031.4 445.2L1019.6 441L1010.2 449.8L1022.1 455.1Z" fill="#f8ba3d"/><path d="M1022.1 455.1L1010.2 449.8L1000.9 465L1012.7 471.7Z" fill="#dbbd29"/><path d="M1012.7 471.7L1000.9 465L991.6 489L1003.4 497.7Z" fill="#83cc57"/><path d="M1003.4 497.7L991.6 489L982.2 517.4L994 527.9Z" fill="#17bfb7"/><path d="M994 527.9L982.2 517.4L972.9 544.7L984.7 556.5Z" fill="#2896ec"/><path d="M984.7 556.5L972.9 544.7L963.5 567.5L975.4 579.4Z" fill="#4561fc"/><path d="M975.4 579.4L963.5 567.5L954.2 583.6L966 594.3Z" fill="#473fe3"/><path d="M966 594.3L954.2 583.6L944.8 591.8L956.7 601.4Z" fill="#4332ca"/><path d="M956.7 601.4L944.8 591.8L935.5 591L947.3 599Z" fill="#4332cb"/><path d="M947.3 599L935.5 591L926.2 589.1L938 594.7Z" fill="#473fe2"/><path d="M938 594.7L926.2 589.1L916.8 593.2L928.6 595.9Z" fill="#484ef1"/><path d="M928.6 595.9L916.8 593.2L907.5 600.6L919.3 601.1Z" fill="#4853f5"/><path d="M1080.6 446.5L1068.8 443.3L1059.5 443.9L1071.3 447.1Z" fill="#97ca47"/><path d="M1071.3 447.1L1059.5 443.9L1050.1 444.2L1061.9 447.5Z" fill="#b7c532"/><path d="M1061.9 447.5L1050.1 444.2L1040.8 443.5L1052.6 447.1Z" fill="#d5be28"/><path d="M1052.6 447.1L1040.8 443.5L1031.4 445.2L1043.3 449.2Z" fill="#efba35"/><path d="M1043.3 449.2L1031.4 445.2L1022.1 455.1L1033.9 459.8Z" fill="#f3ba39"/><path d="M1033.9 459.8L1022.1 455.1L1012.7 471.7L1024.6 477.4Z" fill="#d0bf27"/><path d="M1024.6 477.4L1012.7 471.7L1003.4 497.7L1015.2 504.9Z" fill="#6dcd68"/><path d="M1015.2 504.9L1003.4 497.7L994 527.9L1005.9 536.4Z" fill="#01b9c6"/><path d="M1005.9 536.4L994 527.9L984.7 556.5L996.5 565.9Z" fill="#2d88f6"/><path d="M996.5 565.9L984.7 556.5L975.4 579.4L987.2 588.8Z" fill="#4852f4"/><path d="M987.2 588.8L975.4 579.4L966 594.3L977.9 602.8Z" fill="#4434d0"/><path d="M977.9 602.8L966 594.3L956.7 601.4L968.5 609.1Z" fill="#402bb8"/><path d="M968.5 609.1L956.7 601.4L947.3 599L959.2 605.6Z" fill="#412dbb"/><path d="M959.2 605.6L947.3 599L938 594.7L949.8 599.2Z" fill="#4539d9"/><path d="M949.8 599.2L938 594.7L928.6 595.9L940.5 597.9Z" fill="#484cef"/><path d="M940.5 597.9L928.6 595.9L919.3 601.1L931.1 601Z" fill="#4756f7"/><path d="M1092.5 449.8L1080.6 446.5L1071.3 447.1L1083.1 450.4Z" fill="#97ca47"/><path d="M1083.1 450.4L1071.3 447.1L1061.9 447.5L1073.8 450.8Z" fill="#b7c532"/><path d="M1073.8 450.8L1061.9 447.5L1052.6 447.1L1064.4 450.5Z" fill="#d5be28"/><path d="M1064.4 450.5L1052.6 447.1L1043.3 449.2L1055.1 452.8Z" fill="#edba34"/><path d="M1055.1 452.8L1043.3 449.2L1033.9 459.8L1045.7 463.9Z" fill="#f1ba37"/><path d="M1045.7 463.9L1033.9 459.8L1024.6 477.4L1036.4 482.1Z" fill="#c9c129"/><path d="M1036.4 482.1L1024.6 477.4L1015.2 504.9L1027.1 510.5Z" fill="#5fcd73"/><path d="M1027.1 510.5L1015.2 504.9L1005.9 536.4L1017.7 542.8Z" fill="#06b5ce"/><path d="M1017.7 542.8L1005.9 536.4L996.5 565.9L1008.4 572.8Z" fill="#307ffb"/><path d="M1008.4 572.8L996.5 565.9L987.2 588.8L999 595.8Z" fill="#4849ed"/><path d="M999 595.8L987.2 588.8L977.9 602.8L989.7 609.2Z" fill="#422fc1"/><path d="M989.7 609.2L977.9 602.8L968.5 609.1L980.3 615Z" fill="#3f28ad"/><path d="M980.3 615L968.5 609.1L959.2 605.6L971 610.9Z" fill="#3f29b2"/><path d="M971 610.9L959.2 605.6L949.8 599.2L961.7 603.2Z" fill="#4536d3"/><path d="M961.7 603.2L949.8 599.2L940.5 597.9L952.3 600.3Z" fill="#484bef"/><path d="M952.3 600.3L940.5 597.9L931.1 601L943 602.1Z" fill="#4759f8"/><path d="M1104.3 453L1092.5 449.8L1083.1 450.4L1095 453.6Z" fill="#97ca47"/><path d="M1095 453.6L1083.1 450.4L1073.8 450.8L1085.6 454.1Z" fill="#b7c532"/><path d="M1085.6 454.1L1073.8 450.8L1064.4 450.5L1076.3 453.8Z" fill="#d4bf28"/><path d="M1076.3 453.8L1064.4 450.5L1055.1 452.8L1066.9 456.2Z" fill="#edba33"/><path d="M1066.9 456.2L1055.1 452.8L1045.7 463.9L1057.6 467.5Z" fill="#efba35"/><path d="M1057.6 467.5L1045.7 463.9L1036.4 482.1L1048.2 485.8Z" fill="#c6c22a"/><path d="M1048.2 485.8L1036.4 482.1L1027.1 510.5L1038.9 514.5Z" fill="#5acc77"/><path d="M1038.9 514.5L1027.1 510.5L1017.7 542.8L1029.5 547.1Z" fill="#0bb3d2"/><path d="M1029.5 547.1L1017.7 542.8L1008.4 572.8L1020.2 577.3Z" fill="#337bfc"/><path d="M1020.2 577.3L1008.4 572.8L999 595.8L1010.9 600.3Z" fill="#4745ea"/><path d="M1010.9 600.3L999 595.8L989.7 609.2L1001.5 613.5Z" fill="#412dbc"/><path d="M1001.5 613.5L989.7 609.2L980.3 615L992.2 619.2Z" fill="#3e27a9"/><path d="M992.2 619.2L980.3 615L971 610.9L982.8 614.8Z" fill="#3f28ae"/><path d="M982.8 614.8L971 610.9L961.7 603.2L973.5 606.8Z" fill="#4435d0"/><path d="M973.5 606.8L961.7 603.2L952.3 600.3L964.1 603.4Z" fill="#484bee"/><path d="M964.1 603.4L952.3 600.3L943 602.1L954.8 604.9Z" fill="#475af9"/><path d="M1116.1 456.3L1104.3 453L1095 453.6L1106.8 456.8Z" fill="#97ca47"/><path d="M1106.8 456.8L1095 453.6L1085.6 454.1L1097.4 457.3Z" fill="#b7c532"/><path d="M1097.4 457.3L1085.6 454.1L1076.3 453.8L1088.1 457Z" fill="#d4bf28"/><path d="M1088.1 457L1076.3 453.8L1066.9 456.2L1078.8 459.3Z" fill="#edba33"/><path d="M1078.8 459.3L1066.9 456.2L1057.6 467.5L1069.4 470.4Z" fill="#f0ba36"/><path d="M1069.4 470.4L1057.6 467.5L1048.2 485.8L1060.1 488.6Z" fill="#c6c22a"/><path d="M1060.1 488.6L1048.2 485.8L1038.9 514.5L1050.7 517Z" fill="#5ccc76"/><path d="M1050.7 517L1038.9 514.5L1029.5 547.1L1041.4 549.3Z" fill="#09b4d1"/><path d="M1041.4 549.3L1029.5 547.1L1020.2 577.3L1032 579.3Z" fill="#327cfc"/><path d="M1032 579.3L1020.2 577.3L1010.9 600.3L1022.7 602.3Z" fill="#4747eb"/><path d="M1022.7 602.3L1010.9 600.3L1001.5 613.5L1013.4 615.7Z" fill="#412ebe"/><path d="M1013.4 615.7L1001.5 613.5L992.2 619.2L1004 621.5Z" fill="#3e27ab"/><path d="M1004 621.5L992.2 619.2L982.8 614.8L994.7 617.4Z" fill="#3f29b0"/><path d="M994.7 617.4L982.8 614.8L973.5 606.8L985.3 609.7Z" fill="#4435d1"/><path d="M985.3 609.7L973.5 606.8L964.1 603.4L976 606.8Z" fill="#484bef"/><path d="M976 606.8L964.1 603.4L954.8 604.9L966.6 608.6Z" fill="#475af9"/><path d="M1128 459.5L1116.1 456.3L1106.8 456.8L1118.6 460.1Z" fill="#97ca47"/><path d="M1118.6 460.1L1106.8 456.8L1097.4 457.3L1109.3 460.5Z" fill="#b7c532"/><path d="M1109.3 460.5L1097.4 457.3L1088.1 457L1099.9 460Z" fill="#d5be28"/><path d="M1099.9 460L1088.1 457L1078.8 459.3L1090.6 462.1Z" fill="#eeba34"/><path d="M1090.6 462.1L1078.8 459.3L1069.4 470.4L1081.2 472.8Z" fill="#f2ba37"/><path d="M1081.2 472.8L1069.4 470.4L1060.1 488.6L1071.9 490.4Z" fill="#cbc029"/><path d="M1071.9 490.4L1060.1 488.6L1050.7 517L1062.6 517.9Z" fill="#64cd6f"/><path d="M1062.6 517.9L1050.7 517L1041.4 549.3L1053.2 549.4Z" fill="#02b7cb"/><path d="M1053.2 549.4L1041.4 549.3L1032 579.3L1043.9 578.9Z" fill="#2e83f9"/><path d="M1043.9 578.9L1032 579.3L1022.7 602.3L1034.5 601.8Z" fill="#484df0"/><path d="M1034.5 601.8L1022.7 602.3L1013.4 615.7L1025.2 615.8Z" fill="#4331c8"/><path d="M1025.2 615.8L1013.4 615.7L1004 621.5L1015.8 622.1Z" fill="#3f29b2"/><path d="M1015.8 622.1L1004 621.5L994.7 617.4L1006.5 618.6Z" fill="#402bb6"/><path d="M1006.5 618.6L994.7 617.4L985.3 609.7L997.2 612.2Z" fill="#4537d6"/><path d="M997.2 612.2L985.3 609.7L976 606.8L987.8 610.9Z" fill="#484cef"/><path d="M987.8 610.9L976 606.8L966.6 608.6L978.5 614Z" fill="#4758f8"/><path d="M1139.8 462.8L1128 459.5L1118.6 460.1L1130.5 463.4Z" fill="#97ca47"/><path d="M1130.5 463.4L1118.6 460.1L1109.3 460.5L1121.1 463.7Z" fill="#b7c532"/><path d="M1121.1 463.7L1109.3 460.5L1099.9 460L1111.8 462.9Z" fill="#d6be28"/><path d="M1111.8 462.9L1099.9 460L1090.6 462.1L1102.4 464.7Z" fill="#f0ba36"/><path d="M1102.4 464.7L1090.6 462.1L1081.2 472.8L1093.1 474.6Z" fill="#f5ba3a"/><path d="M1093.1 474.6L1081.2 472.8L1071.9 490.4L1083.7 491.1Z" fill="#d4bf28"/><path d="M1083.7 491.1L1071.9 490.4L1062.6 517.9L1074.4 517.2Z" fill="#75cc61"/><path d="M1074.4 517.2L1062.6 517.9L1053.2 549.4L1065 547.4Z" fill="#07bcbf"/><path d="M1065 547.4L1053.2 549.4L1043.9 578.9L1055.7 576Z" fill="#2c8ef1"/><path d="M1055.7 576L1043.9 578.9L1034.5 601.8L1046.4 598.9Z" fill="#4759f8"/><path d="M1046.4 598.9L1034.5 601.8L1025.2 615.8L1037 613.8Z" fill="#4639da"/><path d="M1037 613.8L1025.2 615.8L1015.8 622.1L1027.7 620.8Z" fill="#422fc0"/><path d="M1027.7 620.8L1015.8 622.1L1006.5 618.6L1018.3 618.5Z" fill="#422fc2"/><path d="M1018.3 618.5L1006.5 618.6L997.2 612.2L1009 614.1Z" fill="#463cde"/><path d="M1009 614.1L997.2 612.2L987.8 610.9L999.6 615.4Z" fill="#484df1"/><path d="M999.6 615.4L987.8 610.9L978.5 614L990.3 620.6Z" fill="#4755f6"/><path d="M1151.6 466L1139.8 462.8L1130.5 463.4L1142.3 466.7Z" fill="#97ca47"/><path d="M1142.3 466.7L1130.5 463.4L1121.1 463.7L1132.9 466.8Z" fill="#b7c532"/><path d="M1132.9 466.8L1121.1 463.7L1111.8 462.9L1123.6 465.7Z" fill="#d7be28"/><path d="M1123.6 465.7L1111.8 462.9L1102.4 464.7L1114.3 466.9Z" fill="#f2ba38"/><path d="M1114.3 466.9L1102.4 464.7L1093.1 474.6L1104.9 475.7Z" fill="#f9bb3d"/><path d="M1104.9 475.7L1093.1 474.6L1083.7 491.1L1095.6 491Z" fill="#e0bc2b"/><path d="M1095.6 491L1083.7 491.1L1074.4 517.2L1086.2 515Z" fill="#90ca4d"/><path d="M1086.2 515L1074.4 517.2L1065 547.4L1076.9 543.3Z" fill="#25c2ad"/><path d="M1076.9 543.3L1065 547.4L1055.7 576L1067.5 570.6Z" fill="#249de6"/><path d="M1067.5 570.6L1055.7 576L1046.4 598.9L1058.2 593.4Z" fill="#416cfe"/><path d="M1058.2 593.4L1046.4 598.9L1037 613.8L1048.9 609.6Z" fill="#4848ec"/><path d="M1048.9 609.6L1037 613.8L1027.7 620.8L1039.5 617.7Z" fill="#4538d7"/><path d="M1039.5 617.7L1027.7 620.8L1018.3 618.5L1030.2 617Z" fill="#4537d5"/><path d="M1030.2 617L1018.3 618.5L1009 614.1L1020.8 615.1Z" fill="#4743e7"/><path d="M1020.8 615.1L1009 614.1L999.6 615.4L1011.5 619.1Z" fill="#4850f3"/><path d="M1011.5 619.1L999.6 615.4L990.3 620.6L1002.1 626.5Z" fill="#4852f4"/><path d="M1163.5 469.2L1151.6 466L1142.3 466.7L1154.1 470Z" fill="#97ca48"/><path d="M1154.1 470L1142.3 466.7L1132.9 466.8L1144.8 469.9Z" fill="#b7c532"/><path d="M1144.8 469.9L1132.9 466.8L1123.6 465.7L1135.4 468.4Z" fill="#d8be28"/><path d="M1135.4 468.4L1123.6 465.7L1114.3 466.9L1126.1 468.9Z" fill="#f5ba3b"/><path d="M1126.1 468.9L1114.3 466.9L1104.9 475.7L1116.7 476.3Z" fill="#febe3c"/><path d="M1116.7 476.3L1104.9 475.7L1095.6 491L1107.4 489.8Z" fill="#eeba35"/><path d="M1107.4 489.8L1095.6 491L1086.2 515L1098.1 511.1Z" fill="#b1c635"/><path d="M1098.1 511.1L1086.2 515L1076.9 543.3L1088.7 537.1Z" fill="#3cc992"/><path d="M1088.7 537.1L1076.9 543.3L1067.5 570.6L1079.4 562.7Z" fill="#14b0d8"/><path d="M1079.4 562.7L1067.5 570.6L1058.2 593.4L1070 585.4Z" fill="#2e86f8"/><path d="M1070 585.4L1058.2 593.4L1048.9 609.6L1060.7 603.2Z" fill="#465efb"/><path d="M1060.7 603.2L1048.9 609.6L1039.5 617.7L1051.3 612.8Z" fill="#4848ec"/><path d="M1051.3 612.8L1039.5 617.7L1030.2 617L1042 614Z" fill="#4744e9"/><path d="M1042 614L1030.2 617L1020.8 615.1L1032.7 614.5Z" fill="#484ef1"/><path d="M1032.7 614.5L1020.8 615.1L1011.5 619.1L1023.3 620.6Z" fill="#4756f7"/><path d="M1023.3 620.6L1011.5 619.1L1002.1 626.5L1014 629.3Z" fill="#4854f5"/><path d="M1175.3 472.5L1163.5 469.2L1154.1 470L1166 473.3Z" fill="#97ca48"/><path d="M1166 473.3L1154.1 470L1144.8 469.9L1156.6 472.9Z" fill="#b6c532"/><path d="M1156.6 472.9L1144.8 469.9L1135.4 468.4L1147.3 470.9Z" fill="#dabd28"/><path d="M1147.3 470.9L1135.4 468.4L1126.1 468.9L1137.9 470.5Z" fill="#f9bb3d"/><path d="M1137.9 470.5L1126.1 468.9L1116.7 476.3L1128.6 476.3Z" fill="#fec338"/><path d="M1128.6 476.3L1116.7 476.3L1107.4 489.8L1119.2 487.6Z" fill="#fcbd3d"/><path d="M1119.2 487.6L1107.4 489.8L1098.1 511.1L1109.9 505.7Z" fill="#d5be28"/><path d="M1109.9 505.7L1098.1 511.1L1088.7 537.1L1100.5 528.7Z" fill="#71cd64"/><path d="M1100.5 528.7L1088.7 537.1L1079.4 562.7L1091.2 552.3Z" fill="#18bfb6"/><path d="M1091.2 552.3L1079.4 562.7L1070 585.4L1081.9 574.9Z" fill="#22a2e4"/><path d="M1081.9 574.9L1070 585.4L1060.7 603.2L1072.5 594.6Z" fill="#317efb"/><path d="M1072.5 594.6L1060.7 603.2L1051.3 612.8L1063.2 605.9Z" fill="#4660fb"/><path d="M1063.2 605.9L1051.3 612.8L1042 614L1053.8 609.5Z" fill="#4758f8"/><path d="M1053.8 609.5L1042 614L1032.7 614.5L1044.5 612.1Z" fill="#465dfa"/><path d="M1044.5 612.1L1032.7 614.5L1023.3 620.6L1035.1 618.9Z" fill="#4561fc"/><path d="M1035.1 618.9L1023.3 620.6L1014 629.3L1025.8 627.5Z" fill="#475dfa"/><path d="M1187.1 475.7L1175.3 472.5L1166 473.3L1177.8 476.7Z" fill="#97ca48"/><path d="M1177.8 476.7L1166 473.3L1156.6 472.9L1168.4 475.9Z" fill="#b6c532"/><path d="M1168.4 475.9L1156.6 472.9L1147.3 470.9L1159.1 473.2Z" fill="#dcbd29"/><path d="M1159.1 473.2L1147.3 470.9L1137.9 470.5L1149.8 471.9Z" fill="#fcbc3d"/><path d="M1149.8 471.9L1137.9 470.5L1128.6 476.3L1140.4 475.6Z" fill="#feca33"/><path d="M1140.4 475.6L1128.6 476.3L1119.2 487.6L1131.1 484.4Z" fill="#fec934"/><path d="M1131.1 484.4L1119.2 487.6L1109.9 505.7L1121.7 498.6Z" fill="#f8ba3d"/><path d="M1121.7 498.6L1109.9 505.7L1100.5 528.7L1112.4 518.1Z" fill="#bcc42f"/><path d="M1112.4 518.1L1100.5 528.7L1091.2 552.3L1103 539.3Z" fill="#52cc7e"/><path d="M1103 539.3L1091.2 552.3L1081.9 574.9L1093.7 561.6Z" fill="#08bcbf"/><path d="M1093.7 561.6L1081.9 574.9L1072.5 594.6L1084.4 583.6Z" fill="#23a0e5"/><path d="M1084.4 583.6L1072.5 594.6L1063.2 605.9L1075 597.1Z" fill="#2f80fa"/><path d="M1075 597.1L1063.2 605.9L1053.8 609.5L1065.7 603.4Z" fill="#3c71ff"/><path d="M1065.7 603.4L1053.8 609.5L1044.5 612.1L1056.3 607.8Z" fill="#3d71ff"/><path d="M1056.3 607.8L1044.5 612.1L1035.1 618.9L1047 614.3Z" fill="#3c72ff"/><path d="M1047 614.3L1035.1 618.9L1025.8 627.5L1037.6 621.7Z" fill="#3f6efe"/><path d="M1199 479L1187.1 475.7L1177.8 476.7L1189.6 480Z" fill="#97ca48"/><path d="M1189.6 480L1177.8 476.7L1168.4 475.9L1180.3 478.9Z" fill="#b6c532"/><path d="M1180.3 478.9L1168.4 475.9L1159.1 473.2L1170.9 475.5Z" fill="#debc2a"/><path d="M1170.9 475.5L1159.1 473.2L1149.8 471.9L1161.6 473Z" fill="#febf3b"/><path d="M1161.6 473L1149.8 471.9L1140.4 475.6L1152.2 474.4Z" fill="#fbd32f"/><path d="M1152.2 474.4L1140.4 475.6L1131.1 484.4L1142.9 480.2Z" fill="#f8d92b"/><path d="M1142.9 480.2L1131.1 484.4L1121.7 498.6L1133.6 489.8Z" fill="#fcd12f"/><path d="M1133.6 489.8L1121.7 498.6L1112.4 518.1L1124.2 505.2Z" fill="#fcbc3d"/><path d="M1124.2 505.2L1112.4 518.1L1103 539.3L1114.9 523.4Z" fill="#c1c32d"/><path d="M1114.9 523.4L1103 539.3L1093.7 561.6L1105.5 545.4Z" fill="#5dcc75"/><path d="M1105.5 545.4L1093.7 561.6L1084.4 583.6L1096.2 570.1Z" fill="#0ebebb"/><path d="M1096.2 570.1L1084.4 583.6L1075 597.1L1086.8 585.9Z" fill="#21a3e3"/><path d="M1086.8 585.9L1075 597.1L1065.7 603.4L1077.5 595.6Z" fill="#2b91ef"/><path d="M1077.5 595.6L1065.7 603.4L1056.3 607.8L1068.2 602.3Z" fill="#2d8af5"/><path d="M1068.2 602.3L1056.3 607.8L1047 614.3L1058.8 608.5Z" fill="#2e87f7"/><path d="M1058.8 608.5L1047 614.3L1037.6 621.7L1049.5 614.7Z" fill="#2e84f8"/><path d="M1210.8 482.2L1199 479L1189.6 480L1201.5 483.4Z" fill="#96ca48"/><path d="M1201.5 483.4L1189.6 480L1180.3 478.9L1192.1 481.8Z" fill="#b6c532"/><path d="M1192.1 481.8L1180.3 478.9L1170.9 475.5L1182.8 477.6Z" fill="#e1bc2b"/><path d="M1182.8 477.6L1170.9 475.5L1161.6 473L1173.4 473.8Z" fill="#fec338"/><path d="M1173.4 473.8L1161.6 473L1152.2 474.4L1164.1 472.5Z" fill="#f7dd2a"/><path d="M1164.1 472.5L1152.2 474.4L1142.9 480.2L1154.7 474.8Z" fill="#f5ec22"/><path d="M1154.7 474.8L1142.9 480.2L1133.6 489.8L1145.4 479.1Z" fill="#f6f01f"/><path d="M1145.4 479.1L1133.6 489.8L1124.2 505.2L1136 489.5Z" fill="#f5ea24"/><path d="M1136 489.5L1124.2 505.2L1114.9 523.4L1126.7 504.1Z" fill="#fbd22f"/><path d="M1126.7 504.1L1114.9 523.4L1105.5 545.4L1117.4 525.5Z" fill="#eabb30"/><path d="M1117.4 525.5L1105.5 545.4L1096.2 570.1L1108 553.1Z" fill="#7bcc5d"/><path d="M1108 553.1L1096.2 570.1L1086.8 585.9L1098.7 571.6Z" fill="#1bc0b4"/><path d="M1098.7 571.6L1086.8 585.9L1077.5 595.6L1089.3 585.1Z" fill="#12b1d6"/><path d="M1089.3 585.1L1077.5 595.6L1068.2 602.3L1080 595.4Z" fill="#20a4e3"/><path d="M1080 595.4L1068.2 602.3L1058.8 608.5L1070.6 603.1Z" fill="#259ce7"/><path d="M1070.6 603.1L1058.8 608.5L1049.5 614.7L1061.3 609.4Z" fill="#2798ea"/></g>
<path d="M848.3 611.9L1061.3 670.3L1210.8 588M848.3 611.9L848.3 467M1061.3 670.3L1061.3 525.4M1210.8 588L1210.8 443.1M848.3 467L1061.3 525.4L1210.8 443.1L997.8 384.7Z" fill="none" stroke="#1a1a1a" stroke-width="1.6" stroke-linejoin="round"/>
<path d="M1061.3 670.3L1056.5 673M1210.8 588L1217.1 589.7M993.5 651.7L988.7 654.4M1163.2 614.2L1169.5 615.9M925.7 633.1L920.9 635.8M1115.6 640.4L1121.9 642.1M857.9 614.5L853.1 617.2M1068 666.6L1074.3 668.3" stroke="#1a1a1a" stroke-width="1.4" fill="none"/><path d="M848.3 598.7L844 597.5M848.3 585.6L844 584.4M848.3 572.4L844 571.2M848.3 559.2L844 558M848.3 546L844 544.8M848.3 532.9L844 531.7M848.3 519.7L844 518.5M848.3 506.5L844 505.3M848.3 493.3L844 492.2M848.3 480.2L844 479" stroke="#9a9a9a" stroke-width="0.8" fill="none"/>
<text x="750" y="437" font-size="22" textLength="140" lengthAdjust="spacing">Energy density</text>
<text x="840" y="476.8" font-size="22" text-anchor="end" letter-spacing="0.75">-0.1866</text>
<text x="840" y="526" font-size="22" text-anchor="end" letter-spacing="0.75">-0.1870</text>
<text x="841.4" y="575.4" font-size="22" text-anchor="end" letter-spacing="0.75">-0.1874</text>
<text x="840" y="636.2" font-size="22">1.5</text>
<text x="806.5" y="658.5" font-size="22" letter-spacing="0.3">[010]</text>
<text x="870.8" y="661.4" font-size="28" font-style="italic" fill="#3a3a3a">ψ</text>
<text x="905.3" y="653.9" font-size="22">1.0</text>
<text x="974.1" y="672" font-size="22">0.5</text>
<text x="1047.9" y="689.1" font-size="22">0</text>
<text x="1034.7" y="712.7" font-size="22" letter-spacing="0.3">[100]</text>
<text x="1076.5" y="683.7" font-size="22">1.5</text>
<text x="1124.5" y="659.9" font-size="22">1.0</text>
<text x="1172.7" y="630.3" font-size="22">0.5</text>
<text x="1221.5" y="600.4" font-size="22">0</text>
<text x="1210.9" y="624.5" font-size="22" letter-spacing="0.3">[001]</text>
<text x="1173.8" y="658.9" font-size="30" font-style="italic" fill="#3a3a3a">α</text>
<text x="896.2" y="685.9" font-size="22" fill="#cb1226" letter-spacing="0.3">[110]</text>
<text x="953" y="671.8" font-size="21" font-weight="bold" fill="#cb1226">h</text>
<path d="M958.1 641L933.1 659.1M944.1 658.5L933.1 659.1L937.1 648.8" fill="none" stroke="#cb1226" stroke-width="3.2" stroke-linecap="round" stroke-linejoin="miter"/>
<text x="830.5" y="717.3" font-size="29.5"><tspan font-style="italic">h</tspan> = 0.07</text>
<text x="781" y="409.5" font-size="40.5" font-weight="bold" font-family="Liberation Sans, sans-serif" fill="#000">F</text>
<circle cx="995.5" cy="605.5" r="5.3" fill="#0d9be8" stroke="#1b35b0" stroke-width="1.4"/>
<circle cx="1211" cy="481" r="5.3" fill="#0d9be8" stroke="#1b35b0" stroke-width="1.4"/>
<text x="999.7" y="590.5" font-size="23" font-weight="bold" fill="#ffffff">Q<tspan font-size="17" font-weight="normal" dx="0.5" dy="9.2">5</tspan></text>
<text x="1180" y="512" font-size="23" font-weight="bold" fill="#111">Q<tspan font-size="17" font-weight="normal" dx="0.5" dy="9.2">3</tspan></text></g>
<g id="pG"><path d="M1354 261.3L1503.5 179M1350.8 254.3L1563.8 312.7M1350.8 254.3L1350.8 109.4M1503.5 179L1503.5 34.1M1364.6 264.2L1514.1 181.9M1358.2 250.2L1571.2 308.6M1358.2 250.2L1358.2 105.3M1514.1 181.9L1514.1 37M1375.2 267.2L1524.8 184.9M1365.7 246.1L1578.7 304.5M1365.7 246.1L1365.7 101.2M1524.8 184.9L1524.8 40M1385.9 270.1L1535.4 187.8M1373.2 241.9L1586.2 300.3M1373.2 241.9L1373.2 97M1535.4 187.8L1535.4 42.9M1396.5 273L1546 190.7M1380.7 237.8L1593.7 296.2M1380.7 237.8L1380.7 92.9M1546 190.7L1546 45.8M1407.2 275.9L1556.7 193.6M1388.1 233.7L1601.1 292.1M1388.1 233.7L1388.1 88.8M1556.7 193.6L1556.7 48.7M1417.8 278.8L1567.3 196.5M1395.6 229.6L1608.6 288M1395.6 229.6L1395.6 84.7M1567.3 196.5L1567.3 51.6M1428.5 281.8L1578 199.5M1403.1 225.5L1616.1 283.9M1403.1 225.5L1403.1 80.6M1578 199.5L1578 54.6M1439.1 284.7L1588.6 202.4M1410.6 221.4L1623.6 279.8M1410.6 221.4L1410.6 76.5M1588.6 202.4L1588.6 57.5M1449.8 287.6L1599.3 205.3M1418 217.2L1631 275.6M1418 217.2L1418 72.3M1599.3 205.3L1599.3 60.4M1460.5 290.5L1610 208.2M1425.5 213.1L1638.5 271.5M1425.5 213.1L1425.5 68.2M1610 208.2L1610 63.3M1471.1 293.4L1620.6 211.1M1433 209L1646 267.4M1433 209L1433 64.1M1620.6 211.1L1620.6 66.2M1481.8 296.4L1631.2 214.1M1440.5 204.9L1653.5 263.3M1440.5 204.9L1440.5 60M1631.2 214.1L1631.2 69.2M1492.4 299.3L1641.9 217M1448 200.8L1661 259.2M1448 200.8L1448 55.9M1641.9 217L1641.9 72.1M1503 302.2L1652.5 219.9M1455.4 196.7L1668.4 255.1M1455.4 196.7L1455.4 51.8M1652.5 219.9L1652.5 75M1513.7 305.1L1663.2 222.8M1462.9 192.6L1675.9 251M1462.9 192.6L1462.9 47.7M1663.2 222.8L1663.2 77.9M1524.3 308L1673.8 225.7M1470.4 188.4L1683.4 246.8M1470.4 188.4L1470.4 43.5M1673.8 225.7L1673.8 80.8M1535 311L1684.5 228.7M1477.8 184.3L1690.8 242.7M1477.8 184.3L1477.8 39.4M1684.5 228.7L1684.5 83.8M1545.6 313.9L1695.1 231.6M1485.3 180.2L1698.3 238.6M1485.3 180.2L1485.3 35.3M1695.1 231.6L1695.1 86.7M1343.3 253.2L1492.8 170.9L1705.8 229.3M1343.3 248L1492.8 165.7L1705.8 224.1M1343.3 242.9L1492.8 160.6L1705.8 219M1343.3 237.7L1492.8 155.4L1705.8 213.8M1343.3 232.5L1492.8 150.2L1705.8 208.6M1343.3 227.3L1492.8 145L1705.8 203.4M1343.3 222.2L1492.8 139.9L1705.8 198.3M1343.3 217L1492.8 134.7L1705.8 193.1M1343.3 211.8L1492.8 129.5L1705.8 187.9M1343.3 206.6L1492.8 124.3L1705.8 182.7M1343.3 201.5L1492.8 119.2L1705.8 177.6M1343.3 196.3L1492.8 114L1705.8 172.4M1343.3 191.1L1492.8 108.8L1705.8 167.2M1343.3 185.9L1492.8 103.6L1705.8 162M1343.3 180.8L1492.8 98.5L1705.8 156.9M1343.3 175.6L1492.8 93.3L1705.8 151.7M1343.3 170.4L1492.8 88.1L1705.8 146.5M1343.3 165.2L1492.8 82.9L1705.8 141.3M1343.3 160.1L1492.8 77.8L1705.8 136.2M1343.3 154.9L1492.8 72.6L1705.8 131M1343.3 149.7L1492.8 67.4L1705.8 125.8M1343.3 144.5L1492.8 62.2L1705.8 120.6M1343.3 139.4L1492.8 57.1L1705.8 115.5M1343.3 134.2L1492.8 51.9L1705.8 110.3M1343.3 129L1492.8 46.7L1705.8 105.1M1343.3 123.8L1492.8 41.5L1705.8 99.9M1343.3 118.7L1492.8 36.4L1705.8 94.8" fill="none" stroke="#e9e9e9" stroke-width="0.5"/>
<path d="M1343.3 258.4L1492.8 176.1L1705.8 234.5M1492.8 176.1L1492.8 31.2" fill="none" stroke="#1a1a1a" stroke-width="1.6"/>
<path d="M1521.9 268.8L1521.4 267.7L1515 261.5L1505 257.2L1491.3 255L1474.1 254.7L1471.2 254.9L1461.9 260.1L1460.1 262.4L1457.9 266.7L1455.4 273.7L1455.3 274.8L1456.6 281.8L1456.7 283.8L1461.7 283.1L1479 281.3L1481.5 280.9L1497.8 277.6L1507.5 275.4L1512.5 274L1521.9 268.8" fill="none" stroke="#4639da" stroke-width="1.2" stroke-opacity="0.9"/>
<path d="M1463.6 291.4L1481.8 289.5L1483.9 289.3L1501.5 286.4L1507.7 285L1516.6 282.8L1529.7 278.7L1539.4 273.7L1539.9 267.3L1539.4 265.9L1532.2 261.8L1522.2 257.5L1511 253.9L1498.5 251L1484.8 248.8L1472.3 247.5L1468.9 247.8L1453.6 250.1L1444.6 255.4L1439.1 261.5L1436.7 265.6L1435.4 268.3L1434.3 275.7L1434.5 276.5L1436 283.8" fill="none" stroke="#475dfa" stroke-width="1.2" stroke-opacity="0.9"/>
<path d="M1480.9 296.1L1489.1 295.2L1500.7 293.9L1513.8 291.4L1517.2 290.7L1531.1 286.8L1543.4 282.4L1553 277.4L1556.1 270.5L1554.7 268.9L1547.2 263.3L1538.1 258.5L1532.7 256.4L1527.6 254.5L1516.2 251L1503.9 248L1497.7 246.8L1490.7 245.6L1476.2 243.8L1460 242.9L1455.6 243L1440 246.4L1430.9 251.6L1424.5 257.6L1419.8 264L1419.1 265.4L1417.6 271.1L1418.1 275.8L1418.7 279.1" fill="none" stroke="#2f82f9" stroke-width="1.2" stroke-opacity="0.9"/>
<path d="M1497.7 300.7L1516 298L1521.8 296.7L1531 294.5L1543.9 290.3L1555.3 285.7L1564.7 280.6L1569.4 274.2L1568 271.3L1561.8 265L1560.2 263.9L1553 260.1L1542.9 255.8L1532.1 252L1520.7 248.6L1508.5 245.5L1495.6 242.9L1482 240.6L1470.2 239.3L1467.1 239L1449.6 238.9L1442.3 239.3L1428.4 243.2L1419 248.3L1411.8 254.1L1406 260.2L1403.5 264.3L1402.3 266.9L1401.9 274.5" fill="none" stroke="#22a2e4" stroke-width="1.2" stroke-opacity="0.9"/>
<path d="M1514.1 305.2L1529.8 302.1L1530.4 302L1543.8 298L1555.7 293.5L1566.3 288.7L1575.3 283.5L1581.1 277.4L1580.6 274.1L1577.6 268.7L1575.7 267.1L1567.5 261.8L1558 257.3L1547.7 253.2L1540.7 250.9L1536.7 249.5L1525.1 246.1L1513 243L1508.4 242L1500.3 240.3L1487 237.8L1472.8 235.9L1457.4 234.6L1452.8 234.5L1438.6 235.2L1430.6 236.1L1417.8 240.3L1408.1 245.3L1400 250.8L1393.2 256.7L1387.9 262.9L1387.8 263.2L1385.5 270" fill="none" stroke="#01bac5" stroke-width="1.2" stroke-opacity="0.9"/>
<path d="M1530.4 309.7L1537 307.9L1544.1 305.8L1556 301.3L1566.9 296.6L1576.8 291.6L1585.4 286.3L1592.1 280.4L1592.7 277.3L1592.1 272.7L1589.4 269.3L1582.1 263.6L1577.2 260.9L1573.1 258.8L1563.1 254.5L1552.5 250.6L1541.4 247L1529.8 243.6L1517.7 240.5L1505.2 237.6L1492.1 235L1478.4 232.8L1471.9 232L1463.7 231.1L1447.4 230.3L1438.3 230.5L1427 231.8L1419.7 233.1L1407.6 237.5L1397.6 242.5L1388.8 247.7L1380.9 253.3L1374.1 259.1L1371.3 262.5L1369.2 265.5" fill="none" stroke="#37c897" stroke-width="1.2" stroke-opacity="0.9"/>
<path d="M1546.5 314.1L1557.8 309.5L1568.3 304.7L1578.3 299.7L1587.5 294.5L1595.9 289.1L1603.1 283.4L1604.2 280.7L1605.6 276.4L1603.5 271.3L1599.3 266.9L1596.9 265.2L1588.2 260.2L1578.6 255.8L1568.2 251.7L1557.3 247.9L1552.4 246.4L1546.1 244.3L1534.5 241L1522.4 237.9L1515.3 236.2L1510 234.9L1497.2 232.2L1483.9 229.8L1469.9 227.8L1454.9 226.3L1449.8 226L1437.8 225.9L1424.8 226.8L1414.9 228.8L1408.7 230.1L1397.1 234.6L1386.8 239.5L1377.4 244.6L1368.7 250L1360.5 255.4L1353.1 261.1" fill="none" stroke="#86cb55" stroke-width="1.2" stroke-opacity="0.9"/>
<path d="M1619.1 282.2L1620.4 280.4L1618.8 272.7L1618.6 272.2L1612.2 266.5L1603.8 261.4L1599.7 259.4L1594.5 256.7L1584.6 252.4L1574.2 248.4L1563.3 244.7L1551.9 241.1L1540.3 237.8L1528.3 234.6L1515.9 231.7L1503.2 228.9L1490 226.4L1476.2 224.3L1468.1 223.3L1461.8 222.4L1446.5 221.1L1430.5 220.7L1429.4 220.7L1410.1 222.8L1406.1 223.8" fill="none" stroke="#d8be28" stroke-width="1.2" stroke-opacity="0.9"/>
<path d="M1636.6 272.6L1629.9 267.6L1629 267L1620.8 261.8L1611.6 257.1L1601.8 252.7L1597.1 250.9L1591.9 248.4L1581.8 244.2L1570.9 240.4L1559.7 236.9L1548 233.5L1536 230.4L1523.6 227.4L1510.8 224.8L1497.3 222.4L1489.4 221.4L1483.4 220.3L1469.6 218.1L1455.1 216.4L1439.6 215.1L1437.9 215L1423.6 214.2" fill="none" stroke="#fec934" stroke-width="1.2" stroke-opacity="0.9"/>
<path d="M1649 265.7L1646.6 264.5L1643.7 258.9L1637.8 254.4L1636.7 253L1629 247.5L1619.3 243.1L1608.7 239.2L1600.3 236.4L1597.8 235.4L1587 231.6L1575.7 228L1564.1 224.7L1552.1 221.5L1539.7 218.6L1526.8 215.9L1523.5 215.3L1514 213.2L1500.9 210.7L1487 208.6L1471 207.6L1467.3 207.6L1454.3 207L1439.9 207.8L1436 207.3" fill="none" stroke="#f6f01f" stroke-width="1.2" stroke-opacity="0.9"/>
<g fill-opacity="0.70" stroke="#151515" stroke-opacity="0.95" stroke-width="1.20" stroke-linejoin="round"><path d="M1504.6 34.4L1492.8 31.2L1483.5 36.3L1495.3 39.6Z" fill="#f9fb15"/><path d="M1495.3 39.6L1483.5 36.3L1474.1 41.5L1485.9 44.8Z" fill="#f9fb15"/><path d="M1485.9 44.8L1474.1 41.5L1464.8 46.7L1476.6 50.2Z" fill="#f9fb15"/><path d="M1476.6 50.2L1464.8 46.7L1455.4 52.3L1467.3 56.1Z" fill="#f9fa16"/><path d="M1467.3 56.1L1455.4 52.3L1446.1 58.1L1457.9 62.8Z" fill="#f8f719"/><path d="M1457.9 62.8L1446.1 58.1L1436.7 65.3L1448.6 71.6Z" fill="#f6f21e"/><path d="M1448.6 71.6L1436.7 65.3L1427.4 81.4L1439.2 89.5Z" fill="#f6e028"/><path d="M1439.2 89.5L1427.4 81.4L1418 97.2L1429.9 108Z" fill="#fabb3d"/><path d="M1429.9 108L1418 97.2L1408.7 109.2L1420.5 123.5Z" fill="#bdc42f"/><path d="M1420.5 123.5L1408.7 109.2L1399.4 118.9L1411.2 136.3Z" fill="#80cc59"/><path d="M1411.2 136.3L1399.4 118.9L1390 125.9L1401.9 144.5Z" fill="#58cc7a"/><path d="M1401.9 144.5L1390 125.9L1380.7 132.4L1392.5 150.9Z" fill="#48cb86"/><path d="M1392.5 150.9L1380.7 132.4L1371.3 138L1383.2 155.8Z" fill="#43ca8a"/><path d="M1383.2 155.8L1371.3 138L1362 142.8L1373.8 159.7Z" fill="#45cb89"/><path d="M1373.8 159.7L1362 142.8L1352.6 147.5L1364.5 163.1Z" fill="#4bcb84"/><path d="M1364.5 163.1L1352.6 147.5L1343.3 152L1355.1 166Z" fill="#54cc7c"/><path d="M1516.5 37.7L1504.6 34.4L1495.3 39.6L1507.1 42.9Z" fill="#f9fb15"/><path d="M1507.1 42.9L1495.3 39.6L1485.9 44.8L1497.8 48.1Z" fill="#f9fb15"/><path d="M1497.8 48.1L1485.9 44.8L1476.6 50.2L1488.4 53.7Z" fill="#f9fa15"/><path d="M1488.4 53.7L1476.6 50.2L1467.3 56.1L1479.1 60.1Z" fill="#f8f917"/><path d="M1479.1 60.1L1467.3 56.1L1457.9 62.8L1469.7 67.8Z" fill="#f7f41c"/><path d="M1469.7 67.8L1457.9 62.8L1448.6 71.6L1460.4 78.7Z" fill="#f5eb23"/><path d="M1460.4 78.7L1448.6 71.6L1439.2 89.5L1451.1 98.6Z" fill="#fbd22f"/><path d="M1451.1 98.6L1439.2 89.5L1429.9 108L1441.7 120.3Z" fill="#ddbd29"/><path d="M1441.7 120.3L1429.9 108L1420.5 123.5L1432.4 139.6Z" fill="#7bcc5d"/><path d="M1432.4 139.6L1420.5 123.5L1411.2 136.3L1423 155.5Z" fill="#35c79a"/><path d="M1423 155.5L1411.2 136.3L1401.9 144.5L1413.7 164.9Z" fill="#12beb9"/><path d="M1413.7 164.9L1401.9 144.5L1392.5 150.9L1404.3 170.7Z" fill="#02bbc3"/><path d="M1404.3 170.7L1392.5 150.9L1383.2 155.8L1395 174.5Z" fill="#02bac4"/><path d="M1395 174.5L1383.2 155.8L1373.8 159.7L1385.7 177.2Z" fill="#06bcc0"/><path d="M1385.7 177.2L1373.8 159.7L1364.5 163.1L1376.3 179Z" fill="#12beb9"/><path d="M1376.3 179L1364.5 163.1L1355.1 166L1367 179.8Z" fill="#24c1ae"/><path d="M1528.3 40.9L1516.5 37.7L1507.1 42.9L1519 46.1Z" fill="#f9fb15"/><path d="M1519 46.1L1507.1 42.9L1497.8 48.1L1509.6 51.4Z" fill="#f9fb15"/><path d="M1509.6 51.4L1497.8 48.1L1488.4 53.7L1500.3 57.2Z" fill="#f9fa15"/><path d="M1500.3 57.2L1488.4 53.7L1479.1 60.1L1490.9 64Z" fill="#f8f718"/><path d="M1490.9 64L1479.1 60.1L1469.7 67.8L1481.6 72.8Z" fill="#f6f11e"/><path d="M1481.6 72.8L1469.7 67.8L1460.4 78.7L1472.2 85.6Z" fill="#f5e427"/><path d="M1472.2 85.6L1460.4 78.7L1451.1 98.6L1462.9 107.6Z" fill="#fec537"/><path d="M1462.9 107.6L1451.1 98.6L1441.7 120.3L1453.5 132.2Z" fill="#b6c532"/><path d="M1453.5 132.2L1441.7 120.3L1432.4 139.6L1444.2 155.3Z" fill="#3eca8f"/><path d="M1444.2 155.3L1432.4 139.6L1423 155.5L1434.9 174.2Z" fill="#01b9c8"/><path d="M1434.9 174.2L1423 155.5L1413.7 164.9L1425.5 184.6Z" fill="#1fa6e2"/><path d="M1425.5 184.6L1413.7 164.9L1404.3 170.7L1416.2 189.9Z" fill="#249ee6"/><path d="M1416.2 189.9L1404.3 170.7L1395 174.5L1406.8 192.7Z" fill="#249fe6"/><path d="M1406.8 192.7L1395 174.5L1385.7 177.2L1397.5 194.3Z" fill="#21a3e3"/><path d="M1397.5 194.3L1385.7 177.2L1376.3 179L1388.1 194.6Z" fill="#1babde"/><path d="M1388.1 194.6L1376.3 179L1367 179.8L1378.8 193.6Z" fill="#0db3d3"/><path d="M1540.1 44.2L1528.3 40.9L1519 46.1L1530.8 49.4Z" fill="#f9fb15"/><path d="M1530.8 49.4L1519 46.1L1509.6 51.4L1521.4 54.7Z" fill="#f9fb15"/><path d="M1521.4 54.7L1509.6 51.4L1500.3 57.2L1512.1 60.7Z" fill="#f9fa16"/><path d="M1512.1 60.7L1500.3 57.2L1490.9 64L1502.8 67.9Z" fill="#f8f61a"/><path d="M1502.8 67.9L1490.9 64L1481.6 72.8L1493.4 77.7Z" fill="#f5ee21"/><path d="M1493.4 77.7L1481.6 72.8L1472.2 85.6L1484.1 92.2Z" fill="#f7dd2a"/><path d="M1484.1 92.2L1472.2 85.6L1462.9 107.6L1474.7 116.1Z" fill="#fabb3d"/><path d="M1474.7 116.1L1462.9 107.6L1453.5 132.2L1465.4 143.4Z" fill="#8ccb50"/><path d="M1465.4 143.4L1453.5 132.2L1444.2 155.3L1456 169.8Z" fill="#20c1b1"/><path d="M1456 169.8L1444.2 155.3L1434.9 174.2L1446.7 191.5Z" fill="#21a4e3"/><path d="M1446.7 191.5L1434.9 174.2L1425.5 184.6L1437.4 202.9Z" fill="#2e86f7"/><path d="M1437.4 202.9L1425.5 184.6L1416.2 189.9L1428 207.8Z" fill="#327cfc"/><path d="M1428 207.8L1416.2 189.9L1406.8 192.7L1418.7 209.9Z" fill="#317dfb"/><path d="M1418.7 209.9L1406.8 192.7L1397.5 194.3L1409.3 210.6Z" fill="#2e85f8"/><path d="M1409.3 210.6L1397.5 194.3L1388.1 194.6L1400 209.8Z" fill="#2c8ff0"/><path d="M1400 209.8L1388.1 194.6L1378.8 193.6L1390.6 207.3Z" fill="#259de7"/><path d="M1552 47.4L1540.1 44.2L1530.8 49.4L1542.6 52.6Z" fill="#f9fb15"/><path d="M1542.6 52.6L1530.8 49.4L1521.4 54.7L1533.3 57.9Z" fill="#f9fb15"/><path d="M1533.3 57.9L1521.4 54.7L1512.1 60.7L1523.9 64.1Z" fill="#f9f916"/><path d="M1523.9 64.1L1512.1 60.7L1502.8 67.9L1514.6 71.7Z" fill="#f7f51b"/><path d="M1514.6 71.7L1502.8 67.9L1493.4 77.7L1505.2 82.3Z" fill="#f5ec22"/><path d="M1505.2 82.3L1493.4 77.7L1484.1 92.2L1495.9 98.4Z" fill="#f9d72d"/><path d="M1495.9 98.4L1484.1 92.2L1474.7 116.1L1486.6 123.8Z" fill="#ebba32"/><path d="M1486.6 123.8L1474.7 116.1L1465.4 143.4L1477.2 153.5Z" fill="#67cd6d"/><path d="M1477.2 153.5L1465.4 143.4L1456 169.8L1467.9 182.9Z" fill="#01b8ca"/><path d="M1467.9 182.9L1456 169.8L1446.7 191.5L1458.5 207.1Z" fill="#2d8cf3"/><path d="M1458.5 207.1L1446.7 191.5L1437.4 202.9L1449.2 219.5Z" fill="#4366fd"/><path d="M1449.2 219.5L1437.4 202.9L1428 207.8L1439.8 224.2Z" fill="#475bf9"/><path d="M1439.8 224.2L1428 207.8L1418.7 209.9L1430.5 225.9Z" fill="#465dfa"/><path d="M1430.5 225.9L1418.7 209.9L1409.3 210.6L1421.2 226.1Z" fill="#4466fd"/><path d="M1421.2 226.1L1409.3 210.6L1400 209.8L1411.8 224.5Z" fill="#3b72ff"/><path d="M1411.8 224.5L1400 209.8L1390.6 207.3L1402.5 220.9Z" fill="#2e84f9"/><path d="M1563.8 50.7L1552 47.4L1542.6 52.6L1554.5 55.9Z" fill="#f9fb15"/><path d="M1554.5 55.9L1542.6 52.6L1533.3 57.9L1545.1 61.2Z" fill="#f9fb15"/><path d="M1545.1 61.2L1533.3 57.9L1523.9 64.1L1535.8 67.5Z" fill="#f9f916"/><path d="M1535.8 67.5L1523.9 64.1L1514.6 71.7L1526.4 75.4Z" fill="#f7f51b"/><path d="M1526.4 75.4L1514.6 71.7L1505.2 82.3L1517.1 86.6Z" fill="#f5ea24"/><path d="M1517.1 86.6L1505.2 82.3L1495.9 98.4L1507.7 104Z" fill="#fbd22f"/><path d="M1507.7 104L1495.9 98.4L1486.6 123.8L1498.4 130.7Z" fill="#ddbd29"/><path d="M1498.4 130.7L1486.6 123.8L1477.2 153.5L1489 162.3Z" fill="#4bcb83"/><path d="M1489 162.3L1477.2 153.5L1467.9 182.9L1479.7 194.1Z" fill="#18addb"/><path d="M1479.7 194.1L1467.9 182.9L1458.5 207.1L1470.4 220.5Z" fill="#3777fe"/><path d="M1470.4 220.5L1458.5 207.1L1449.2 219.5L1461 233.9Z" fill="#484ef1"/><path d="M1461 233.9L1449.2 219.5L1439.8 224.2L1451.7 238.7Z" fill="#4742e6"/><path d="M1451.7 238.7L1439.8 224.2L1430.5 225.9L1442.3 240.2Z" fill="#4744e8"/><path d="M1442.3 240.2L1430.5 225.9L1421.2 226.1L1433 240.3Z" fill="#484df0"/><path d="M1433 240.3L1421.2 226.1L1411.8 224.5L1423.6 238.5Z" fill="#4758f8"/><path d="M1423.6 238.5L1411.8 224.5L1402.5 220.9L1414.3 234.4Z" fill="#4269fe"/><path d="M1575.6 53.9L1563.8 50.7L1554.5 55.9L1566.3 59.1Z" fill="#f9fb15"/><path d="M1566.3 59.1L1554.5 55.9L1545.1 61.2L1556.9 64.5Z" fill="#f9fa15"/><path d="M1556.9 64.5L1545.1 61.2L1535.8 67.5L1547.6 70.9Z" fill="#f8f917"/><path d="M1547.6 70.9L1535.8 67.5L1526.4 75.4L1538.3 79Z" fill="#f7f41c"/><path d="M1538.3 79L1526.4 75.4L1517.1 86.6L1528.9 90.7Z" fill="#f5e825"/><path d="M1528.9 90.7L1517.1 86.6L1507.7 104L1519.6 108.9Z" fill="#fdce31"/><path d="M1519.6 108.9L1507.7 104L1498.4 130.7L1510.2 136.6Z" fill="#d2bf27"/><path d="M1510.2 136.6L1498.4 130.7L1489 162.3L1500.9 169.7Z" fill="#3bc993"/><path d="M1500.9 169.7L1489 162.3L1479.7 194.1L1491.5 203.4Z" fill="#21a3e3"/><path d="M1491.5 203.4L1479.7 194.1L1470.4 220.5L1482.2 231.5Z" fill="#4466fd"/><path d="M1482.2 231.5L1470.4 220.5L1461 233.9L1472.9 245.8Z" fill="#463de0"/><path d="M1472.9 245.8L1461 233.9L1451.7 238.7L1463.5 251Z" fill="#4332cb"/><path d="M1463.5 251L1451.7 238.7L1442.3 240.2L1454.2 252.7Z" fill="#4434ce"/><path d="M1454.2 252.7L1442.3 240.2L1433 240.3L1444.8 253.1Z" fill="#4639da"/><path d="M1444.8 253.1L1433 240.3L1423.6 238.5L1435.5 251.6Z" fill="#4743e7"/><path d="M1435.5 251.6L1423.6 238.5L1414.3 234.4L1426.1 247.7Z" fill="#4853f4"/><path d="M1587.5 57.2L1575.6 53.9L1566.3 59.1L1578.1 62.4Z" fill="#f9fb15"/><path d="M1578.1 62.4L1566.3 59.1L1556.9 64.5L1568.8 67.8Z" fill="#f9fa15"/><path d="M1568.8 67.8L1556.9 64.5L1547.6 70.9L1559.4 74.2Z" fill="#f8f917"/><path d="M1559.4 74.2L1547.6 70.9L1538.3 79L1550.1 82.4Z" fill="#f7f41c"/><path d="M1550.1 82.4L1538.3 79L1528.9 90.7L1540.7 94.4Z" fill="#f5e725"/><path d="M1540.7 94.4L1528.9 90.7L1519.6 108.9L1531.4 113.2Z" fill="#fdcb32"/><path d="M1531.4 113.2L1519.6 108.9L1510.2 136.6L1522.1 141.5Z" fill="#c9c129"/><path d="M1522.1 141.5L1510.2 136.6L1500.9 169.7L1512.7 175.5Z" fill="#34c79c"/><path d="M1512.7 175.5L1500.9 169.7L1491.5 203.4L1503.4 210.5Z" fill="#259ce7"/><path d="M1503.4 210.5L1491.5 203.4L1482.2 231.5L1494 239.8Z" fill="#475bf9"/><path d="M1494 239.8L1482.2 231.5L1472.9 245.8L1484.7 254.9Z" fill="#4433cd"/><path d="M1484.7 254.9L1472.9 245.8L1463.5 251L1475.3 260.5Z" fill="#402ab5"/><path d="M1475.3 260.5L1463.5 251L1454.2 252.7L1466 262.8Z" fill="#402bb6"/><path d="M1466 262.8L1454.2 252.7L1444.8 253.1L1456.7 264Z" fill="#422fc1"/><path d="M1456.7 264L1444.8 253.1L1435.5 251.6L1447.3 263.5Z" fill="#4435d0"/><path d="M1447.3 263.5L1435.5 251.6L1426.1 247.7L1438 260.7Z" fill="#4740e3"/><path d="M1599.3 60.4L1587.5 57.2L1578.1 62.4L1590 65.6Z" fill="#f9fb15"/><path d="M1590 65.6L1578.1 62.4L1568.8 67.8L1580.6 71Z" fill="#f9fa15"/><path d="M1580.6 71L1568.8 67.8L1559.4 74.2L1571.3 77.5Z" fill="#f8f917"/><path d="M1571.3 77.5L1559.4 74.2L1550.1 82.4L1561.9 85.7Z" fill="#f7f31d"/><path d="M1561.9 85.7L1550.1 82.4L1540.7 94.4L1552.6 97.8Z" fill="#f5e725"/><path d="M1552.6 97.8L1540.7 94.4L1531.4 113.2L1543.2 116.8Z" fill="#feca33"/><path d="M1543.2 116.8L1531.4 113.2L1522.1 141.5L1533.9 145.3Z" fill="#c5c22a"/><path d="M1533.9 145.3L1522.1 141.5L1512.7 175.5L1524.5 179.7Z" fill="#31c6a0"/><path d="M1524.5 179.7L1512.7 175.5L1503.4 210.5L1515.2 215.1Z" fill="#2699e9"/><path d="M1515.2 215.1L1503.4 210.5L1494 239.8L1505.9 244.9Z" fill="#4756f7"/><path d="M1505.9 244.9L1494 239.8L1484.7 254.9L1496.5 260.5Z" fill="#4230c3"/><path d="M1496.5 260.5L1484.7 254.9L1475.3 260.5L1487.2 266.6Z" fill="#3e27ab"/><path d="M1487.2 266.6L1475.3 260.5L1466 262.8L1477.8 269.5Z" fill="#3e27ab"/><path d="M1477.8 269.5L1466 262.8L1456.7 264L1468.5 271.8Z" fill="#4029b3"/><path d="M1468.5 271.8L1456.7 264L1447.3 263.5L1459.1 273Z" fill="#412dbd"/><path d="M1459.1 273L1447.3 263.5L1438 260.7L1449.8 273.1Z" fill="#4434ce"/><path d="M1611.1 63.6L1599.3 60.4L1590 65.6L1601.8 68.9Z" fill="#f9fb15"/><path d="M1601.8 68.9L1590 65.6L1580.6 71L1592.4 74.2Z" fill="#f9fa15"/><path d="M1592.4 74.2L1580.6 71L1571.3 77.5L1583.1 80.7Z" fill="#f8f917"/><path d="M1583.1 80.7L1571.3 77.5L1561.9 85.7L1573.8 88.9Z" fill="#f7f31c"/><path d="M1573.8 88.9L1561.9 85.7L1552.6 97.8L1564.4 100.9Z" fill="#f5e725"/><path d="M1564.4 100.9L1552.6 97.8L1543.2 116.8L1555.1 119.7Z" fill="#fdcb33"/><path d="M1555.1 119.7L1543.2 116.8L1533.9 145.3L1545.7 148Z" fill="#c6c22a"/><path d="M1545.7 148L1533.9 145.3L1524.5 179.7L1536.4 182Z" fill="#32c69f"/><path d="M1536.4 182L1524.5 179.7L1515.2 215.1L1527 217Z" fill="#269ae8"/><path d="M1527 217L1515.2 215.1L1505.9 244.9L1517.7 246.2Z" fill="#4758f8"/><path d="M1517.7 246.2L1505.9 244.9L1496.5 260.5L1508.4 261.4Z" fill="#4331c7"/><path d="M1508.4 261.4L1496.5 260.5L1487.2 266.6L1499 267Z" fill="#3f28ae"/><path d="M1499 267L1487.2 266.6L1477.8 269.5L1489.7 269.3Z" fill="#3f28af"/><path d="M1489.7 269.3L1477.8 269.5L1468.5 271.8L1480.3 270.5Z" fill="#402bb8"/><path d="M1480.3 270.5L1468.5 271.8L1459.1 273L1471 270Z" fill="#4330c5"/><path d="M1471 270L1459.1 273L1449.8 273.1L1461.6 267.2Z" fill="#4538d8"/><path d="M1623 66.9L1611.1 63.6L1601.8 68.9L1613.6 72.1Z" fill="#f9fb15"/><path d="M1613.6 72.1L1601.8 68.9L1592.4 74.2L1604.3 77.5Z" fill="#f9fa15"/><path d="M1604.3 77.5L1592.4 74.2L1583.1 80.7L1594.9 83.9Z" fill="#f8f917"/><path d="M1594.9 83.9L1583.1 80.7L1573.8 88.9L1585.6 92Z" fill="#f7f41c"/><path d="M1585.6 92L1573.8 88.9L1564.4 100.9L1576.2 103.7Z" fill="#f5e725"/><path d="M1576.2 103.7L1564.4 100.9L1555.1 119.7L1566.9 121.9Z" fill="#fdcc32"/><path d="M1566.9 121.9L1555.1 119.7L1545.7 148L1557.6 149.6Z" fill="#ccc028"/><path d="M1557.6 149.6L1545.7 148L1536.4 182L1548.2 182.7Z" fill="#36c898"/><path d="M1548.2 182.7L1536.4 182L1527 217L1538.9 216.4Z" fill="#249fe5"/><path d="M1538.9 216.4L1527 217L1517.7 246.2L1529.5 244.4Z" fill="#465ffb"/><path d="M1529.5 244.4L1517.7 246.2L1508.4 261.4L1520.2 258.8Z" fill="#4537d6"/><path d="M1520.2 258.8L1508.4 261.4L1499 267L1510.8 263.9Z" fill="#412ebe"/><path d="M1510.8 263.9L1499 267L1489.7 269.3L1501.5 265.7Z" fill="#422fc0"/><path d="M1501.5 265.7L1489.7 269.3L1480.3 270.5L1492.2 266.1Z" fill="#4433cc"/><path d="M1492.2 266.1L1480.3 270.5L1471 270L1482.8 264.6Z" fill="#463bdc"/><path d="M1482.8 264.6L1471 270L1461.6 267.2L1473.5 260.7Z" fill="#4848ec"/><path d="M1634.8 70.1L1623 66.9L1613.6 72.1L1625.5 75.3Z" fill="#f9fb15"/><path d="M1625.5 75.3L1613.6 72.1L1604.3 77.5L1616.1 80.7Z" fill="#f9fb15"/><path d="M1616.1 80.7L1604.3 77.5L1594.9 83.9L1606.8 87Z" fill="#f8f917"/><path d="M1606.8 87L1594.9 83.9L1585.6 92L1597.4 94.9Z" fill="#f7f41c"/><path d="M1597.4 94.9L1585.6 92L1576.2 103.7L1588.1 106.1Z" fill="#f5e924"/><path d="M1588.1 106.1L1576.2 103.7L1566.9 121.9L1578.7 123.4Z" fill="#fccf30"/><path d="M1578.7 123.4L1566.9 121.9L1557.6 149.6L1569.4 150.1Z" fill="#d6be28"/><path d="M1569.4 150.1L1557.6 149.6L1548.2 182.7L1560 181.8Z" fill="#40ca8d"/><path d="M1560 181.8L1548.2 182.7L1538.9 216.4L1550.7 213.6Z" fill="#1ea8e1"/><path d="M1550.7 213.6L1538.9 216.4L1529.5 244.4L1541.4 239.9Z" fill="#406dfe"/><path d="M1541.4 239.9L1529.5 244.4L1520.2 258.8L1532 253.3Z" fill="#4745e9"/><path d="M1532 253.3L1520.2 258.8L1510.8 263.9L1522.7 258.2Z" fill="#4539d9"/><path d="M1522.7 258.2L1510.8 263.9L1501.5 265.7L1513.3 259.7Z" fill="#463bdc"/><path d="M1513.3 259.7L1501.5 265.7L1492.2 266.1L1504 259.8Z" fill="#4742e6"/><path d="M1504 259.8L1492.2 266.1L1482.8 264.6L1494.6 258Z" fill="#484df0"/><path d="M1494.6 258L1482.8 264.6L1473.5 260.7L1485.3 253.9Z" fill="#465dfa"/><path d="M1646.6 73.4L1634.8 70.1L1625.5 75.3L1637.3 78.6Z" fill="#f9fb15"/><path d="M1637.3 78.6L1625.5 75.3L1616.1 80.7L1627.9 83.9Z" fill="#f9fb15"/><path d="M1627.9 83.9L1616.1 80.7L1606.8 87L1618.6 90.1Z" fill="#f9f916"/><path d="M1618.6 90.1L1606.8 87L1597.4 94.9L1609.3 97.7Z" fill="#f7f51b"/><path d="M1609.3 97.7L1597.4 94.9L1588.1 106.1L1599.9 108.2Z" fill="#f5eb23"/><path d="M1599.9 108.2L1588.1 106.1L1578.7 123.4L1590.6 124.3Z" fill="#fbd32e"/><path d="M1590.6 124.3L1578.7 123.4L1569.4 150.1L1581.2 149.7Z" fill="#e3bb2c"/><path d="M1581.2 149.7L1569.4 150.1L1560 181.8L1571.9 179.5Z" fill="#56cc7a"/><path d="M1571.9 179.5L1560 181.8L1550.7 213.6L1562.5 208.8Z" fill="#0fb2d5"/><path d="M1562.5 208.8L1550.7 213.6L1541.4 239.9L1553.2 233Z" fill="#2f81fa"/><path d="M1553.2 233L1541.4 239.9L1532 253.3L1543.9 245.4Z" fill="#4759f8"/><path d="M1543.9 245.4L1532 253.3L1522.7 258.2L1534.5 250.2Z" fill="#484ef1"/><path d="M1534.5 250.2L1522.7 258.2L1513.3 259.7L1525.2 251.8Z" fill="#4850f3"/><path d="M1525.2 251.8L1513.3 259.7L1504 259.8L1515.8 252Z" fill="#4758f8"/><path d="M1515.8 252L1504 259.8L1494.6 258L1506.5 250.5Z" fill="#4464fd"/><path d="M1506.5 250.5L1494.6 258L1485.3 253.9L1497.1 246.9Z" fill="#3776fe"/><path d="M1658.5 76.6L1646.6 73.4L1637.3 78.6L1649.1 81.8Z" fill="#f9fb15"/><path d="M1649.1 81.8L1637.3 78.6L1627.9 83.9L1639.8 87.1Z" fill="#f9fb15"/><path d="M1639.8 87.1L1627.9 83.9L1618.6 90.1L1630.4 93.1Z" fill="#f9fa16"/><path d="M1630.4 93.1L1618.6 90.1L1609.3 97.7L1621.1 100.3Z" fill="#f7f61a"/><path d="M1621.1 100.3L1609.3 97.7L1599.9 108.2L1611.7 110.1Z" fill="#f5ed22"/><path d="M1611.7 110.1L1599.9 108.2L1590.6 124.3L1602.4 124.7Z" fill="#f8d92c"/><path d="M1602.4 124.7L1590.6 124.3L1581.2 149.7L1593.1 148.5Z" fill="#f2ba38"/><path d="M1593.1 148.5L1581.2 149.7L1571.9 179.5L1583.7 175.9Z" fill="#76cc60"/><path d="M1583.7 175.9L1571.9 179.5L1562.5 208.8L1574.4 202.3Z" fill="#07bcc0"/><path d="M1574.4 202.3L1562.5 208.8L1553.2 233L1565 224Z" fill="#2797ea"/><path d="M1565 224L1553.2 233L1543.9 245.4L1555.7 235.4Z" fill="#3876fe"/><path d="M1555.7 235.4L1543.9 245.4L1534.5 250.2L1546.3 240.3Z" fill="#426afe"/><path d="M1546.3 240.3L1534.5 250.2L1525.2 251.8L1537 242.4Z" fill="#406cfe"/><path d="M1537 242.4L1525.2 251.8L1515.8 252L1527.7 243.1Z" fill="#3875fe"/><path d="M1527.7 243.1L1515.8 252L1506.5 250.5L1518.3 242.3Z" fill="#2f82fa"/><path d="M1518.3 242.3L1506.5 250.5L1497.1 246.9L1509 239.8Z" fill="#2b91ef"/><path d="M1670.3 79.9L1658.5 76.6L1649.1 81.8L1661 85Z" fill="#f9fb15"/><path d="M1661 85L1649.1 81.8L1639.8 87.1L1651.6 90.3Z" fill="#f9fb15"/><path d="M1651.6 90.3L1639.8 87.1L1630.4 93.1L1642.3 96.1Z" fill="#f9fa16"/><path d="M1642.3 96.1L1630.4 93.1L1621.1 100.3L1632.9 102.9Z" fill="#f8f719"/><path d="M1632.9 102.9L1621.1 100.3L1611.7 110.1L1623.6 111.7Z" fill="#f6ef20"/><path d="M1623.6 111.7L1611.7 110.1L1602.4 124.7L1614.2 124.5Z" fill="#f6df29"/><path d="M1614.2 124.5L1602.4 124.7L1593.1 148.5L1604.9 146.5Z" fill="#febe3c"/><path d="M1604.9 146.5L1593.1 148.5L1583.7 175.9L1595.5 171.2Z" fill="#9fc942"/><path d="M1595.5 171.2L1583.7 175.9L1574.4 202.3L1586.2 194.2Z" fill="#2fc5a3"/><path d="M1586.2 194.2L1574.4 202.3L1565 224L1576.9 213.1Z" fill="#16afda"/><path d="M1576.9 213.1L1565 224L1555.7 235.4L1567.5 223.5Z" fill="#2896eb"/><path d="M1567.5 223.5L1555.7 235.4L1546.3 240.3L1558.2 228.8Z" fill="#2d8df2"/><path d="M1558.2 228.8L1546.3 240.3L1537 242.4L1548.8 231.7Z" fill="#2c8ff1"/><path d="M1548.8 231.7L1537 242.4L1527.7 243.1L1539.5 233.2Z" fill="#2995ec"/><path d="M1539.5 233.2L1527.7 243.1L1518.3 242.3L1530.1 233.5Z" fill="#249ee6"/><path d="M1530.1 233.5L1518.3 242.3L1509 239.8L1520.8 232.6Z" fill="#1da9e0"/><path d="M1682.1 83.1L1670.3 79.9L1661 85L1672.8 88.3Z" fill="#f9fb15"/><path d="M1672.8 88.3L1661 85L1651.6 90.3L1663.4 93.5Z" fill="#f9fb15"/><path d="M1663.4 93.5L1651.6 90.3L1642.3 96.1L1654.1 99.1Z" fill="#f9fa15"/><path d="M1654.1 99.1L1642.3 96.1L1632.9 102.9L1644.8 105.5Z" fill="#f8f818"/><path d="M1644.8 105.5L1632.9 102.9L1623.6 111.7L1635.4 113.2Z" fill="#f6f21d"/><path d="M1635.4 113.2L1623.6 111.7L1614.2 124.5L1626.1 124.1Z" fill="#f5e625"/><path d="M1626.1 124.1L1614.2 124.5L1604.9 146.5L1616.7 144.1Z" fill="#fdcb33"/><path d="M1616.7 144.1L1604.9 146.5L1595.5 171.2L1607.4 165.7Z" fill="#c8c129"/><path d="M1607.4 165.7L1595.5 171.2L1586.2 194.2L1598 185Z" fill="#57cc7a"/><path d="M1598 185L1586.2 194.2L1576.9 213.1L1588.7 201Z" fill="#1bc0b4"/><path d="M1588.7 201L1576.9 213.1L1567.5 223.5L1579.4 210.3Z" fill="#0ab4d1"/><path d="M1579.4 210.3L1567.5 223.5L1558.2 228.8L1570 216.1Z" fill="#17aeda"/><path d="M1570 216.1L1558.2 228.8L1548.8 231.7L1560.7 220Z" fill="#17aeda"/><path d="M1560.7 220L1548.8 231.7L1539.5 233.2L1551.3 222.6Z" fill="#11b1d5"/><path d="M1551.3 222.6L1539.5 233.2L1530.1 233.5L1542 224.4Z" fill="#04b6cd"/><path d="M1542 224.4L1530.1 233.5L1520.8 232.6L1532.6 225.3Z" fill="#05bbc1"/><path d="M1694 86.4L1682.1 83.1L1672.8 88.3L1684.6 91.5Z" fill="#f9fb15"/><path d="M1684.6 91.5L1672.8 88.3L1663.4 93.5L1675.3 96.7Z" fill="#f9fb15"/><path d="M1675.3 96.7L1663.4 93.5L1654.1 99.1L1665.9 102.1Z" fill="#f9fa15"/><path d="M1665.9 102.1L1654.1 99.1L1644.8 105.5L1656.6 108Z" fill="#f8f917"/><path d="M1656.6 108L1644.8 105.5L1635.4 113.2L1647.2 114.7Z" fill="#f7f51b"/><path d="M1647.2 114.7L1635.4 113.2L1626.1 124.1L1637.9 123.5Z" fill="#f5ee21"/><path d="M1637.9 123.5L1626.1 124.1L1616.7 144.1L1628.6 141.4Z" fill="#f8d92c"/><path d="M1628.6 141.4L1616.7 144.1L1607.4 165.7L1619.2 159.9Z" fill="#ebba32"/><path d="M1619.2 159.9L1607.4 165.7L1598 185L1609.9 175.4Z" fill="#9bc945"/><path d="M1609.9 175.4L1598 185L1588.7 201L1600.5 188.2Z" fill="#53cc7e"/><path d="M1600.5 188.2L1588.7 201L1579.4 210.3L1591.2 196.4Z" fill="#33c69d"/><path d="M1591.2 196.4L1579.4 210.3L1570 216.1L1581.8 202.8Z" fill="#2cc4a7"/><path d="M1581.8 202.8L1570 216.1L1560.7 220L1572.5 207.7Z" fill="#2ac3a9"/><path d="M1572.5 207.7L1560.7 220L1551.3 222.6L1563.2 211.7Z" fill="#2cc4a7"/><path d="M1563.2 211.7L1551.3 222.6L1542 224.4L1553.8 215.1Z" fill="#31c6a0"/><path d="M1553.8 215.1L1542 224.4L1532.6 225.3L1544.5 217.9Z" fill="#37c897"/><path d="M1705.8 89.6L1694 86.4L1684.6 91.5L1696.5 94.7Z" fill="#f9fb15"/><path d="M1696.5 94.7L1684.6 91.5L1675.3 96.7L1687.1 99.9Z" fill="#f9fb15"/><path d="M1687.1 99.9L1675.3 96.7L1665.9 102.1L1677.8 105.1Z" fill="#f9fb15"/><path d="M1677.8 105.1L1665.9 102.1L1656.6 108L1668.4 110.7Z" fill="#f9fa15"/><path d="M1668.4 110.7L1656.6 108L1647.2 114.7L1659.1 116.5Z" fill="#f8f818"/><path d="M1659.1 116.5L1647.2 114.7L1637.9 123.5L1649.7 123.7Z" fill="#f7f41c"/><path d="M1649.7 123.7L1637.9 123.5L1628.6 141.4L1640.4 139.8Z" fill="#f5e526"/><path d="M1640.4 139.8L1628.6 141.4L1619.2 159.9L1631 155.6Z" fill="#fec03a"/><path d="M1631 155.6L1619.2 159.9L1609.9 175.4L1621.7 167.6Z" fill="#d4bf27"/><path d="M1621.7 167.6L1609.9 175.4L1600.5 188.2L1612.4 177.3Z" fill="#a7c73c"/><path d="M1612.4 177.3L1600.5 188.2L1591.2 196.4L1603 184.3Z" fill="#88cb53"/><path d="M1603 184.3L1591.2 196.4L1581.8 202.8L1593.7 190.8Z" fill="#7acc5d"/><path d="M1593.7 190.8L1581.8 202.8L1572.5 207.7L1584.3 196.4Z" fill="#73cd63"/><path d="M1584.3 196.4L1572.5 207.7L1563.2 211.7L1575 201.2Z" fill="#72cd63"/><path d="M1575 201.2L1563.2 211.7L1553.8 215.1L1565.6 205.9Z" fill="#77cc60"/><path d="M1565.6 205.9L1553.8 215.1L1544.5 217.9L1556.3 210.4Z" fill="#7dcc5b"/></g>
<path d="M1343.3 258.4L1556.3 316.8L1705.8 234.5M1343.3 258.4L1343.3 113.5M1556.3 316.8L1556.3 171.9M1705.8 234.5L1705.8 89.6M1343.3 113.5L1556.3 171.9L1705.8 89.6L1492.8 31.2Z" fill="none" stroke="#1a1a1a" stroke-width="1.6" stroke-linejoin="round"/>
<path d="M1556.3 316.8L1551.5 319.5M1705.8 234.5L1712.1 236.2M1488.5 298.2L1483.7 300.9M1658.2 260.7L1664.5 262.4M1420.7 279.6L1415.9 282.3M1610.6 286.9L1616.9 288.6M1352.9 261L1348.1 263.7M1563 313.1L1569.3 314.8" stroke="#1a1a1a" stroke-width="1.4" fill="none"/><path d="M1343.3 245.2L1339 244M1343.3 232.1L1339 230.9M1343.3 218.9L1339 217.7M1343.3 205.7L1339 204.5M1343.3 192.5L1339 191.3M1343.3 179.4L1339 178.2M1343.3 166.2L1339 165M1343.3 153L1339 151.8M1343.3 139.8L1339 138.7M1343.3 126.7L1339 125.5" stroke="#9a9a9a" stroke-width="0.8" fill="none"/>
<text x="1238" y="87.7" font-size="22" textLength="140" lengthAdjust="spacing">Energy density</text>
<text x="1335.8" y="124" font-size="22" text-anchor="end" letter-spacing="0.75">-0.189</text>
<text x="1335.8" y="166.5" font-size="22" text-anchor="end" letter-spacing="0.75">-0.190</text>
<text x="1335.8" y="210" font-size="22" text-anchor="end" letter-spacing="0.75">-0.191</text>
<text x="1335.8" y="255.2" font-size="22" text-anchor="end" letter-spacing="0.75">-0.192</text>
<text x="1335" y="282.7" font-size="22">1.5</text>
<text x="1301.7" y="304.6" font-size="22" letter-spacing="0.3">[010]</text>
<text x="1365.8" y="307.9" font-size="28" font-style="italic" fill="#3a3a3a">ψ</text>
<text x="1400.3" y="300.4" font-size="22">1.0</text>
<text x="1469.1" y="318.5" font-size="22">0.5</text>
<text x="1542.9" y="335.6" font-size="22">0</text>
<text x="1529.7" y="359.2" font-size="22" letter-spacing="0.3">[100]</text>
<text x="1571.5" y="330.2" font-size="22">1.5</text>
<text x="1619.5" y="306.4" font-size="22">1.0</text>
<text x="1667.7" y="276.8" font-size="22">0.5</text>
<text x="1716.5" y="246.9" font-size="22">0</text>
<text x="1705.9" y="271" font-size="22" letter-spacing="0.3">[001]</text>
<text x="1668.8" y="305.4" font-size="30" font-style="italic" fill="#3a3a3a">α</text>
<text x="1391.5" y="329.2" font-size="22" fill="#cb1226" letter-spacing="0.3">[110]</text>
<text x="1448" y="318.3" font-size="21" font-weight="bold" fill="#cb1226">h</text>
<path d="M1453.1 287.5L1428.1 305.6M1439.1 305L1428.1 305.6L1432.1 295.3" fill="none" stroke="#cb1226" stroke-width="3.2" stroke-linecap="round" stroke-linejoin="miter"/>
<text x="1325.9" y="363.9" font-size="29.5"><tspan font-style="italic">h</tspan> = 0.10</text>
<text x="1254.5" y="32.5" font-size="40.5" font-weight="bold" font-family="Liberation Sans, sans-serif" fill="#000">G</text>
<circle cx="1493.8" cy="266.2" r="5.3" fill="#0d9be8" stroke="#1b35b0" stroke-width="1.4"/>
<text x="1475" y="230" font-size="23" font-weight="bold" fill="#ffffff">Q<tspan font-size="17" font-weight="normal" dx="0.5" dy="9.2">5</tspan></text></g>
<g id="pH"><path d="M1357.2 610.1L1506.8 527.8M1354.1 603.1L1567.1 661.5M1354.1 603.1L1354.1 458.2M1506.8 527.8L1506.8 382.9M1367.9 613L1517.4 530.7M1361.5 599L1574.5 657.4M1361.5 599L1361.5 454.1M1517.4 530.7L1517.4 385.8M1378.5 616L1528 533.7M1369 594.9L1582 653.3M1369 594.9L1369 450M1528 533.7L1528 388.8M1389.2 618.9L1538.7 536.6M1376.5 590.7L1589.5 649.1M1376.5 590.7L1376.5 445.8M1538.7 536.6L1538.7 391.7M1399.8 621.8L1549.3 539.5M1384 586.6L1597 645M1384 586.6L1384 441.7M1549.3 539.5L1549.3 394.6M1410.5 624.7L1560 542.4M1391.4 582.5L1604.4 640.9M1391.4 582.5L1391.4 437.6M1560 542.4L1560 397.5M1421.1 627.6L1570.6 545.3M1398.9 578.4L1611.9 636.8M1398.9 578.4L1398.9 433.5M1570.6 545.3L1570.6 400.4M1431.8 630.6L1581.3 548.3M1406.4 574.3L1619.4 632.7M1406.4 574.3L1406.4 429.4M1581.3 548.3L1581.3 403.4M1442.4 633.5L1591.9 551.2M1413.9 570.2L1626.9 628.6M1413.9 570.2L1413.9 425.3M1591.9 551.2L1591.9 406.3M1453.1 636.4L1602.6 554.1M1421.3 566.1L1634.3 624.5M1421.3 566.1L1421.3 421.2M1602.6 554.1L1602.6 409.2M1463.8 639.3L1613.2 557M1428.8 561.9L1641.8 620.3M1428.8 561.9L1428.8 417M1613.2 557L1613.2 412.1M1474.4 642.2L1623.9 559.9M1436.3 557.8L1649.3 616.2M1436.3 557.8L1436.3 412.9M1623.9 559.9L1623.9 415M1485 645.2L1634.5 562.9M1443.8 553.7L1656.8 612.1M1443.8 553.7L1443.8 408.8M1634.5 562.9L1634.5 418M1495.7 648.1L1645.2 565.8M1451.2 549.6L1664.2 608M1451.2 549.6L1451.2 404.7M1645.2 565.8L1645.2 420.9M1506.3 651L1655.8 568.7M1458.7 545.5L1671.7 603.9M1458.7 545.5L1458.7 400.6M1655.8 568.7L1655.8 423.8M1517 653.9L1666.5 571.6M1466.2 541.4L1679.2 599.8M1466.2 541.4L1466.2 396.5M1666.5 571.6L1666.5 426.7M1527.6 656.8L1677.1 574.5M1473.7 537.2L1686.7 595.6M1473.7 537.2L1473.7 392.3M1677.1 574.5L1677.1 429.6M1538.3 659.8L1687.8 577.5M1481.1 533.1L1694.1 591.5M1481.1 533.1L1481.1 388.2M1687.8 577.5L1687.8 432.6M1548.9 662.7L1698.4 580.4M1488.6 529L1701.6 587.4M1488.6 529L1488.6 384.1M1698.4 580.4L1698.4 435.5M1346.6 602L1496.1 519.7L1709.1 578.1M1346.6 596.9L1496.1 514.6L1709.1 573M1346.6 591.7L1496.1 509.4L1709.1 567.8M1346.6 586.5L1496.1 504.2L1709.1 562.6M1346.6 581.3L1496.1 499L1709.1 557.4M1346.6 576.2L1496.1 493.9L1709.1 552.3M1346.6 571L1496.1 488.7L1709.1 547.1M1346.6 565.8L1496.1 483.5L1709.1 541.9M1346.6 560.6L1496.1 478.3L1709.1 536.7M1346.6 555.5L1496.1 473.2L1709.1 531.6M1346.6 550.3L1496.1 468L1709.1 526.4M1346.6 545.1L1496.1 462.8L1709.1 521.2M1346.6 539.9L1496.1 457.6L1709.1 516M1346.6 534.8L1496.1 452.5L1709.1 510.9M1346.6 529.6L1496.1 447.3L1709.1 505.7M1346.6 524.4L1496.1 442.1L1709.1 500.5M1346.6 519.2L1496.1 436.9L1709.1 495.3M1346.6 514.1L1496.1 431.8L1709.1 490.2M1346.6 508.9L1496.1 426.6L1709.1 485M1346.6 503.7L1496.1 421.4L1709.1 479.8M1346.6 498.5L1496.1 416.2L1709.1 474.6M1346.6 493.4L1496.1 411.1L1709.1 469.5M1346.6 488.2L1496.1 405.9L1709.1 464.3M1346.6 483L1496.1 400.7L1709.1 459.1M1346.6 477.8L1496.1 395.5L1709.1 453.9M1346.6 472.7L1496.1 390.4L1709.1 448.8M1346.6 467.5L1496.1 385.2L1709.1 443.6" fill="none" stroke="#e9e9e9" stroke-width="0.5"/>
<path d="M1346.6 607.2L1496.1 524.9L1709.1 583.3M1496.1 524.9L1496.1 380" fill="none" stroke="#1a1a1a" stroke-width="1.6"/>
<path d="M1467.2 640.3L1476.2 635L1478.2 632.3L1476.3 627.4L1473.6 625.1L1467.3 624.9L1454.6 625.8L1448.7 627.5L1439 632.5" fill="none" stroke="#4536d3" stroke-width="1.2" stroke-opacity="0.9"/>
<path d="M1480.9 644L1492.8 639.6L1501 634.1L1505.5 627.6L1505.4 627.1L1500 620.3L1490.2 616L1476.3 613.9L1458.1 614.1L1456.8 614.3L1442.5 618.1L1432.1 622.9L1425.3 628.8" fill="none" stroke="#4852f4" stroke-width="1.2" stroke-opacity="0.9"/>
<path d="M1492.8 647.3L1505.5 643.1L1515.3 638L1522.4 632.3L1524.8 626.2L1524.8 625.2L1520.2 619L1512.9 614.3L1512 613.8L1501.1 610L1488.3 607.3L1486.7 607.1L1472.9 606L1456.2 606.4L1453.8 606.7L1439.8 609.6L1428.3 614.2L1419.3 619.4L1413.4 625.5" fill="none" stroke="#3d71ff" stroke-width="1.2" stroke-opacity="0.9"/>
<path d="M1503.7 650.3L1516.6 646.1L1526.9 641.2L1535.4 635.9L1540.6 629.6L1541.2 627L1540.1 621.7L1538.1 618.9L1530.6 613.2L1521.8 609L1521.1 608.7L1509.9 605.1L1497.5 602.2L1496.5 602.1L1483.3 600.3L1467.1 599.4L1459.5 599.6L1446.5 601L1440.3 602.1L1426.8 606.1L1416.6 611L1408.3 616.4L1402.5 622.5" fill="none" stroke="#2c8ff1" stroke-width="1.2" stroke-opacity="0.9"/>
<path d="M1513.9 653.1L1526.6 648.8L1537.2 644L1546.5 638.9L1553.3 633L1555.7 628.7L1556.4 626.2L1554.6 619.6L1553 617.5L1547.9 613.5L1539.1 608.6L1528.9 604.4L1517.6 600.9L1505.2 597.9L1491.8 595.6L1476.9 594L1465.4 593.5L1459.9 593.6L1443.2 595.2L1437.4 596.3L1427.7 598.6L1415.8 603.1L1406.4 608.2L1398.3 613.7L1392.3 619.7" fill="none" stroke="#1da8e0" stroke-width="1.2" stroke-opacity="0.9"/>
<path d="M1523.6 655.7L1525.6 655.1L1536 651.4L1546.6 646.6L1556.4 641.6L1564.3 636.1L1568.4 631.5L1569.6 629.8L1570.9 622.5L1570.2 620.7L1564.5 614.1L1562 612.3L1556.2 608.9L1546.5 604.5L1535.8 600.6L1524.4 597.2L1512.2 594.1L1499.1 591.5L1485.2 589.5L1475 588.5L1469.8 588.2L1451.9 588.3L1447.4 588.6L1430.1 591.6L1426.4 592.6L1416.6 595.6L1405.9 600.3L1397 605.6L1388.9 611.1L1383.6 616.1L1382.6 617.1" fill="none" stroke="#02bbc3" stroke-width="1.2" stroke-opacity="0.9"/>
<path d="M1532.8 658.3L1544.8 653.8L1548.5 652.2L1555.4 649L1565.6 644.1L1574.4 638.8L1577.7 636.1L1581.1 633L1585.4 626.4L1585.2 622.2L1583.4 618.2L1580.4 615.1L1572.6 609.6L1564.1 605.2L1563.5 604.9L1553.2 600.8L1542.2 597.1L1530.7 593.7L1518.5 590.6L1505.8 587.9L1492.5 585.4L1491.6 585.3L1478 583.7L1462.1 582.7L1453.6 582.6L1443.2 583.3L1432.9 584.6L1418.5 588.4L1412 590.7L1406.5 592.8L1396.6 597.8L1388.1 603.2L1382.9 606.8L1380.1 608.7L1373.4 614.5" fill="none" stroke="#33c69d" stroke-width="1.2" stroke-opacity="0.9"/>
<path d="M1541.8 660.7L1553.2 656.1L1563.8 651.3L1574.4 646.5L1584 641.5L1592 636L1598.6 630.1L1600.6 623.5L1600.6 622.9L1596.3 616.1L1592.8 613.1L1588.7 610.5L1579.6 605.8L1569.7 601.5L1559.2 597.5L1548.1 593.9L1536.5 590.5L1524.4 587.4L1511.8 584.6L1498.7 582L1484.9 579.9L1470.4 578.1L1462.9 577.4L1454.3 577.2L1436.4 577.9L1434.9 578.1L1419.7 581L1407.6 585.4L1397 590.2L1387.9 595.4L1379.8 600.9L1371.7 606.4L1364.4 612.1" fill="none" stroke="#6bcd69" stroke-width="1.2" stroke-opacity="0.9"/>
<path d="M1550.6 663.1L1561.5 658.4L1572.2 653.6L1583.4 649L1594.1 644.2L1603.6 639.1L1612.4 633.8L1616.9 627.4L1616.4 624.6L1614.4 619L1612.2 617.1L1604.3 611.7L1595.5 606.8L1592.3 605.2L1586.1 602.2L1576.1 598L1565.4 594.1L1554.3 590.4L1542.7 587.1L1530.6 584L1518.1 581.1L1505.1 578.5L1491.5 576.3L1482.1 575L1477.2 574.3L1462.3 572.8L1446.5 571.7L1441.3 571.5L1427 572.7L1420.1 573.4L1405.9 577.2L1396.1 582.2L1386.9 587.4L1378.8 592.9L1371.4 598.6L1363.4 604.1L1355.6 609.7" fill="none" stroke="#b6c532" stroke-width="1.2" stroke-opacity="0.9"/>
<path d="M1635.4 623.9L1627.9 618.3L1620.5 612.9L1620.2 612.7L1611.9 607.5L1602.8 602.8L1593 598.4L1587.3 596.1L1582.8 594.3L1572.1 590.4L1560.9 586.8L1549.3 583.4L1537.3 580.3L1524.8 577.4L1511.8 574.8L1505.7 573.8L1498.4 572.4L1484.5 570.3L1469.9 568.6L1454.5 567.3L1453.9 567.3L1438.6 566.3L1422.4 565.5M1559.1 665.5L1563.3 663.6M1350.3 605.2L1347.1 607.3" fill="none" stroke="#f0ba36" stroke-width="1.2" stroke-opacity="0.9"/>
<path d="M1645.5 618.3L1637.3 613.1L1629 607.9L1627.8 607.2L1620.9 602.6L1611.7 597.9L1601.5 593.7L1590.8 589.9L1582.5 587.1L1579.9 586.1L1568.7 582.5L1557.1 579.1L1545.1 576L1532.5 573.2L1529.2 572.5L1519.8 570.4L1506.9 567.8L1493.3 565.5L1478.9 563.6L1465.3 562.7L1463.3 562.5L1447.9 561.2L1432.5 559.9" fill="none" stroke="#fbd12f" stroke-width="1.2" stroke-opacity="0.9"/>
<path d="M1660.4 610.1L1656.4 607.4L1653.8 604L1646.6 598.2L1642.2 595.8L1638.5 592.9L1629.4 588.1L1619.1 584L1608.3 580.3L1597 576.7L1585.5 573.3L1573.7 570L1561.8 566.8L1549.7 563.7L1537.3 560.8L1524.5 558.1L1511.1 555.7L1496.5 554L1488.2 553.6L1481 552.7L1464.4 552.1L1455.3 552.3L1447.4 551.7" fill="none" stroke="#f6f21e" stroke-width="1.2" stroke-opacity="0.9"/>
<g fill-opacity="0.70" stroke="#151515" stroke-opacity="0.95" stroke-width="1.20" stroke-linejoin="round"><path d="M1507.9 383.2L1496.1 380L1486.8 385.1L1498.6 388.4Z" fill="#f9fb15"/><path d="M1498.6 388.4L1486.8 385.1L1477.4 390.3L1489.2 393.6Z" fill="#f9fb15"/><path d="M1489.2 393.6L1477.4 390.3L1468.1 395.6L1479.9 399.2Z" fill="#f9fb15"/><path d="M1479.9 399.2L1468.1 395.6L1458.7 401.1L1470.6 405.4Z" fill="#f8f917"/><path d="M1470.6 405.4L1458.7 401.1L1449.4 408.1L1461.2 413.3Z" fill="#f7f51b"/><path d="M1461.2 413.3L1449.4 408.1L1440 418L1451.9 424.7Z" fill="#f5eb23"/><path d="M1451.9 424.7L1440 418L1430.7 433.4L1442.5 441.4Z" fill="#fbd32e"/><path d="M1442.5 441.4L1430.7 433.4L1421.3 450L1433.2 459.2Z" fill="#edba33"/><path d="M1433.2 459.2L1421.3 450L1412 460.5L1423.8 471.6Z" fill="#afc637"/><path d="M1423.8 471.6L1412 460.5L1402.7 468.3L1414.5 481.5Z" fill="#84cc56"/><path d="M1414.5 481.5L1402.7 468.3L1393.3 473.4L1405.2 488.7Z" fill="#6bcd69"/><path d="M1405.2 488.7L1393.3 473.4L1384 477.9L1395.8 495.2Z" fill="#62cd71"/><path d="M1395.8 495.2L1384 477.9L1374.6 480.9L1386.5 499.9Z" fill="#5fcd73"/><path d="M1386.5 499.9L1374.6 480.9L1365.3 482.8L1377.1 503.1Z" fill="#67cd6c"/><path d="M1377.1 503.1L1365.3 482.8L1355.9 485.8L1367.8 506.4Z" fill="#75cc61"/><path d="M1367.8 506.4L1355.9 485.8L1346.6 489.1L1358.4 509.1Z" fill="#84cc57"/><path d="M1519.8 386.5L1507.9 383.2L1498.6 388.4L1510.4 391.6Z" fill="#f9fb15"/><path d="M1510.4 391.6L1498.6 388.4L1489.2 393.6L1501.1 396.9Z" fill="#f9fb15"/><path d="M1501.1 396.9L1489.2 393.6L1479.9 399.2L1491.7 402.9Z" fill="#f9fa15"/><path d="M1491.7 402.9L1479.9 399.2L1470.6 405.4L1482.4 409.8Z" fill="#f8f719"/><path d="M1482.4 409.8L1470.6 405.4L1461.2 413.3L1473 419Z" fill="#f6f11f"/><path d="M1473 419L1461.2 413.3L1451.9 424.7L1463.7 432.2Z" fill="#f5e228"/><path d="M1463.7 432.2L1451.9 424.7L1442.5 441.4L1454.4 450.3Z" fill="#fec537"/><path d="M1454.4 450.3L1442.5 441.4L1433.2 459.2L1445 469.5Z" fill="#cfc028"/><path d="M1445 469.5L1433.2 459.2L1423.8 471.6L1435.7 483.9Z" fill="#7ccc5c"/><path d="M1435.7 483.9L1423.8 471.6L1414.5 481.5L1426.3 495.8Z" fill="#48cb87"/><path d="M1426.3 495.8L1414.5 481.5L1405.2 488.7L1417 505.2Z" fill="#32c69f"/><path d="M1417 505.2L1405.2 488.7L1395.8 495.2L1407.6 513.4Z" fill="#28c2ab"/><path d="M1407.6 513.4L1395.8 495.2L1386.5 499.9L1398.3 519.4Z" fill="#1ec0b2"/><path d="M1398.3 519.4L1386.5 499.9L1377.1 503.1L1389 523.4Z" fill="#1dc0b3"/><path d="M1389 523.4L1377.1 503.1L1367.8 506.4L1379.6 526.8Z" fill="#24c2ae"/><path d="M1379.6 526.8L1367.8 506.4L1358.4 509.1L1370.3 528.5Z" fill="#2cc4a7"/><path d="M1531.6 389.7L1519.8 386.5L1510.4 391.6L1522.3 394.9Z" fill="#f9fb15"/><path d="M1522.3 394.9L1510.4 391.6L1501.1 396.9L1512.9 400.2Z" fill="#f9fb15"/><path d="M1512.9 400.2L1501.1 396.9L1491.7 402.9L1503.6 406.6Z" fill="#f9fa16"/><path d="M1503.6 406.6L1491.7 402.9L1482.4 409.8L1494.2 414.3Z" fill="#f7f51b"/><path d="M1494.2 414.3L1482.4 409.8L1473 419L1484.9 424.6Z" fill="#f5ec22"/><path d="M1484.9 424.6L1473 419L1463.7 432.2L1475.5 439.7Z" fill="#f8d82c"/><path d="M1475.5 439.7L1463.7 432.2L1454.4 450.3L1466.2 459Z" fill="#f8ba3d"/><path d="M1466.2 459L1454.4 450.3L1445 469.5L1456.8 479.5Z" fill="#abc739"/><path d="M1456.8 479.5L1445 469.5L1435.7 483.9L1447.5 495.8Z" fill="#4ccb82"/><path d="M1447.5 495.8L1435.7 483.9L1426.3 495.8L1438.2 509.6Z" fill="#27c2ac"/><path d="M1438.2 509.6L1426.3 495.8L1417 505.2L1428.8 521Z" fill="#02bac4"/><path d="M1428.8 521L1417 505.2L1407.6 513.4L1419.5 530.6Z" fill="#0db3d4"/><path d="M1419.5 530.6L1407.6 513.4L1398.3 519.4L1410.1 537.9Z" fill="#19acdc"/><path d="M1410.1 537.9L1398.3 519.4L1389 523.4L1400.8 542.7Z" fill="#1baadf"/><path d="M1400.8 542.7L1389 523.4L1379.6 526.8L1391.4 546.2Z" fill="#1aacdd"/><path d="M1391.4 546.2L1379.6 526.8L1370.3 528.5L1382.1 547.2Z" fill="#14b0d8"/><path d="M1543.4 393L1531.6 389.7L1522.3 394.9L1534.1 398.1Z" fill="#f9fb15"/><path d="M1534.1 398.1L1522.3 394.9L1512.9 400.2L1524.7 403.5Z" fill="#f9fb15"/><path d="M1524.7 403.5L1512.9 400.2L1503.6 406.6L1515.4 410.3Z" fill="#f9f916"/><path d="M1515.4 410.3L1503.6 406.6L1494.2 414.3L1506.1 418.7Z" fill="#f7f31d"/><path d="M1506.1 418.7L1494.2 414.3L1484.9 424.6L1496.7 430Z" fill="#f5e725"/><path d="M1496.7 430L1484.9 424.6L1475.5 439.7L1487.4 446.7Z" fill="#fcd030"/><path d="M1487.4 446.7L1475.5 439.7L1466.2 459L1478 467.1Z" fill="#e5bb2d"/><path d="M1478 467.1L1466.2 459L1456.8 479.5L1468.7 488.8Z" fill="#85cb55"/><path d="M1468.7 488.8L1456.8 479.5L1447.5 495.8L1459.3 506.8Z" fill="#31c69f"/><path d="M1459.3 506.8L1447.5 495.8L1438.2 509.6L1450 522.3Z" fill="#01b9c7"/><path d="M1450 522.3L1438.2 509.6L1428.8 521L1440.7 535.4Z" fill="#1baade"/><path d="M1440.7 535.4L1428.8 521L1419.5 530.6L1431.3 546.5Z" fill="#259ce7"/><path d="M1431.3 546.5L1419.5 530.6L1410.1 537.9L1422 554.9Z" fill="#2b91ef"/><path d="M1422 554.9L1410.1 537.9L1400.8 542.7L1412.6 560.6Z" fill="#2d8cf3"/><path d="M1412.6 560.6L1400.8 542.7L1391.4 546.2L1403.3 564.4Z" fill="#2d8cf3"/><path d="M1403.3 564.4L1391.4 546.2L1382.1 547.2L1393.9 565.2Z" fill="#2b91ef"/><path d="M1555.3 396.2L1543.4 393L1534.1 398.1L1545.9 401.4Z" fill="#f9fb15"/><path d="M1545.9 401.4L1534.1 398.1L1524.7 403.5L1536.6 406.7Z" fill="#f9fb15"/><path d="M1536.6 406.7L1524.7 403.5L1515.4 410.3L1527.2 413.9Z" fill="#f8f917"/><path d="M1527.2 413.9L1515.4 410.3L1506.1 418.7L1517.9 422.9Z" fill="#f6f11e"/><path d="M1517.9 422.9L1506.1 418.7L1496.7 430L1508.5 435.1Z" fill="#f5e327"/><path d="M1508.5 435.1L1496.7 430L1487.4 446.7L1499.2 453.2Z" fill="#fec934"/><path d="M1499.2 453.2L1487.4 446.7L1478 467.1L1489.9 474.6Z" fill="#d2bf27"/><path d="M1489.9 474.6L1478 467.1L1468.7 488.8L1480.5 497.2Z" fill="#64cd6f"/><path d="M1480.5 497.2L1468.7 488.8L1459.3 506.8L1471.2 516.6Z" fill="#1cc0b4"/><path d="M1471.2 516.6L1459.3 506.8L1450 522.3L1461.8 533.6Z" fill="#17aeda"/><path d="M1461.8 533.6L1450 522.3L1440.7 535.4L1452.5 548.2Z" fill="#2798ea"/><path d="M1452.5 548.2L1440.7 535.4L1431.3 546.5L1443.1 560.5Z" fill="#2e85f8"/><path d="M1443.1 560.5L1431.3 546.5L1422 554.9L1433.8 570.1Z" fill="#3876fe"/><path d="M1433.8 570.1L1422 554.9L1412.6 560.6L1424.5 576.8Z" fill="#3f6dfe"/><path d="M1424.5 576.8L1412.6 560.6L1403.3 564.4L1415.1 581.2Z" fill="#416bfe"/><path d="M1415.1 581.2L1403.3 564.4L1393.9 565.2L1405.8 582.3Z" fill="#3e70ff"/><path d="M1567.1 399.5L1555.3 396.2L1545.9 401.4L1557.8 404.6Z" fill="#f9fb15"/><path d="M1557.8 404.6L1545.9 401.4L1536.6 406.7L1548.4 410Z" fill="#f9fb15"/><path d="M1548.4 410L1536.6 406.7L1527.2 413.9L1539.1 417.5Z" fill="#f8f817"/><path d="M1539.1 417.5L1527.2 413.9L1517.9 422.9L1529.7 426.9Z" fill="#f6f01f"/><path d="M1529.7 426.9L1517.9 422.9L1508.5 435.1L1520.4 439.8Z" fill="#f6e028"/><path d="M1520.4 439.8L1508.5 435.1L1499.2 453.2L1511 459Z" fill="#fec338"/><path d="M1511 459L1499.2 453.2L1489.9 474.6L1501.7 481.2Z" fill="#c0c32d"/><path d="M1501.7 481.2L1489.9 474.6L1480.5 497.2L1492.3 504.6Z" fill="#4dcb82"/><path d="M1492.3 504.6L1480.5 497.2L1471.2 516.6L1483 525.2Z" fill="#02bbc3"/><path d="M1483 525.2L1471.2 516.6L1461.8 533.6L1473.7 543.4Z" fill="#22a2e4"/><path d="M1473.7 543.4L1461.8 533.6L1452.5 548.2L1464.3 559.2Z" fill="#2d88f6"/><path d="M1464.3 559.2L1452.5 548.2L1443.1 560.5L1455 572.6Z" fill="#3d70ff"/><path d="M1455 572.6L1443.1 560.5L1433.8 570.1L1445.6 583.2Z" fill="#465ffb"/><path d="M1445.6 583.2L1433.8 570.1L1424.5 576.8L1436.3 591Z" fill="#4755f6"/><path d="M1436.3 591L1424.5 576.8L1415.1 581.2L1426.9 596.4Z" fill="#4851f4"/><path d="M1426.9 596.4L1415.1 581.2L1405.8 582.3L1417.6 598.4Z" fill="#4853f5"/><path d="M1578.9 402.7L1567.1 399.5L1557.8 404.6L1569.6 407.9Z" fill="#f9fb15"/><path d="M1569.6 407.9L1557.8 404.6L1548.4 410L1560.2 413.3Z" fill="#f9fb15"/><path d="M1560.2 413.3L1548.4 410L1539.1 417.5L1550.9 420.9Z" fill="#f8f818"/><path d="M1550.9 420.9L1539.1 417.5L1529.7 426.9L1541.6 430.7Z" fill="#f6ef20"/><path d="M1541.6 430.7L1529.7 426.9L1520.4 439.8L1532.2 444.2Z" fill="#f6de29"/><path d="M1532.2 444.2L1520.4 439.8L1511 459L1522.9 464.2Z" fill="#febf3c"/><path d="M1522.9 464.2L1511 459L1501.7 481.2L1513.5 487Z" fill="#b2c635"/><path d="M1513.5 487L1501.7 481.2L1492.3 504.6L1504.2 510.9Z" fill="#3eca90"/><path d="M1504.2 510.9L1492.3 504.6L1483 525.2L1494.8 532.3Z" fill="#05b6ce"/><path d="M1494.8 532.3L1483 525.2L1473.7 543.4L1485.5 551.4Z" fill="#2699e9"/><path d="M1485.5 551.4L1473.7 543.4L1464.3 559.2L1476.2 568.1Z" fill="#327bfc"/><path d="M1476.2 568.1L1464.3 559.2L1455 572.6L1466.8 582.5Z" fill="#4561fc"/><path d="M1466.8 582.5L1455 572.6L1445.6 583.2L1457.5 594.1Z" fill="#484ff2"/><path d="M1457.5 594.1L1445.6 583.2L1436.3 591L1448.1 603Z" fill="#4743e7"/><path d="M1448.1 603L1436.3 591L1426.9 596.4L1438.8 609.7Z" fill="#463ee1"/><path d="M1438.8 609.7L1426.9 596.4L1417.6 598.4L1429.4 613.2Z" fill="#463de0"/><path d="M1590.8 406L1578.9 402.7L1569.6 407.9L1581.4 411.1Z" fill="#f9fb15"/><path d="M1581.4 411.1L1569.6 407.9L1560.2 413.3L1572.1 416.5Z" fill="#f9fb15"/><path d="M1572.1 416.5L1560.2 413.3L1550.9 420.9L1562.7 424.3Z" fill="#f8f818"/><path d="M1562.7 424.3L1550.9 420.9L1541.6 430.7L1553.4 434.3Z" fill="#f5ee21"/><path d="M1553.4 434.3L1541.6 430.7L1532.2 444.2L1544 448.1Z" fill="#f7dc2a"/><path d="M1544 448.1L1532.2 444.2L1522.9 464.2L1534.7 468.6Z" fill="#fcbd3d"/><path d="M1534.7 468.6L1522.9 464.2L1513.5 487L1525.4 491.7Z" fill="#a8c73b"/><path d="M1525.4 491.7L1513.5 487L1504.2 510.9L1516 516Z" fill="#37c898"/><path d="M1516 516L1504.2 510.9L1494.8 532.3L1506.7 537.9Z" fill="#0eb2d4"/><path d="M1506.7 537.9L1494.8 532.3L1485.5 551.4L1497.3 557.6Z" fill="#2a93ee"/><path d="M1497.3 557.6L1485.5 551.4L1476.2 568.1L1488 575Z" fill="#3c72ff"/><path d="M1488 575L1476.2 568.1L1466.8 582.5L1478.6 590Z" fill="#4757f7"/><path d="M1478.6 590L1466.8 582.5L1457.5 594.1L1469.3 602.5Z" fill="#4744e8"/><path d="M1469.3 602.5L1457.5 594.1L1448.1 603L1460 612.4Z" fill="#4538d8"/><path d="M1460 612.4L1448.1 603L1438.8 609.7L1450.6 620.6Z" fill="#4332cb"/><path d="M1450.6 620.6L1438.8 609.7L1429.4 613.2L1441.3 626.4Z" fill="#4230c4"/><path d="M1602.6 409.2L1590.8 406L1581.4 411.1L1593.3 414.3Z" fill="#f9fb15"/><path d="M1593.3 414.3L1581.4 411.1L1572.1 416.5L1583.9 419.8Z" fill="#f9fb15"/><path d="M1583.9 419.8L1572.1 416.5L1562.7 424.3L1574.6 427.6Z" fill="#f8f818"/><path d="M1574.6 427.6L1562.7 424.3L1553.4 434.3L1565.2 437.6Z" fill="#f5ee21"/><path d="M1565.2 437.6L1553.4 434.3L1544 448.1L1555.9 451.5Z" fill="#f7db2a"/><path d="M1555.9 451.5L1544 448.1L1534.7 468.6L1546.5 472.2Z" fill="#fbbc3d"/><path d="M1546.5 472.2L1534.7 468.6L1525.4 491.7L1537.2 495.5Z" fill="#a4c83e"/><path d="M1537.2 495.5L1525.4 491.7L1516 516L1527.8 519.9Z" fill="#35c79b"/><path d="M1527.8 519.9L1516 516L1506.7 537.9L1518.5 542Z" fill="#12b1d7"/><path d="M1518.5 542L1506.7 537.9L1497.3 557.6L1509.2 561.9Z" fill="#2c90f0"/><path d="M1509.2 561.9L1497.3 557.6L1488 575L1499.8 579.5Z" fill="#3f6efe"/><path d="M1499.8 579.5L1488 575L1478.6 590L1490.5 594.8Z" fill="#4853f5"/><path d="M1490.5 594.8L1478.6 590L1469.3 602.5L1481.1 607.8Z" fill="#473fe3"/><path d="M1481.1 607.8L1469.3 602.5L1460 612.4L1471.8 618.5Z" fill="#4434ce"/><path d="M1471.8 618.5L1460 612.4L1450.6 620.6L1462.4 627.9Z" fill="#412dbd"/><path d="M1462.4 627.9L1450.6 620.6L1441.3 626.4L1453.1 636.4Z" fill="#3f29b2"/><path d="M1614.4 412.4L1602.6 409.2L1593.3 414.3L1605.1 417.6Z" fill="#f9fb15"/><path d="M1605.1 417.6L1593.3 414.3L1583.9 419.8L1595.7 423Z" fill="#f9fb15"/><path d="M1595.7 423L1583.9 419.8L1574.6 427.6L1586.4 430.8Z" fill="#f8f818"/><path d="M1586.4 430.8L1574.6 427.6L1565.2 437.6L1577.1 440.8Z" fill="#f5ee21"/><path d="M1577.1 440.8L1565.2 437.6L1555.9 451.5L1567.7 454.6Z" fill="#f7db2a"/><path d="M1567.7 454.6L1555.9 451.5L1546.5 472.2L1558.4 475.1Z" fill="#fbbc3d"/><path d="M1558.4 475.1L1546.5 472.2L1537.2 495.5L1549 498.2Z" fill="#a5c83d"/><path d="M1549 498.2L1537.2 495.5L1527.8 519.9L1539.7 522.5Z" fill="#35c79a"/><path d="M1539.7 522.5L1527.8 519.9L1518.5 542L1530.3 544.4Z" fill="#11b1d6"/><path d="M1530.3 544.4L1518.5 542L1509.2 561.9L1521 564.1Z" fill="#2b91ef"/><path d="M1521 564.1L1509.2 561.9L1499.8 579.5L1511.7 581.5Z" fill="#3e6fff"/><path d="M1511.7 581.5L1499.8 579.5L1490.5 594.8L1502.3 596.5Z" fill="#4854f6"/><path d="M1502.3 596.5L1490.5 594.8L1481.1 607.8L1493 609Z" fill="#4741e5"/><path d="M1493 609L1481.1 607.8L1471.8 618.5L1483.6 618.9Z" fill="#4435d1"/><path d="M1483.6 618.9L1471.8 618.5L1462.4 627.9L1474.3 627.1Z" fill="#422fc2"/><path d="M1474.3 627.1L1462.4 627.9L1453.1 636.4L1464.9 632.9Z" fill="#412cb8"/><path d="M1626.3 415.7L1614.4 412.4L1605.1 417.6L1616.9 420.8Z" fill="#f9fb15"/><path d="M1616.9 420.8L1605.1 417.6L1595.7 423L1607.6 426.3Z" fill="#f9fb15"/><path d="M1607.6 426.3L1595.7 423L1586.4 430.8L1598.2 433.9Z" fill="#f8f818"/><path d="M1598.2 433.9L1586.4 430.8L1577.1 440.8L1588.9 443.7Z" fill="#f5ef21"/><path d="M1588.9 443.7L1577.1 440.8L1567.7 454.6L1579.5 457.1Z" fill="#f7dc2a"/><path d="M1579.5 457.1L1567.7 454.6L1558.4 475.1L1570.2 477.2Z" fill="#fdbd3d"/><path d="M1570.2 477.2L1558.4 475.1L1549 498.2L1560.9 499.9Z" fill="#acc738"/><path d="M1560.9 499.9L1549 498.2L1539.7 522.5L1551.5 523.9Z" fill="#39c994"/><path d="M1551.5 523.9L1539.7 522.5L1530.3 544.4L1542.2 545.3Z" fill="#0ab4d1"/><path d="M1542.2 545.3L1530.3 544.4L1521 564.1L1532.8 564.4Z" fill="#2895ec"/><path d="M1532.8 564.4L1521 564.1L1511.7 581.5L1523.5 581.1Z" fill="#3876fe"/><path d="M1523.5 581.1L1511.7 581.5L1502.3 596.5L1514.1 595.4Z" fill="#475bf9"/><path d="M1514.1 595.4L1502.3 596.5L1493 609L1504.8 607.1Z" fill="#4849ed"/><path d="M1504.8 607.1L1493 609L1483.6 618.9L1495.5 616Z" fill="#463ddf"/><path d="M1495.5 616L1483.6 618.9L1474.3 627.1L1486.1 622.6Z" fill="#4537d5"/><path d="M1486.1 622.6L1474.3 627.1L1464.9 632.9L1476.8 626.2Z" fill="#4435d1"/><path d="M1638.1 418.9L1626.3 415.7L1616.9 420.8L1628.8 424.1Z" fill="#f9fb15"/><path d="M1628.8 424.1L1616.9 420.8L1607.6 426.3L1619.4 429.5Z" fill="#f9fb15"/><path d="M1619.4 429.5L1607.6 426.3L1598.2 433.9L1610.1 436.9Z" fill="#f8f818"/><path d="M1610.1 436.9L1598.2 433.9L1588.9 443.7L1600.7 446.3Z" fill="#f6ef20"/><path d="M1600.7 446.3L1588.9 443.7L1579.5 457.1L1591.4 459.3Z" fill="#f6de29"/><path d="M1591.4 459.3L1579.5 457.1L1570.2 477.2L1582 478.5Z" fill="#fec03a"/><path d="M1582 478.5L1570.2 477.2L1560.9 499.9L1572.7 500.7Z" fill="#b8c431"/><path d="M1572.7 500.7L1560.9 499.9L1551.5 523.9L1563.3 524.1Z" fill="#44ca8a"/><path d="M1563.3 524.1L1551.5 523.9L1542.2 545.3L1554 544.6Z" fill="#01b8c9"/><path d="M1554 544.6L1542.2 545.3L1532.8 564.4L1544.7 562.8Z" fill="#249de7"/><path d="M1544.7 562.8L1532.8 564.4L1523.5 581.1L1535.3 578.6Z" fill="#2f81fa"/><path d="M1535.3 578.6L1523.5 581.1L1514.1 595.4L1526 592Z" fill="#4367fd"/><path d="M1526 592L1514.1 595.4L1504.8 607.1L1516.6 602.7Z" fill="#4756f7"/><path d="M1516.6 602.7L1504.8 607.1L1495.5 616L1507.3 610.4Z" fill="#484bef"/><path d="M1507.3 610.4L1495.5 616L1486.1 622.6L1497.9 615.8Z" fill="#4746eb"/><path d="M1497.9 615.8L1486.1 622.6L1476.8 626.2L1488.6 617.8Z" fill="#4747eb"/><path d="M1649.9 422.2L1638.1 418.9L1628.8 424.1L1640.6 427.3Z" fill="#f9fb15"/><path d="M1640.6 427.3L1628.8 424.1L1619.4 429.5L1631.2 432.7Z" fill="#f9fb15"/><path d="M1631.2 432.7L1619.4 429.5L1610.1 436.9L1621.9 439.9Z" fill="#f8f817"/><path d="M1621.9 439.9L1610.1 436.9L1600.7 446.3L1612.6 448.8Z" fill="#f6f11f"/><path d="M1612.6 448.8L1600.7 446.3L1591.4 459.3L1603.2 461Z" fill="#f5e128"/><path d="M1603.2 461L1591.4 459.3L1582 478.5L1593.9 479.1Z" fill="#fec537"/><path d="M1593.9 479.1L1582 478.5L1572.7 500.7L1584.5 500.6Z" fill="#c8c129"/><path d="M1584.5 500.6L1572.7 500.7L1563.3 524.1L1575.2 523.2Z" fill="#57cc7a"/><path d="M1575.2 523.2L1563.3 524.1L1554 544.6L1565.8 542.6Z" fill="#0bbdbc"/><path d="M1565.8 542.6L1554 544.6L1544.7 562.8L1556.5 559.6Z" fill="#1ea8e0"/><path d="M1556.5 559.6L1544.7 562.8L1535.3 578.6L1547.2 574.1Z" fill="#2c8ff0"/><path d="M1547.2 574.1L1535.3 578.6L1526 592L1537.8 586.5Z" fill="#347afd"/><path d="M1537.8 586.5L1526 592L1516.6 602.7L1528.5 596Z" fill="#4269fe"/><path d="M1528.5 596L1516.6 602.7L1507.3 610.4L1519.1 602.7Z" fill="#4660fb"/><path d="M1519.1 602.7L1507.3 610.4L1497.9 615.8L1509.8 607.1Z" fill="#465dfa"/><path d="M1509.8 607.1L1497.9 615.8L1488.6 617.8L1500.4 608.2Z" fill="#4660fc"/><path d="M1661.8 425.4L1649.9 422.2L1640.6 427.3L1652.4 430.6Z" fill="#f9fb15"/><path d="M1652.4 430.6L1640.6 427.3L1631.2 432.7L1643.1 435.9Z" fill="#f9fb15"/><path d="M1643.1 435.9L1631.2 432.7L1621.9 439.9L1633.7 442.7Z" fill="#f8f917"/><path d="M1633.7 442.7L1621.9 439.9L1612.6 448.8L1624.4 451.1Z" fill="#f6f21e"/><path d="M1624.4 451.1L1612.6 448.8L1603.2 461L1615 462.4Z" fill="#f5e526"/><path d="M1615 462.4L1603.2 461L1593.9 479.1L1605.7 479.1Z" fill="#fdcb32"/><path d="M1605.7 479.1L1593.9 479.1L1584.5 500.6L1596.4 499.6Z" fill="#dbbd29"/><path d="M1596.4 499.6L1584.5 500.6L1575.2 523.2L1587 521.2Z" fill="#73cd63"/><path d="M1587 521.2L1575.2 523.2L1565.8 542.6L1577.7 539.2Z" fill="#28c2ab"/><path d="M1577.7 539.2L1565.8 542.6L1556.5 559.6L1568.3 554.8Z" fill="#0bb3d2"/><path d="M1568.3 554.8L1556.5 559.6L1547.2 574.1L1559 567.8Z" fill="#23a1e5"/><path d="M1559 567.8L1547.2 574.1L1537.8 586.5L1549.6 578.9Z" fill="#2c90f0"/><path d="M1549.6 578.9L1537.8 586.5L1528.5 596L1540.3 587.3Z" fill="#2e83f9"/><path d="M1540.3 587.3L1528.5 596L1519.1 602.7L1531 593Z" fill="#327cfc"/><path d="M1531 593L1519.1 602.7L1509.8 607.1L1521.6 596.8Z" fill="#327cfc"/><path d="M1521.6 596.8L1509.8 607.1L1500.4 608.2L1512.3 597.6Z" fill="#2f81fa"/><path d="M1673.6 428.7L1661.8 425.4L1652.4 430.6L1664.3 433.8Z" fill="#f9fb15"/><path d="M1664.3 433.8L1652.4 430.6L1643.1 435.9L1654.9 439.1Z" fill="#f9fb15"/><path d="M1654.9 439.1L1643.1 435.9L1633.7 442.7L1645.6 445.6Z" fill="#f9f916"/><path d="M1645.6 445.6L1633.7 442.7L1624.4 451.1L1636.2 453.2Z" fill="#f7f41c"/><path d="M1636.2 453.2L1624.4 451.1L1615 462.4L1626.9 463.5Z" fill="#f5e924"/><path d="M1626.9 463.5L1615 462.4L1605.7 479.1L1617.5 478.6Z" fill="#fbd32e"/><path d="M1617.5 478.6L1605.7 479.1L1596.4 499.6L1608.2 497.9Z" fill="#eeba34"/><path d="M1608.2 497.9L1596.4 499.6L1587 521.2L1598.8 518.4Z" fill="#97ca48"/><path d="M1598.8 518.4L1587 521.2L1577.7 539.2L1589.5 534.7Z" fill="#3bc993"/><path d="M1589.5 534.7L1577.7 539.2L1568.3 554.8L1580.2 548.6Z" fill="#0fbebb"/><path d="M1580.2 548.6L1568.3 554.8L1559 567.8L1570.8 559.9Z" fill="#0eb2d4"/><path d="M1570.8 559.9L1559 567.8L1549.6 578.9L1561.5 569.6Z" fill="#1ea7e1"/><path d="M1561.5 569.6L1549.6 578.9L1540.3 587.3L1552.1 576.8Z" fill="#249fe6"/><path d="M1552.1 576.8L1540.3 587.3L1531 593L1542.8 581.7Z" fill="#259be8"/><path d="M1542.8 581.7L1531 593L1521.6 596.8L1533.4 585.1Z" fill="#259ce7"/><path d="M1533.4 585.1L1521.6 596.8L1512.3 597.6L1524.1 586.2Z" fill="#23a1e4"/><path d="M1685.4 431.9L1673.6 428.7L1664.3 433.8L1676.1 437.1Z" fill="#f9fb15"/><path d="M1676.1 437.1L1664.3 433.8L1654.9 439.1L1666.7 442.3Z" fill="#f9fb15"/><path d="M1666.7 442.3L1654.9 439.1L1645.6 445.6L1657.4 448.3Z" fill="#f9fa16"/><path d="M1657.4 448.3L1645.6 445.6L1636.2 453.2L1648.1 455.3Z" fill="#f7f61a"/><path d="M1648.1 455.3L1636.2 453.2L1626.9 463.5L1638.7 464.4Z" fill="#f5ee21"/><path d="M1638.7 464.4L1626.9 463.5L1617.5 478.6L1629.4 477.7Z" fill="#f7dc2a"/><path d="M1629.4 477.7L1617.5 478.6L1608.2 497.9L1620 495.7Z" fill="#febe3c"/><path d="M1620 495.7L1608.2 497.9L1598.8 518.4L1610.7 514.9Z" fill="#bcc42f"/><path d="M1610.7 514.9L1598.8 518.4L1589.5 534.7L1601.3 529.3Z" fill="#61cd71"/><path d="M1601.3 529.3L1589.5 534.7L1580.2 548.6L1592 541.3Z" fill="#34c79c"/><path d="M1592 541.3L1580.2 548.6L1570.8 559.9L1582.7 550.6Z" fill="#1cc0b3"/><path d="M1582.7 550.6L1570.8 559.9L1561.5 569.6L1573.3 558.8Z" fill="#04bbc1"/><path d="M1573.3 558.8L1561.5 569.6L1552.1 576.8L1564 564.8Z" fill="#01b8ca"/><path d="M1564 564.8L1552.1 576.8L1542.8 581.7L1554.6 568.9Z" fill="#03b7cc"/><path d="M1554.6 568.9L1542.8 581.7L1533.4 585.1L1545.3 572.2Z" fill="#01b8c8"/><path d="M1545.3 572.2L1533.4 585.1L1524.1 586.2L1535.9 573.9Z" fill="#04bbc1"/><path d="M1697.3 435.2L1685.4 431.9L1676.1 437.1L1687.9 440.3Z" fill="#f9fb15"/><path d="M1687.9 440.3L1676.1 437.1L1666.7 442.3L1678.6 445.5Z" fill="#f9fb15"/><path d="M1678.6 445.5L1666.7 442.3L1657.4 448.3L1669.2 451.1Z" fill="#f9fa15"/><path d="M1669.2 451.1L1657.4 448.3L1648.1 455.3L1659.9 457.3Z" fill="#f8f818"/><path d="M1659.9 457.3L1648.1 455.3L1638.7 464.4L1650.5 465.2Z" fill="#f6f31d"/><path d="M1650.5 465.2L1638.7 464.4L1629.4 477.7L1641.2 476.6Z" fill="#f5e626"/><path d="M1641.2 476.6L1629.4 477.7L1620 495.7L1631.9 493.3Z" fill="#fdcc32"/><path d="M1631.9 493.3L1620 495.7L1610.7 514.9L1622.5 511.1Z" fill="#dfbc2a"/><path d="M1622.5 511.1L1610.7 514.9L1601.3 529.3L1613.2 523.5Z" fill="#95ca49"/><path d="M1613.2 523.5L1601.3 529.3L1592 541.3L1603.8 533.4Z" fill="#63cd70"/><path d="M1603.8 533.4L1592 541.3L1582.7 550.6L1594.5 540.7Z" fill="#47cb87"/><path d="M1594.5 540.7L1582.7 550.6L1573.3 558.8L1585.1 547.1Z" fill="#3cc992"/><path d="M1585.1 547.1L1573.3 558.8L1564 564.8L1575.8 551.8Z" fill="#37c897"/><path d="M1575.8 551.8L1564 564.8L1554.6 568.9L1566.5 555Z" fill="#39c995"/><path d="M1566.5 555L1554.6 568.9L1545.3 572.2L1557.1 558.3Z" fill="#40ca8d"/><path d="M1557.1 558.3L1545.3 572.2L1535.9 573.9L1547.8 561Z" fill="#4ccb83"/><path d="M1709.1 438.4L1697.3 435.2L1687.9 440.3L1699.8 443.5Z" fill="#f9fb15"/><path d="M1699.8 443.5L1687.9 440.3L1678.6 445.5L1690.4 448.7Z" fill="#f9fb15"/><path d="M1690.4 448.7L1678.6 445.5L1669.2 451.1L1681.1 454Z" fill="#f9fb15"/><path d="M1681.1 454L1669.2 451.1L1659.9 457.3L1671.7 459.5Z" fill="#f9fa16"/><path d="M1671.7 459.5L1659.9 457.3L1650.5 465.2L1662.4 466.5Z" fill="#f8f719"/><path d="M1662.4 466.5L1650.5 465.2L1641.2 476.6L1653 476.4Z" fill="#f5ee21"/><path d="M1653 476.4L1641.2 476.6L1631.9 493.3L1643.7 491.8Z" fill="#f8d92c"/><path d="M1643.7 491.8L1631.9 493.3L1622.5 511.1L1634.3 508.4Z" fill="#f7ba3c"/><path d="M1634.3 508.4L1622.5 511.1L1613.2 523.5L1625 518.9Z" fill="#c2c22c"/><path d="M1625 518.9L1613.2 523.5L1603.8 533.4L1615.7 526.7Z" fill="#a0c841"/><path d="M1615.7 526.7L1603.8 533.4L1594.5 540.7L1606.3 531.8Z" fill="#8fcb4e"/><path d="M1606.3 531.8L1594.5 540.7L1585.1 547.1L1597 536.3Z" fill="#8ccb50"/><path d="M1597 536.3L1585.1 547.1L1575.8 551.8L1587.6 539.3Z" fill="#90ca4d"/><path d="M1587.6 539.3L1575.8 551.8L1566.5 555L1578.3 541.2Z" fill="#9fc942"/><path d="M1578.3 541.2L1566.5 555L1557.1 558.3L1568.9 544.2Z" fill="#b1c635"/><path d="M1568.9 544.2L1557.1 558.3L1547.8 561L1559.6 547.5Z" fill="#bfc32e"/></g>
<path d="M1346.6 607.2L1559.6 665.6L1709.1 583.3M1346.6 607.2L1346.6 462.3M1559.6 665.6L1559.6 520.7M1709.1 583.3L1709.1 438.4M1346.6 462.3L1559.6 520.7L1709.1 438.4L1496.1 380Z" fill="none" stroke="#1a1a1a" stroke-width="1.6" stroke-linejoin="round"/>
<path d="M1559.6 665.6L1554.8 668.3M1709.1 583.3L1715.4 585M1491.8 647L1487 649.7M1661.5 609.5L1667.8 611.2M1424 628.4L1419.2 631.1M1613.9 635.7L1620.2 637.4M1356.2 609.8L1351.4 612.5M1566.3 661.9L1572.6 663.6" stroke="#1a1a1a" stroke-width="1.4" fill="none"/><path d="M1346.6 594L1342.3 592.8M1346.6 580.9L1342.3 579.7M1346.6 567.7L1342.3 566.5M1346.6 554.5L1342.3 553.3M1346.6 541.3L1342.3 540.1M1346.6 528.2L1342.3 527M1346.6 515L1342.3 513.8M1346.6 501.8L1342.3 500.6M1346.6 488.6L1342.3 487.5M1346.6 475.5L1342.3 474.3" stroke="#9a9a9a" stroke-width="0.8" fill="none"/>
<text x="1235.8" y="436.2" font-size="22" textLength="140" lengthAdjust="spacing">Energy density</text>
<text x="1340.1" y="481.2" font-size="22" text-anchor="end" letter-spacing="0.75">-0.195</text>
<text x="1340.7" y="516.5" font-size="22" text-anchor="end" letter-spacing="0.75">-0.197</text>
<text x="1340.1" y="548.4" font-size="22" text-anchor="end" letter-spacing="0.75">-0.199</text>
<text x="1341" y="581.2" font-size="22" text-anchor="end" letter-spacing="0.75">-0.201</text>
<text x="1338.3" y="631.5" font-size="22">1.5</text>
<text x="1304.8" y="653.8" font-size="22" letter-spacing="0.3">[010]</text>
<text x="1369.1" y="656.7" font-size="28" font-style="italic" fill="#3a3a3a">ψ</text>
<text x="1403.6" y="649.2" font-size="22">1.0</text>
<text x="1472.4" y="667.3" font-size="22">0.5</text>
<text x="1546.2" y="684.4" font-size="22">0</text>
<text x="1533" y="708" font-size="22" letter-spacing="0.3">[100]</text>
<text x="1574.8" y="679" font-size="22">1.5</text>
<text x="1622.8" y="655.2" font-size="22">1.0</text>
<text x="1671" y="625.6" font-size="22">0.5</text>
<text x="1719.8" y="595.7" font-size="22">0</text>
<text x="1709.2" y="619.8" font-size="22" letter-spacing="0.3">[001]</text>
<text x="1672.1" y="654.2" font-size="30" font-style="italic" fill="#3a3a3a">α</text>
<text x="1394.6" y="678.5" font-size="22" fill="#cb1226" letter-spacing="0.3">[110]</text>
<text x="1451.3" y="667.1" font-size="21" font-weight="bold" fill="#cb1226">h</text>
<path d="M1456.4 636.3L1431.4 654.4M1442.4 653.8L1431.4 654.4L1435.4 644.1" fill="none" stroke="#cb1226" stroke-width="3.2" stroke-linecap="round" stroke-linejoin="miter"/>
<text x="1328.9" y="713.1" font-size="29.5"><tspan font-style="italic">h</tspan> = 0.15</text>
<text x="1250.5" y="409.5" font-size="40.5" font-weight="bold" font-family="Liberation Sans, sans-serif" fill="#000">H</text>
<circle cx="1459.3" cy="633.5" r="5.3" fill="#0d9be8" stroke="#1b35b0" stroke-width="1.4"/>
<text x="1447.7" y="606.3" font-size="23" font-weight="bold" fill="#ffffff">Q<tspan font-size="17" font-weight="normal" dx="0.5" dy="9.2">4</tspan></text></g></svg></body></html>
